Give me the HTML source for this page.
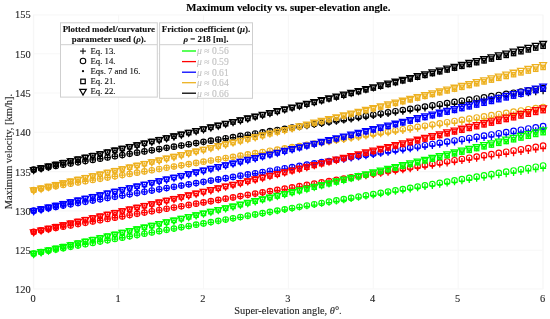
<!DOCTYPE html>
<html><head><meta charset="utf-8"><style>
html,body{margin:0;padding:0;background:#fff;width:550px;height:319px;overflow:hidden;position:relative;font-family:"Liberation Serif",serif;}
</style></head><body>
<svg width="550" height="319" viewBox="0 0 550 319" style="position:absolute;left:0;top:0;will-change:transform">
<line x1="33.70" y1="14.9" x2="33.70" y2="288.9" stroke="#f7f7f7" stroke-width="1.1"/>
<line x1="118.60" y1="14.9" x2="118.60" y2="288.9" stroke="#f7f7f7" stroke-width="1.1"/>
<line x1="203.50" y1="14.9" x2="203.50" y2="288.9" stroke="#f7f7f7" stroke-width="1.1"/>
<line x1="288.40" y1="14.9" x2="288.40" y2="288.9" stroke="#f7f7f7" stroke-width="1.1"/>
<line x1="373.30" y1="14.9" x2="373.30" y2="288.9" stroke="#f7f7f7" stroke-width="1.1"/>
<line x1="458.20" y1="14.9" x2="458.20" y2="288.9" stroke="#f7f7f7" stroke-width="1.1"/>
<line x1="543.10" y1="14.9" x2="543.10" y2="288.9" stroke="#f7f7f7" stroke-width="1.1"/>
<line x1="33.4" y1="250.20" x2="542.9" y2="250.20" stroke="#f7f7f7" stroke-width="1.1"/>
<line x1="33.4" y1="210.90" x2="542.9" y2="210.90" stroke="#f7f7f7" stroke-width="1.1"/>
<line x1="33.4" y1="171.60" x2="542.9" y2="171.60" stroke="#f7f7f7" stroke-width="1.1"/>
<line x1="33.4" y1="132.30" x2="542.9" y2="132.30" stroke="#f7f7f7" stroke-width="1.1"/>
<line x1="33.4" y1="93.00" x2="542.9" y2="93.00" stroke="#f7f7f7" stroke-width="1.1"/>
<line x1="33.4" y1="53.70" x2="542.9" y2="53.70" stroke="#f7f7f7" stroke-width="1.1"/>
<rect x="33.4" y="14.9" width="509.50" height="274.00" fill="none" stroke="#f7f7f7" stroke-width="1.1"/>
<path d="M30.70 253.48H36.70M33.70 250.48V256.48" stroke="#00ff00" stroke-width="1.3" fill="none"/>
<path d="M38.08 252.15H44.08M41.08 249.15V255.15" stroke="#00ff00" stroke-width="1.3" fill="none"/>
<path d="M45.47 250.83H51.47M48.47 247.83V253.83" stroke="#00ff00" stroke-width="1.3" fill="none"/>
<path d="M52.85 249.51H58.85M55.85 246.51V252.51" stroke="#00ff00" stroke-width="1.3" fill="none"/>
<path d="M60.23 248.19H66.23M63.23 245.19V251.19" stroke="#00ff00" stroke-width="1.3" fill="none"/>
<path d="M67.61 246.88H73.61M70.61 243.88V249.88" stroke="#00ff00" stroke-width="1.3" fill="none"/>
<path d="M75.00 245.57H81.00M78.00 242.57V248.57" stroke="#00ff00" stroke-width="1.3" fill="none"/>
<path d="M82.38 244.26H88.38M85.38 241.26V247.26" stroke="#00ff00" stroke-width="1.3" fill="none"/>
<path d="M89.76 242.95H95.76M92.76 239.95V245.95" stroke="#00ff00" stroke-width="1.3" fill="none"/>
<path d="M97.14 241.65H103.14M100.14 238.65V244.65" stroke="#00ff00" stroke-width="1.3" fill="none"/>
<path d="M104.53 240.35H110.53M107.53 237.35V243.35" stroke="#00ff00" stroke-width="1.3" fill="none"/>
<path d="M111.91 239.06H117.91M114.91 236.06V242.06" stroke="#00ff00" stroke-width="1.3" fill="none"/>
<path d="M119.29 237.76H125.29M122.29 234.76V240.76" stroke="#00ff00" stroke-width="1.3" fill="none"/>
<path d="M126.67 236.47H132.67M129.67 233.47V239.47" stroke="#00ff00" stroke-width="1.3" fill="none"/>
<path d="M134.06 235.18H140.06M137.06 232.18V238.18" stroke="#00ff00" stroke-width="1.3" fill="none"/>
<path d="M141.44 233.90H147.44M144.44 230.90V236.90" stroke="#00ff00" stroke-width="1.3" fill="none"/>
<path d="M148.82 232.61H154.82M151.82 229.61V235.61" stroke="#00ff00" stroke-width="1.3" fill="none"/>
<path d="M156.20 231.33H162.20M159.20 228.33V234.33" stroke="#00ff00" stroke-width="1.3" fill="none"/>
<path d="M163.59 230.06H169.59M166.59 227.06V233.06" stroke="#00ff00" stroke-width="1.3" fill="none"/>
<path d="M170.97 228.78H176.97M173.97 225.78V231.78" stroke="#00ff00" stroke-width="1.3" fill="none"/>
<path d="M178.35 227.51H184.35M181.35 224.51V230.51" stroke="#00ff00" stroke-width="1.3" fill="none"/>
<path d="M185.73 226.24H191.73M188.73 223.24V229.24" stroke="#00ff00" stroke-width="1.3" fill="none"/>
<path d="M193.12 224.98H199.12M196.12 221.98V227.98" stroke="#00ff00" stroke-width="1.3" fill="none"/>
<path d="M200.50 223.71H206.50M203.50 220.71V226.71" stroke="#00ff00" stroke-width="1.3" fill="none"/>
<path d="M207.88 222.45H213.88M210.88 219.45V225.45" stroke="#00ff00" stroke-width="1.3" fill="none"/>
<path d="M215.27 221.20H221.27M218.27 218.20V224.20" stroke="#00ff00" stroke-width="1.3" fill="none"/>
<path d="M222.65 219.94H228.65M225.65 216.94V222.94" stroke="#00ff00" stroke-width="1.3" fill="none"/>
<path d="M230.03 218.69H236.03M233.03 215.69V221.69" stroke="#00ff00" stroke-width="1.3" fill="none"/>
<path d="M237.41 217.44H243.41M240.41 214.44V220.44" stroke="#00ff00" stroke-width="1.3" fill="none"/>
<path d="M244.80 216.19H250.80M247.80 213.19V219.19" stroke="#00ff00" stroke-width="1.3" fill="none"/>
<path d="M252.18 214.95H258.18M255.18 211.95V217.95" stroke="#00ff00" stroke-width="1.3" fill="none"/>
<path d="M259.56 213.71H265.56M262.56 210.71V216.71" stroke="#00ff00" stroke-width="1.3" fill="none"/>
<path d="M266.94 212.47H272.94M269.94 209.47V215.47" stroke="#00ff00" stroke-width="1.3" fill="none"/>
<path d="M274.33 211.23H280.33M277.33 208.23V214.23" stroke="#00ff00" stroke-width="1.3" fill="none"/>
<path d="M281.71 210.00H287.71M284.71 207.00V213.00" stroke="#00ff00" stroke-width="1.3" fill="none"/>
<path d="M289.09 208.77H295.09M292.09 205.77V211.77" stroke="#00ff00" stroke-width="1.3" fill="none"/>
<path d="M296.47 207.54H302.47M299.47 204.54V210.54" stroke="#00ff00" stroke-width="1.3" fill="none"/>
<path d="M303.86 206.31H309.86M306.86 203.31V209.31" stroke="#00ff00" stroke-width="1.3" fill="none"/>
<path d="M311.24 205.09H317.24M314.24 202.09V208.09" stroke="#00ff00" stroke-width="1.3" fill="none"/>
<path d="M318.62 203.87H324.62M321.62 200.87V206.87" stroke="#00ff00" stroke-width="1.3" fill="none"/>
<path d="M326.00 202.65H332.00M329.00 199.65V205.65" stroke="#00ff00" stroke-width="1.3" fill="none"/>
<path d="M333.39 201.44H339.39M336.39 198.44V204.44" stroke="#00ff00" stroke-width="1.3" fill="none"/>
<path d="M340.77 200.23H346.77M343.77 197.23V203.23" stroke="#00ff00" stroke-width="1.3" fill="none"/>
<path d="M348.15 199.02H354.15M351.15 196.02V202.02" stroke="#00ff00" stroke-width="1.3" fill="none"/>
<path d="M355.53 197.81H361.53M358.53 194.81V200.81" stroke="#00ff00" stroke-width="1.3" fill="none"/>
<path d="M362.92 196.60H368.92M365.92 193.60V199.60" stroke="#00ff00" stroke-width="1.3" fill="none"/>
<path d="M370.30 195.40H376.30M373.30 192.40V198.40" stroke="#00ff00" stroke-width="1.3" fill="none"/>
<path d="M377.68 194.20H383.68M380.68 191.20V197.20" stroke="#00ff00" stroke-width="1.3" fill="none"/>
<path d="M385.07 193.01H391.07M388.07 190.01V196.01" stroke="#00ff00" stroke-width="1.3" fill="none"/>
<path d="M392.45 191.81H398.45M395.45 188.81V194.81" stroke="#00ff00" stroke-width="1.3" fill="none"/>
<path d="M399.83 190.62H405.83M402.83 187.62V193.62" stroke="#00ff00" stroke-width="1.3" fill="none"/>
<path d="M407.21 189.43H413.21M410.21 186.43V192.43" stroke="#00ff00" stroke-width="1.3" fill="none"/>
<path d="M414.60 188.25H420.60M417.60 185.25V191.25" stroke="#00ff00" stroke-width="1.3" fill="none"/>
<path d="M421.98 187.06H427.98M424.98 184.06V190.06" stroke="#00ff00" stroke-width="1.3" fill="none"/>
<path d="M429.36 185.88H435.36M432.36 182.88V188.88" stroke="#00ff00" stroke-width="1.3" fill="none"/>
<path d="M436.74 184.70H442.74M439.74 181.70V187.70" stroke="#00ff00" stroke-width="1.3" fill="none"/>
<path d="M444.13 183.52H450.13M447.13 180.52V186.52" stroke="#00ff00" stroke-width="1.3" fill="none"/>
<path d="M451.51 182.35H457.51M454.51 179.35V185.35" stroke="#00ff00" stroke-width="1.3" fill="none"/>
<path d="M458.89 181.18H464.89M461.89 178.18V184.18" stroke="#00ff00" stroke-width="1.3" fill="none"/>
<path d="M466.27 180.01H472.27M469.27 177.01V183.01" stroke="#00ff00" stroke-width="1.3" fill="none"/>
<path d="M473.66 178.84H479.66M476.66 175.84V181.84" stroke="#00ff00" stroke-width="1.3" fill="none"/>
<path d="M481.04 177.68H487.04M484.04 174.68V180.68" stroke="#00ff00" stroke-width="1.3" fill="none"/>
<path d="M488.42 176.52H494.42M491.42 173.52V179.52" stroke="#00ff00" stroke-width="1.3" fill="none"/>
<path d="M495.80 175.36H501.80M498.80 172.36V178.36" stroke="#00ff00" stroke-width="1.3" fill="none"/>
<path d="M503.19 174.20H509.19M506.19 171.20V177.20" stroke="#00ff00" stroke-width="1.3" fill="none"/>
<path d="M510.57 173.05H516.57M513.57 170.05V176.05" stroke="#00ff00" stroke-width="1.3" fill="none"/>
<path d="M517.95 171.90H523.95M520.95 168.90V174.90" stroke="#00ff00" stroke-width="1.3" fill="none"/>
<path d="M525.33 170.75H531.33M528.33 167.75V173.75" stroke="#00ff00" stroke-width="1.3" fill="none"/>
<path d="M532.72 169.60H538.72M535.72 166.60V172.60" stroke="#00ff00" stroke-width="1.3" fill="none"/>
<path d="M540.10 168.46H546.10M543.10 165.46V171.46" stroke="#00ff00" stroke-width="1.3" fill="none"/>
<path d="M30.70 231.86H36.70M33.70 228.86V234.86" stroke="#ff0000" stroke-width="1.3" fill="none"/>
<path d="M38.08 230.56H44.08M41.08 227.56V233.56" stroke="#ff0000" stroke-width="1.3" fill="none"/>
<path d="M45.47 229.27H51.47M48.47 226.27V232.27" stroke="#ff0000" stroke-width="1.3" fill="none"/>
<path d="M52.85 227.98H58.85M55.85 224.98V230.98" stroke="#ff0000" stroke-width="1.3" fill="none"/>
<path d="M60.23 226.69H66.23M63.23 223.69V229.69" stroke="#ff0000" stroke-width="1.3" fill="none"/>
<path d="M67.61 225.40H73.61M70.61 222.40V228.40" stroke="#ff0000" stroke-width="1.3" fill="none"/>
<path d="M75.00 224.12H81.00M78.00 221.12V227.12" stroke="#ff0000" stroke-width="1.3" fill="none"/>
<path d="M82.38 222.84H88.38M85.38 219.84V225.84" stroke="#ff0000" stroke-width="1.3" fill="none"/>
<path d="M89.76 221.56H95.76M92.76 218.56V224.56" stroke="#ff0000" stroke-width="1.3" fill="none"/>
<path d="M97.14 220.29H103.14M100.14 217.29V223.29" stroke="#ff0000" stroke-width="1.3" fill="none"/>
<path d="M104.53 219.02H110.53M107.53 216.02V222.02" stroke="#ff0000" stroke-width="1.3" fill="none"/>
<path d="M111.91 217.75H117.91M114.91 214.75V220.75" stroke="#ff0000" stroke-width="1.3" fill="none"/>
<path d="M119.29 216.48H125.29M122.29 213.48V219.48" stroke="#ff0000" stroke-width="1.3" fill="none"/>
<path d="M126.67 215.22H132.67M129.67 212.22V218.22" stroke="#ff0000" stroke-width="1.3" fill="none"/>
<path d="M134.06 213.96H140.06M137.06 210.96V216.96" stroke="#ff0000" stroke-width="1.3" fill="none"/>
<path d="M141.44 212.70H147.44M144.44 209.70V215.70" stroke="#ff0000" stroke-width="1.3" fill="none"/>
<path d="M148.82 211.44H154.82M151.82 208.44V214.44" stroke="#ff0000" stroke-width="1.3" fill="none"/>
<path d="M156.20 210.19H162.20M159.20 207.19V213.19" stroke="#ff0000" stroke-width="1.3" fill="none"/>
<path d="M163.59 208.94H169.59M166.59 205.94V211.94" stroke="#ff0000" stroke-width="1.3" fill="none"/>
<path d="M170.97 207.69H176.97M173.97 204.69V210.69" stroke="#ff0000" stroke-width="1.3" fill="none"/>
<path d="M178.35 206.45H184.35M181.35 203.45V209.45" stroke="#ff0000" stroke-width="1.3" fill="none"/>
<path d="M185.73 205.21H191.73M188.73 202.21V208.21" stroke="#ff0000" stroke-width="1.3" fill="none"/>
<path d="M193.12 203.97H199.12M196.12 200.97V206.97" stroke="#ff0000" stroke-width="1.3" fill="none"/>
<path d="M200.50 202.73H206.50M203.50 199.73V205.73" stroke="#ff0000" stroke-width="1.3" fill="none"/>
<path d="M207.88 201.50H213.88M210.88 198.50V204.50" stroke="#ff0000" stroke-width="1.3" fill="none"/>
<path d="M215.27 200.27H221.27M218.27 197.27V203.27" stroke="#ff0000" stroke-width="1.3" fill="none"/>
<path d="M222.65 199.04H228.65M225.65 196.04V202.04" stroke="#ff0000" stroke-width="1.3" fill="none"/>
<path d="M230.03 197.81H236.03M233.03 194.81V200.81" stroke="#ff0000" stroke-width="1.3" fill="none"/>
<path d="M237.41 196.59H243.41M240.41 193.59V199.59" stroke="#ff0000" stroke-width="1.3" fill="none"/>
<path d="M244.80 195.37H250.80M247.80 192.37V198.37" stroke="#ff0000" stroke-width="1.3" fill="none"/>
<path d="M252.18 194.15H258.18M255.18 191.15V197.15" stroke="#ff0000" stroke-width="1.3" fill="none"/>
<path d="M259.56 192.94H265.56M262.56 189.94V195.94" stroke="#ff0000" stroke-width="1.3" fill="none"/>
<path d="M266.94 191.72H272.94M269.94 188.72V194.72" stroke="#ff0000" stroke-width="1.3" fill="none"/>
<path d="M274.33 190.51H280.33M277.33 187.51V193.51" stroke="#ff0000" stroke-width="1.3" fill="none"/>
<path d="M281.71 189.31H287.71M284.71 186.31V192.31" stroke="#ff0000" stroke-width="1.3" fill="none"/>
<path d="M289.09 188.10H295.09M292.09 185.10V191.10" stroke="#ff0000" stroke-width="1.3" fill="none"/>
<path d="M296.47 186.90H302.47M299.47 183.90V189.90" stroke="#ff0000" stroke-width="1.3" fill="none"/>
<path d="M303.86 185.70H309.86M306.86 182.70V188.70" stroke="#ff0000" stroke-width="1.3" fill="none"/>
<path d="M311.24 184.50H317.24M314.24 181.50V187.50" stroke="#ff0000" stroke-width="1.3" fill="none"/>
<path d="M318.62 183.31H324.62M321.62 180.31V186.31" stroke="#ff0000" stroke-width="1.3" fill="none"/>
<path d="M326.00 182.12H332.00M329.00 179.12V185.12" stroke="#ff0000" stroke-width="1.3" fill="none"/>
<path d="M333.39 180.93H339.39M336.39 177.93V183.93" stroke="#ff0000" stroke-width="1.3" fill="none"/>
<path d="M340.77 179.74H346.77M343.77 176.74V182.74" stroke="#ff0000" stroke-width="1.3" fill="none"/>
<path d="M348.15 178.56H354.15M351.15 175.56V181.56" stroke="#ff0000" stroke-width="1.3" fill="none"/>
<path d="M355.53 177.38H361.53M358.53 174.38V180.38" stroke="#ff0000" stroke-width="1.3" fill="none"/>
<path d="M362.92 176.20H368.92M365.92 173.20V179.20" stroke="#ff0000" stroke-width="1.3" fill="none"/>
<path d="M370.30 175.02H376.30M373.30 172.02V178.02" stroke="#ff0000" stroke-width="1.3" fill="none"/>
<path d="M377.68 173.85H383.68M380.68 170.85V176.85" stroke="#ff0000" stroke-width="1.3" fill="none"/>
<path d="M385.07 172.67H391.07M388.07 169.67V175.67" stroke="#ff0000" stroke-width="1.3" fill="none"/>
<path d="M392.45 171.50H398.45M395.45 168.50V174.50" stroke="#ff0000" stroke-width="1.3" fill="none"/>
<path d="M399.83 170.34H405.83M402.83 167.34V173.34" stroke="#ff0000" stroke-width="1.3" fill="none"/>
<path d="M407.21 169.17H413.21M410.21 166.17V172.17" stroke="#ff0000" stroke-width="1.3" fill="none"/>
<path d="M414.60 168.01H420.60M417.60 165.01V171.01" stroke="#ff0000" stroke-width="1.3" fill="none"/>
<path d="M421.98 166.85H427.98M424.98 163.85V169.85" stroke="#ff0000" stroke-width="1.3" fill="none"/>
<path d="M429.36 165.70H435.36M432.36 162.70V168.70" stroke="#ff0000" stroke-width="1.3" fill="none"/>
<path d="M436.74 164.54H442.74M439.74 161.54V167.54" stroke="#ff0000" stroke-width="1.3" fill="none"/>
<path d="M444.13 163.39H450.13M447.13 160.39V166.39" stroke="#ff0000" stroke-width="1.3" fill="none"/>
<path d="M451.51 162.24H457.51M454.51 159.24V165.24" stroke="#ff0000" stroke-width="1.3" fill="none"/>
<path d="M458.89 161.10H464.89M461.89 158.10V164.10" stroke="#ff0000" stroke-width="1.3" fill="none"/>
<path d="M466.27 159.95H472.27M469.27 156.95V162.95" stroke="#ff0000" stroke-width="1.3" fill="none"/>
<path d="M473.66 158.81H479.66M476.66 155.81V161.81" stroke="#ff0000" stroke-width="1.3" fill="none"/>
<path d="M481.04 157.67H487.04M484.04 154.67V160.67" stroke="#ff0000" stroke-width="1.3" fill="none"/>
<path d="M488.42 156.53H494.42M491.42 153.53V159.53" stroke="#ff0000" stroke-width="1.3" fill="none"/>
<path d="M495.80 155.40H501.80M498.80 152.40V158.40" stroke="#ff0000" stroke-width="1.3" fill="none"/>
<path d="M503.19 154.27H509.19M506.19 151.27V157.27" stroke="#ff0000" stroke-width="1.3" fill="none"/>
<path d="M510.57 153.14H516.57M513.57 150.14V156.14" stroke="#ff0000" stroke-width="1.3" fill="none"/>
<path d="M517.95 152.01H523.95M520.95 149.01V155.01" stroke="#ff0000" stroke-width="1.3" fill="none"/>
<path d="M525.33 150.88H531.33M528.33 147.88V153.88" stroke="#ff0000" stroke-width="1.3" fill="none"/>
<path d="M532.72 149.76H538.72M535.72 146.76V152.76" stroke="#ff0000" stroke-width="1.3" fill="none"/>
<path d="M540.10 148.64H546.10M543.10 145.64V151.64" stroke="#ff0000" stroke-width="1.3" fill="none"/>
<path d="M30.70 210.70H36.70M33.70 207.70V213.70" stroke="#0000ff" stroke-width="1.3" fill="none"/>
<path d="M38.08 209.43H44.08M41.08 206.43V212.43" stroke="#0000ff" stroke-width="1.3" fill="none"/>
<path d="M45.47 208.16H51.47M48.47 205.16V211.16" stroke="#0000ff" stroke-width="1.3" fill="none"/>
<path d="M52.85 206.89H58.85M55.85 203.89V209.89" stroke="#0000ff" stroke-width="1.3" fill="none"/>
<path d="M60.23 205.63H66.23M63.23 202.63V208.63" stroke="#0000ff" stroke-width="1.3" fill="none"/>
<path d="M67.61 204.37H73.61M70.61 201.37V207.37" stroke="#0000ff" stroke-width="1.3" fill="none"/>
<path d="M75.00 203.12H81.00M78.00 200.12V206.12" stroke="#0000ff" stroke-width="1.3" fill="none"/>
<path d="M82.38 201.86H88.38M85.38 198.86V204.86" stroke="#0000ff" stroke-width="1.3" fill="none"/>
<path d="M89.76 200.61H95.76M92.76 197.61V203.61" stroke="#0000ff" stroke-width="1.3" fill="none"/>
<path d="M97.14 199.36H103.14M100.14 196.36V202.36" stroke="#0000ff" stroke-width="1.3" fill="none"/>
<path d="M104.53 198.12H110.53M107.53 195.12V201.12" stroke="#0000ff" stroke-width="1.3" fill="none"/>
<path d="M111.91 196.88H117.91M114.91 193.88V199.88" stroke="#0000ff" stroke-width="1.3" fill="none"/>
<path d="M119.29 195.64H125.29M122.29 192.64V198.64" stroke="#0000ff" stroke-width="1.3" fill="none"/>
<path d="M126.67 194.40H132.67M129.67 191.40V197.40" stroke="#0000ff" stroke-width="1.3" fill="none"/>
<path d="M134.06 193.16H140.06M137.06 190.16V196.16" stroke="#0000ff" stroke-width="1.3" fill="none"/>
<path d="M141.44 191.93H147.44M144.44 188.93V194.93" stroke="#0000ff" stroke-width="1.3" fill="none"/>
<path d="M148.82 190.70H154.82M151.82 187.70V193.70" stroke="#0000ff" stroke-width="1.3" fill="none"/>
<path d="M156.20 189.48H162.20M159.20 186.48V192.48" stroke="#0000ff" stroke-width="1.3" fill="none"/>
<path d="M163.59 188.25H169.59M166.59 185.25V191.25" stroke="#0000ff" stroke-width="1.3" fill="none"/>
<path d="M170.97 187.03H176.97M173.97 184.03V190.03" stroke="#0000ff" stroke-width="1.3" fill="none"/>
<path d="M178.35 185.81H184.35M181.35 182.81V188.81" stroke="#0000ff" stroke-width="1.3" fill="none"/>
<path d="M185.73 184.59H191.73M188.73 181.59V187.59" stroke="#0000ff" stroke-width="1.3" fill="none"/>
<path d="M193.12 183.38H199.12M196.12 180.38V186.38" stroke="#0000ff" stroke-width="1.3" fill="none"/>
<path d="M200.50 182.17H206.50M203.50 179.17V185.17" stroke="#0000ff" stroke-width="1.3" fill="none"/>
<path d="M207.88 180.96H213.88M210.88 177.96V183.96" stroke="#0000ff" stroke-width="1.3" fill="none"/>
<path d="M215.27 179.76H221.27M218.27 176.76V182.76" stroke="#0000ff" stroke-width="1.3" fill="none"/>
<path d="M222.65 178.55H228.65M225.65 175.55V181.55" stroke="#0000ff" stroke-width="1.3" fill="none"/>
<path d="M230.03 177.35H236.03M233.03 174.35V180.35" stroke="#0000ff" stroke-width="1.3" fill="none"/>
<path d="M237.41 176.15H243.41M240.41 173.15V179.15" stroke="#0000ff" stroke-width="1.3" fill="none"/>
<path d="M244.80 174.96H250.80M247.80 171.96V177.96" stroke="#0000ff" stroke-width="1.3" fill="none"/>
<path d="M252.18 173.76H258.18M255.18 170.76V176.76" stroke="#0000ff" stroke-width="1.3" fill="none"/>
<path d="M259.56 172.57H265.56M262.56 169.57V175.57" stroke="#0000ff" stroke-width="1.3" fill="none"/>
<path d="M266.94 171.39H272.94M269.94 168.39V174.39" stroke="#0000ff" stroke-width="1.3" fill="none"/>
<path d="M274.33 170.20H280.33M277.33 167.20V173.20" stroke="#0000ff" stroke-width="1.3" fill="none"/>
<path d="M281.71 169.02H287.71M284.71 166.02V172.02" stroke="#0000ff" stroke-width="1.3" fill="none"/>
<path d="M289.09 167.84H295.09M292.09 164.84V170.84" stroke="#0000ff" stroke-width="1.3" fill="none"/>
<path d="M296.47 166.66H302.47M299.47 163.66V169.66" stroke="#0000ff" stroke-width="1.3" fill="none"/>
<path d="M303.86 165.49H309.86M306.86 162.49V168.49" stroke="#0000ff" stroke-width="1.3" fill="none"/>
<path d="M311.24 164.31H317.24M314.24 161.31V167.31" stroke="#0000ff" stroke-width="1.3" fill="none"/>
<path d="M318.62 163.14H324.62M321.62 160.14V166.14" stroke="#0000ff" stroke-width="1.3" fill="none"/>
<path d="M326.00 161.97H332.00M329.00 158.97V164.97" stroke="#0000ff" stroke-width="1.3" fill="none"/>
<path d="M333.39 160.81H339.39M336.39 157.81V163.81" stroke="#0000ff" stroke-width="1.3" fill="none"/>
<path d="M340.77 159.65H346.77M343.77 156.65V162.65" stroke="#0000ff" stroke-width="1.3" fill="none"/>
<path d="M348.15 158.49H354.15M351.15 155.49V161.49" stroke="#0000ff" stroke-width="1.3" fill="none"/>
<path d="M355.53 157.33H361.53M358.53 154.33V160.33" stroke="#0000ff" stroke-width="1.3" fill="none"/>
<path d="M362.92 156.17H368.92M365.92 153.17V159.17" stroke="#0000ff" stroke-width="1.3" fill="none"/>
<path d="M370.30 155.02H376.30M373.30 152.02V158.02" stroke="#0000ff" stroke-width="1.3" fill="none"/>
<path d="M377.68 153.87H383.68M380.68 150.87V156.87" stroke="#0000ff" stroke-width="1.3" fill="none"/>
<path d="M385.07 152.72H391.07M388.07 149.72V155.72" stroke="#0000ff" stroke-width="1.3" fill="none"/>
<path d="M392.45 151.58H398.45M395.45 148.58V154.58" stroke="#0000ff" stroke-width="1.3" fill="none"/>
<path d="M399.83 150.44H405.83M402.83 147.44V153.44" stroke="#0000ff" stroke-width="1.3" fill="none"/>
<path d="M407.21 149.29H413.21M410.21 146.29V152.29" stroke="#0000ff" stroke-width="1.3" fill="none"/>
<path d="M414.60 148.16H420.60M417.60 145.16V151.16" stroke="#0000ff" stroke-width="1.3" fill="none"/>
<path d="M421.98 147.02H427.98M424.98 144.02V150.02" stroke="#0000ff" stroke-width="1.3" fill="none"/>
<path d="M429.36 145.89H435.36M432.36 142.89V148.89" stroke="#0000ff" stroke-width="1.3" fill="none"/>
<path d="M436.74 144.76H442.74M439.74 141.76V147.76" stroke="#0000ff" stroke-width="1.3" fill="none"/>
<path d="M444.13 143.63H450.13M447.13 140.63V146.63" stroke="#0000ff" stroke-width="1.3" fill="none"/>
<path d="M451.51 142.50H457.51M454.51 139.50V145.50" stroke="#0000ff" stroke-width="1.3" fill="none"/>
<path d="M458.89 141.38H464.89M461.89 138.38V144.38" stroke="#0000ff" stroke-width="1.3" fill="none"/>
<path d="M466.27 140.26H472.27M469.27 137.26V143.26" stroke="#0000ff" stroke-width="1.3" fill="none"/>
<path d="M473.66 139.14H479.66M476.66 136.14V142.14" stroke="#0000ff" stroke-width="1.3" fill="none"/>
<path d="M481.04 138.02H487.04M484.04 135.02V141.02" stroke="#0000ff" stroke-width="1.3" fill="none"/>
<path d="M488.42 136.91H494.42M491.42 133.91V139.91" stroke="#0000ff" stroke-width="1.3" fill="none"/>
<path d="M495.80 135.80H501.80M498.80 132.80V138.80" stroke="#0000ff" stroke-width="1.3" fill="none"/>
<path d="M503.19 134.69H509.19M506.19 131.69V137.69" stroke="#0000ff" stroke-width="1.3" fill="none"/>
<path d="M510.57 133.58H516.57M513.57 130.58V136.58" stroke="#0000ff" stroke-width="1.3" fill="none"/>
<path d="M517.95 132.48H523.95M520.95 129.48V135.48" stroke="#0000ff" stroke-width="1.3" fill="none"/>
<path d="M525.33 131.38H531.33M528.33 128.38V134.38" stroke="#0000ff" stroke-width="1.3" fill="none"/>
<path d="M532.72 130.28H538.72M535.72 127.28V133.28" stroke="#0000ff" stroke-width="1.3" fill="none"/>
<path d="M540.10 129.18H546.10M543.10 126.18V132.18" stroke="#0000ff" stroke-width="1.3" fill="none"/>
<path d="M30.70 189.96H36.70M33.70 186.96V192.96" stroke="#edb120" stroke-width="1.3" fill="none"/>
<path d="M38.08 188.72H44.08M41.08 185.72V191.72" stroke="#edb120" stroke-width="1.3" fill="none"/>
<path d="M45.47 187.48H51.47M48.47 184.48V190.48" stroke="#edb120" stroke-width="1.3" fill="none"/>
<path d="M52.85 186.24H58.85M55.85 183.24V189.24" stroke="#edb120" stroke-width="1.3" fill="none"/>
<path d="M60.23 185.00H66.23M63.23 182.00V188.00" stroke="#edb120" stroke-width="1.3" fill="none"/>
<path d="M67.61 183.77H73.61M70.61 180.77V186.77" stroke="#edb120" stroke-width="1.3" fill="none"/>
<path d="M75.00 182.53H81.00M78.00 179.53V185.53" stroke="#edb120" stroke-width="1.3" fill="none"/>
<path d="M82.38 181.31H88.38M85.38 178.31V184.31" stroke="#edb120" stroke-width="1.3" fill="none"/>
<path d="M89.76 180.08H95.76M92.76 177.08V183.08" stroke="#edb120" stroke-width="1.3" fill="none"/>
<path d="M97.14 178.86H103.14M100.14 175.86V181.86" stroke="#edb120" stroke-width="1.3" fill="none"/>
<path d="M104.53 177.64H110.53M107.53 174.64V180.64" stroke="#edb120" stroke-width="1.3" fill="none"/>
<path d="M111.91 176.42H117.91M114.91 173.42V179.42" stroke="#edb120" stroke-width="1.3" fill="none"/>
<path d="M119.29 175.20H125.29M122.29 172.20V178.20" stroke="#edb120" stroke-width="1.3" fill="none"/>
<path d="M126.67 173.99H132.67M129.67 170.99V176.99" stroke="#edb120" stroke-width="1.3" fill="none"/>
<path d="M134.06 172.78H140.06M137.06 169.78V175.78" stroke="#edb120" stroke-width="1.3" fill="none"/>
<path d="M141.44 171.57H147.44M144.44 168.57V174.57" stroke="#edb120" stroke-width="1.3" fill="none"/>
<path d="M148.82 170.37H154.82M151.82 167.37V173.37" stroke="#edb120" stroke-width="1.3" fill="none"/>
<path d="M156.20 169.16H162.20M159.20 166.16V172.16" stroke="#edb120" stroke-width="1.3" fill="none"/>
<path d="M163.59 167.96H169.59M166.59 164.96V170.96" stroke="#edb120" stroke-width="1.3" fill="none"/>
<path d="M170.97 166.77H176.97M173.97 163.77V169.77" stroke="#edb120" stroke-width="1.3" fill="none"/>
<path d="M178.35 165.57H184.35M181.35 162.57V168.57" stroke="#edb120" stroke-width="1.3" fill="none"/>
<path d="M185.73 164.38H191.73M188.73 161.38V167.38" stroke="#edb120" stroke-width="1.3" fill="none"/>
<path d="M193.12 163.19H199.12M196.12 160.19V166.19" stroke="#edb120" stroke-width="1.3" fill="none"/>
<path d="M200.50 162.00H206.50M203.50 159.00V165.00" stroke="#edb120" stroke-width="1.3" fill="none"/>
<path d="M207.88 160.82H213.88M210.88 157.82V163.82" stroke="#edb120" stroke-width="1.3" fill="none"/>
<path d="M215.27 159.63H221.27M218.27 156.63V162.63" stroke="#edb120" stroke-width="1.3" fill="none"/>
<path d="M222.65 158.46H228.65M225.65 155.46V161.46" stroke="#edb120" stroke-width="1.3" fill="none"/>
<path d="M230.03 157.28H236.03M233.03 154.28V160.28" stroke="#edb120" stroke-width="1.3" fill="none"/>
<path d="M237.41 156.10H243.41M240.41 153.10V159.10" stroke="#edb120" stroke-width="1.3" fill="none"/>
<path d="M244.80 154.93H250.80M247.80 151.93V157.93" stroke="#edb120" stroke-width="1.3" fill="none"/>
<path d="M252.18 153.76H258.18M255.18 150.76V156.76" stroke="#edb120" stroke-width="1.3" fill="none"/>
<path d="M259.56 152.60H265.56M262.56 149.60V155.60" stroke="#edb120" stroke-width="1.3" fill="none"/>
<path d="M266.94 151.43H272.94M269.94 148.43V154.43" stroke="#edb120" stroke-width="1.3" fill="none"/>
<path d="M274.33 150.27H280.33M277.33 147.27V153.27" stroke="#edb120" stroke-width="1.3" fill="none"/>
<path d="M281.71 149.11H287.71M284.71 146.11V152.11" stroke="#edb120" stroke-width="1.3" fill="none"/>
<path d="M289.09 147.95H295.09M292.09 144.95V150.95" stroke="#edb120" stroke-width="1.3" fill="none"/>
<path d="M296.47 146.80H302.47M299.47 143.80V149.80" stroke="#edb120" stroke-width="1.3" fill="none"/>
<path d="M303.86 145.65H309.86M306.86 142.65V148.65" stroke="#edb120" stroke-width="1.3" fill="none"/>
<path d="M311.24 144.50H317.24M314.24 141.50V147.50" stroke="#edb120" stroke-width="1.3" fill="none"/>
<path d="M318.62 143.35H324.62M321.62 140.35V146.35" stroke="#edb120" stroke-width="1.3" fill="none"/>
<path d="M326.00 142.20H332.00M329.00 139.20V145.20" stroke="#edb120" stroke-width="1.3" fill="none"/>
<path d="M333.39 141.06H339.39M336.39 138.06V144.06" stroke="#edb120" stroke-width="1.3" fill="none"/>
<path d="M340.77 139.92H346.77M343.77 136.92V142.92" stroke="#edb120" stroke-width="1.3" fill="none"/>
<path d="M348.15 138.79H354.15M351.15 135.79V141.79" stroke="#edb120" stroke-width="1.3" fill="none"/>
<path d="M355.53 137.65H361.53M358.53 134.65V140.65" stroke="#edb120" stroke-width="1.3" fill="none"/>
<path d="M362.92 136.52H368.92M365.92 133.52V139.52" stroke="#edb120" stroke-width="1.3" fill="none"/>
<path d="M370.30 135.39H376.30M373.30 132.39V138.39" stroke="#edb120" stroke-width="1.3" fill="none"/>
<path d="M377.68 134.26H383.68M380.68 131.26V137.26" stroke="#edb120" stroke-width="1.3" fill="none"/>
<path d="M385.07 133.14H391.07M388.07 130.14V136.14" stroke="#edb120" stroke-width="1.3" fill="none"/>
<path d="M392.45 132.01H398.45M395.45 129.01V135.01" stroke="#edb120" stroke-width="1.3" fill="none"/>
<path d="M399.83 130.89H405.83M402.83 127.89V133.89" stroke="#edb120" stroke-width="1.3" fill="none"/>
<path d="M407.21 129.77H413.21M410.21 126.77V132.77" stroke="#edb120" stroke-width="1.3" fill="none"/>
<path d="M414.60 128.66H420.60M417.60 125.66V131.66" stroke="#edb120" stroke-width="1.3" fill="none"/>
<path d="M421.98 127.55H427.98M424.98 124.55V130.55" stroke="#edb120" stroke-width="1.3" fill="none"/>
<path d="M429.36 126.43H435.36M432.36 123.43V129.43" stroke="#edb120" stroke-width="1.3" fill="none"/>
<path d="M436.74 125.33H442.74M439.74 122.33V128.33" stroke="#edb120" stroke-width="1.3" fill="none"/>
<path d="M444.13 124.22H450.13M447.13 121.22V127.22" stroke="#edb120" stroke-width="1.3" fill="none"/>
<path d="M451.51 123.12H457.51M454.51 120.12V126.12" stroke="#edb120" stroke-width="1.3" fill="none"/>
<path d="M458.89 122.02H464.89M461.89 119.02V125.02" stroke="#edb120" stroke-width="1.3" fill="none"/>
<path d="M466.27 120.92H472.27M469.27 117.92V123.92" stroke="#edb120" stroke-width="1.3" fill="none"/>
<path d="M473.66 119.82H479.66M476.66 116.82V122.82" stroke="#edb120" stroke-width="1.3" fill="none"/>
<path d="M481.04 118.73H487.04M484.04 115.73V121.73" stroke="#edb120" stroke-width="1.3" fill="none"/>
<path d="M488.42 117.63H494.42M491.42 114.63V120.63" stroke="#edb120" stroke-width="1.3" fill="none"/>
<path d="M495.80 116.55H501.80M498.80 113.55V119.55" stroke="#edb120" stroke-width="1.3" fill="none"/>
<path d="M503.19 115.46H509.19M506.19 112.46V118.46" stroke="#edb120" stroke-width="1.3" fill="none"/>
<path d="M510.57 114.37H516.57M513.57 111.37V117.37" stroke="#edb120" stroke-width="1.3" fill="none"/>
<path d="M517.95 113.29H523.95M520.95 110.29V116.29" stroke="#edb120" stroke-width="1.3" fill="none"/>
<path d="M525.33 112.21H531.33M528.33 109.21V115.21" stroke="#edb120" stroke-width="1.3" fill="none"/>
<path d="M532.72 111.13H538.72M535.72 108.13V114.13" stroke="#edb120" stroke-width="1.3" fill="none"/>
<path d="M540.10 110.06H546.10M543.10 107.06V113.06" stroke="#edb120" stroke-width="1.3" fill="none"/>
<path d="M30.70 169.64H36.70M33.70 166.64V172.64" stroke="#000000" stroke-width="1.3" fill="none"/>
<path d="M38.08 168.41H44.08M41.08 165.41V171.41" stroke="#000000" stroke-width="1.3" fill="none"/>
<path d="M45.47 167.20H51.47M48.47 164.20V170.20" stroke="#000000" stroke-width="1.3" fill="none"/>
<path d="M52.85 165.98H58.85M55.85 162.98V168.98" stroke="#000000" stroke-width="1.3" fill="none"/>
<path d="M60.23 164.77H66.23M63.23 161.77V167.77" stroke="#000000" stroke-width="1.3" fill="none"/>
<path d="M67.61 163.56H73.61M70.61 160.56V166.56" stroke="#000000" stroke-width="1.3" fill="none"/>
<path d="M75.00 162.35H81.00M78.00 159.35V165.35" stroke="#000000" stroke-width="1.3" fill="none"/>
<path d="M82.38 161.14H88.38M85.38 158.14V164.14" stroke="#000000" stroke-width="1.3" fill="none"/>
<path d="M89.76 159.94H95.76M92.76 156.94V162.94" stroke="#000000" stroke-width="1.3" fill="none"/>
<path d="M97.14 158.74H103.14M100.14 155.74V161.74" stroke="#000000" stroke-width="1.3" fill="none"/>
<path d="M104.53 157.54H110.53M107.53 154.54V160.54" stroke="#000000" stroke-width="1.3" fill="none"/>
<path d="M111.91 156.35H117.91M114.91 153.35V159.35" stroke="#000000" stroke-width="1.3" fill="none"/>
<path d="M119.29 155.16H125.29M122.29 152.16V158.16" stroke="#000000" stroke-width="1.3" fill="none"/>
<path d="M126.67 153.97H132.67M129.67 150.97V156.97" stroke="#000000" stroke-width="1.3" fill="none"/>
<path d="M134.06 152.78H140.06M137.06 149.78V155.78" stroke="#000000" stroke-width="1.3" fill="none"/>
<path d="M141.44 151.59H147.44M144.44 148.59V154.59" stroke="#000000" stroke-width="1.3" fill="none"/>
<path d="M148.82 150.41H154.82M151.82 147.41V153.41" stroke="#000000" stroke-width="1.3" fill="none"/>
<path d="M156.20 149.23H162.20M159.20 146.23V152.23" stroke="#000000" stroke-width="1.3" fill="none"/>
<path d="M163.59 148.05H169.59M166.59 145.05V151.05" stroke="#000000" stroke-width="1.3" fill="none"/>
<path d="M170.97 146.88H176.97M173.97 143.88V149.88" stroke="#000000" stroke-width="1.3" fill="none"/>
<path d="M178.35 145.71H184.35M181.35 142.71V148.71" stroke="#000000" stroke-width="1.3" fill="none"/>
<path d="M185.73 144.54H191.73M188.73 141.54V147.54" stroke="#000000" stroke-width="1.3" fill="none"/>
<path d="M193.12 143.37H199.12M196.12 140.37V146.37" stroke="#000000" stroke-width="1.3" fill="none"/>
<path d="M200.50 142.21H206.50M203.50 139.21V145.21" stroke="#000000" stroke-width="1.3" fill="none"/>
<path d="M207.88 141.04H213.88M210.88 138.04V144.04" stroke="#000000" stroke-width="1.3" fill="none"/>
<path d="M215.27 139.88H221.27M218.27 136.88V142.88" stroke="#000000" stroke-width="1.3" fill="none"/>
<path d="M222.65 138.73H228.65M225.65 135.73V141.73" stroke="#000000" stroke-width="1.3" fill="none"/>
<path d="M230.03 137.57H236.03M233.03 134.57V140.57" stroke="#000000" stroke-width="1.3" fill="none"/>
<path d="M237.41 136.42H243.41M240.41 133.42V139.42" stroke="#000000" stroke-width="1.3" fill="none"/>
<path d="M244.80 135.27H250.80M247.80 132.27V138.27" stroke="#000000" stroke-width="1.3" fill="none"/>
<path d="M252.18 134.12H258.18M255.18 131.12V137.12" stroke="#000000" stroke-width="1.3" fill="none"/>
<path d="M259.56 132.98H265.56M262.56 129.98V135.98" stroke="#000000" stroke-width="1.3" fill="none"/>
<path d="M266.94 131.84H272.94M269.94 128.84V134.84" stroke="#000000" stroke-width="1.3" fill="none"/>
<path d="M274.33 130.70H280.33M277.33 127.70V133.70" stroke="#000000" stroke-width="1.3" fill="none"/>
<path d="M281.71 129.56H287.71M284.71 126.56V132.56" stroke="#000000" stroke-width="1.3" fill="none"/>
<path d="M289.09 128.42H295.09M292.09 125.42V131.42" stroke="#000000" stroke-width="1.3" fill="none"/>
<path d="M296.47 127.29H302.47M299.47 124.29V130.29" stroke="#000000" stroke-width="1.3" fill="none"/>
<path d="M303.86 126.16H309.86M306.86 123.16V129.16" stroke="#000000" stroke-width="1.3" fill="none"/>
<path d="M311.24 125.03H317.24M314.24 122.03V128.03" stroke="#000000" stroke-width="1.3" fill="none"/>
<path d="M318.62 123.91H324.62M321.62 120.91V126.91" stroke="#000000" stroke-width="1.3" fill="none"/>
<path d="M326.00 122.79H332.00M329.00 119.79V125.79" stroke="#000000" stroke-width="1.3" fill="none"/>
<path d="M333.39 121.67H339.39M336.39 118.67V124.67" stroke="#000000" stroke-width="1.3" fill="none"/>
<path d="M340.77 120.55H346.77M343.77 117.55V123.55" stroke="#000000" stroke-width="1.3" fill="none"/>
<path d="M348.15 119.43H354.15M351.15 116.43V122.43" stroke="#000000" stroke-width="1.3" fill="none"/>
<path d="M355.53 118.32H361.53M358.53 115.32V121.32" stroke="#000000" stroke-width="1.3" fill="none"/>
<path d="M362.92 117.21H368.92M365.92 114.21V120.21" stroke="#000000" stroke-width="1.3" fill="none"/>
<path d="M370.30 116.10H376.30M373.30 113.10V119.10" stroke="#000000" stroke-width="1.3" fill="none"/>
<path d="M377.68 114.99H383.68M380.68 111.99V117.99" stroke="#000000" stroke-width="1.3" fill="none"/>
<path d="M385.07 113.89H391.07M388.07 110.89V116.89" stroke="#000000" stroke-width="1.3" fill="none"/>
<path d="M392.45 112.79H398.45M395.45 109.79V115.79" stroke="#000000" stroke-width="1.3" fill="none"/>
<path d="M399.83 111.69H405.83M402.83 108.69V114.69" stroke="#000000" stroke-width="1.3" fill="none"/>
<path d="M407.21 110.59H413.21M410.21 107.59V113.59" stroke="#000000" stroke-width="1.3" fill="none"/>
<path d="M414.60 109.50H420.60M417.60 106.50V112.50" stroke="#000000" stroke-width="1.3" fill="none"/>
<path d="M421.98 108.41H427.98M424.98 105.41V111.41" stroke="#000000" stroke-width="1.3" fill="none"/>
<path d="M429.36 107.32H435.36M432.36 104.32V110.32" stroke="#000000" stroke-width="1.3" fill="none"/>
<path d="M436.74 106.23H442.74M439.74 103.23V109.23" stroke="#000000" stroke-width="1.3" fill="none"/>
<path d="M444.13 105.15H450.13M447.13 102.15V108.15" stroke="#000000" stroke-width="1.3" fill="none"/>
<path d="M451.51 104.06H457.51M454.51 101.06V107.06" stroke="#000000" stroke-width="1.3" fill="none"/>
<path d="M458.89 102.98H464.89M461.89 99.98V105.98" stroke="#000000" stroke-width="1.3" fill="none"/>
<path d="M466.27 101.90H472.27M469.27 98.90V104.90" stroke="#000000" stroke-width="1.3" fill="none"/>
<path d="M473.66 100.83H479.66M476.66 97.83V103.83" stroke="#000000" stroke-width="1.3" fill="none"/>
<path d="M481.04 99.76H487.04M484.04 96.76V102.76" stroke="#000000" stroke-width="1.3" fill="none"/>
<path d="M488.42 98.69H494.42M491.42 95.69V101.69" stroke="#000000" stroke-width="1.3" fill="none"/>
<path d="M495.80 97.62H501.80M498.80 94.62V100.62" stroke="#000000" stroke-width="1.3" fill="none"/>
<path d="M503.19 96.55H509.19M506.19 93.55V99.55" stroke="#000000" stroke-width="1.3" fill="none"/>
<path d="M510.57 95.49H516.57M513.57 92.49V98.49" stroke="#000000" stroke-width="1.3" fill="none"/>
<path d="M517.95 94.43H523.95M520.95 91.43V97.43" stroke="#000000" stroke-width="1.3" fill="none"/>
<path d="M525.33 93.37H531.33M528.33 90.37V96.37" stroke="#000000" stroke-width="1.3" fill="none"/>
<path d="M532.72 92.31H538.72M535.72 89.31V95.31" stroke="#000000" stroke-width="1.3" fill="none"/>
<path d="M540.10 91.25H546.10M543.10 88.25V94.25" stroke="#000000" stroke-width="1.3" fill="none"/>
<circle cx="33.70" cy="253.48" r="2.76" stroke="#00ff00" stroke-width="1.14" fill="none"/>
<circle cx="41.08" cy="252.15" r="2.76" stroke="#00ff00" stroke-width="1.14" fill="none"/>
<circle cx="48.47" cy="250.83" r="2.76" stroke="#00ff00" stroke-width="1.14" fill="none"/>
<circle cx="55.85" cy="249.50" r="2.76" stroke="#00ff00" stroke-width="1.14" fill="none"/>
<circle cx="63.23" cy="248.18" r="2.76" stroke="#00ff00" stroke-width="1.14" fill="none"/>
<circle cx="70.61" cy="246.86" r="2.76" stroke="#00ff00" stroke-width="1.14" fill="none"/>
<circle cx="78.00" cy="245.55" r="2.76" stroke="#00ff00" stroke-width="1.14" fill="none"/>
<circle cx="85.38" cy="244.23" r="2.76" stroke="#00ff00" stroke-width="1.14" fill="none"/>
<circle cx="92.76" cy="242.92" r="2.76" stroke="#00ff00" stroke-width="1.14" fill="none"/>
<circle cx="100.14" cy="241.61" r="2.76" stroke="#00ff00" stroke-width="1.14" fill="none"/>
<circle cx="107.53" cy="240.30" r="2.76" stroke="#00ff00" stroke-width="1.14" fill="none"/>
<circle cx="114.91" cy="238.99" r="2.76" stroke="#00ff00" stroke-width="1.14" fill="none"/>
<circle cx="122.29" cy="237.68" r="2.76" stroke="#00ff00" stroke-width="1.14" fill="none"/>
<circle cx="129.67" cy="236.37" r="2.76" stroke="#00ff00" stroke-width="1.14" fill="none"/>
<circle cx="137.06" cy="235.07" r="2.76" stroke="#00ff00" stroke-width="1.14" fill="none"/>
<circle cx="144.44" cy="233.77" r="2.76" stroke="#00ff00" stroke-width="1.14" fill="none"/>
<circle cx="151.82" cy="232.47" r="2.76" stroke="#00ff00" stroke-width="1.14" fill="none"/>
<circle cx="159.20" cy="231.17" r="2.76" stroke="#00ff00" stroke-width="1.14" fill="none"/>
<circle cx="166.59" cy="229.87" r="2.76" stroke="#00ff00" stroke-width="1.14" fill="none"/>
<circle cx="173.97" cy="228.57" r="2.76" stroke="#00ff00" stroke-width="1.14" fill="none"/>
<circle cx="181.35" cy="227.28" r="2.76" stroke="#00ff00" stroke-width="1.14" fill="none"/>
<circle cx="188.73" cy="225.99" r="2.76" stroke="#00ff00" stroke-width="1.14" fill="none"/>
<circle cx="196.12" cy="224.70" r="2.76" stroke="#00ff00" stroke-width="1.14" fill="none"/>
<circle cx="203.50" cy="223.41" r="2.76" stroke="#00ff00" stroke-width="1.14" fill="none"/>
<circle cx="210.88" cy="222.12" r="2.76" stroke="#00ff00" stroke-width="1.14" fill="none"/>
<circle cx="218.27" cy="220.83" r="2.76" stroke="#00ff00" stroke-width="1.14" fill="none"/>
<circle cx="225.65" cy="219.55" r="2.76" stroke="#00ff00" stroke-width="1.14" fill="none"/>
<circle cx="233.03" cy="218.26" r="2.76" stroke="#00ff00" stroke-width="1.14" fill="none"/>
<circle cx="240.41" cy="216.98" r="2.76" stroke="#00ff00" stroke-width="1.14" fill="none"/>
<circle cx="247.80" cy="215.70" r="2.76" stroke="#00ff00" stroke-width="1.14" fill="none"/>
<circle cx="255.18" cy="214.42" r="2.76" stroke="#00ff00" stroke-width="1.14" fill="none"/>
<circle cx="262.56" cy="213.14" r="2.76" stroke="#00ff00" stroke-width="1.14" fill="none"/>
<circle cx="269.94" cy="211.87" r="2.76" stroke="#00ff00" stroke-width="1.14" fill="none"/>
<circle cx="277.33" cy="210.59" r="2.76" stroke="#00ff00" stroke-width="1.14" fill="none"/>
<circle cx="284.71" cy="209.32" r="2.76" stroke="#00ff00" stroke-width="1.14" fill="none"/>
<circle cx="292.09" cy="208.04" r="2.76" stroke="#00ff00" stroke-width="1.14" fill="none"/>
<circle cx="299.47" cy="206.77" r="2.76" stroke="#00ff00" stroke-width="1.14" fill="none"/>
<circle cx="306.86" cy="205.50" r="2.76" stroke="#00ff00" stroke-width="1.14" fill="none"/>
<circle cx="314.24" cy="204.24" r="2.76" stroke="#00ff00" stroke-width="1.14" fill="none"/>
<circle cx="321.62" cy="202.97" r="2.76" stroke="#00ff00" stroke-width="1.14" fill="none"/>
<circle cx="329.00" cy="201.70" r="2.76" stroke="#00ff00" stroke-width="1.14" fill="none"/>
<circle cx="336.39" cy="200.44" r="2.76" stroke="#00ff00" stroke-width="1.14" fill="none"/>
<circle cx="343.77" cy="199.18" r="2.76" stroke="#00ff00" stroke-width="1.14" fill="none"/>
<circle cx="351.15" cy="197.91" r="2.76" stroke="#00ff00" stroke-width="1.14" fill="none"/>
<circle cx="358.53" cy="196.65" r="2.76" stroke="#00ff00" stroke-width="1.14" fill="none"/>
<circle cx="365.92" cy="195.39" r="2.76" stroke="#00ff00" stroke-width="1.14" fill="none"/>
<circle cx="373.30" cy="194.14" r="2.76" stroke="#00ff00" stroke-width="1.14" fill="none"/>
<circle cx="380.68" cy="192.88" r="2.76" stroke="#00ff00" stroke-width="1.14" fill="none"/>
<circle cx="388.07" cy="191.63" r="2.76" stroke="#00ff00" stroke-width="1.14" fill="none"/>
<circle cx="395.45" cy="190.37" r="2.76" stroke="#00ff00" stroke-width="1.14" fill="none"/>
<circle cx="402.83" cy="189.12" r="2.76" stroke="#00ff00" stroke-width="1.14" fill="none"/>
<circle cx="410.21" cy="187.87" r="2.76" stroke="#00ff00" stroke-width="1.14" fill="none"/>
<circle cx="417.60" cy="186.62" r="2.76" stroke="#00ff00" stroke-width="1.14" fill="none"/>
<circle cx="424.98" cy="185.37" r="2.76" stroke="#00ff00" stroke-width="1.14" fill="none"/>
<circle cx="432.36" cy="184.12" r="2.76" stroke="#00ff00" stroke-width="1.14" fill="none"/>
<circle cx="439.74" cy="182.87" r="2.76" stroke="#00ff00" stroke-width="1.14" fill="none"/>
<circle cx="447.13" cy="181.63" r="2.76" stroke="#00ff00" stroke-width="1.14" fill="none"/>
<circle cx="454.51" cy="180.38" r="2.76" stroke="#00ff00" stroke-width="1.14" fill="none"/>
<circle cx="461.89" cy="179.14" r="2.76" stroke="#00ff00" stroke-width="1.14" fill="none"/>
<circle cx="469.27" cy="177.90" r="2.76" stroke="#00ff00" stroke-width="1.14" fill="none"/>
<circle cx="476.66" cy="176.65" r="2.76" stroke="#00ff00" stroke-width="1.14" fill="none"/>
<circle cx="484.04" cy="175.41" r="2.76" stroke="#00ff00" stroke-width="1.14" fill="none"/>
<circle cx="491.42" cy="174.18" r="2.76" stroke="#00ff00" stroke-width="1.14" fill="none"/>
<circle cx="498.80" cy="172.94" r="2.76" stroke="#00ff00" stroke-width="1.14" fill="none"/>
<circle cx="506.19" cy="171.70" r="2.76" stroke="#00ff00" stroke-width="1.14" fill="none"/>
<circle cx="513.57" cy="170.46" r="2.76" stroke="#00ff00" stroke-width="1.14" fill="none"/>
<circle cx="520.95" cy="169.23" r="2.76" stroke="#00ff00" stroke-width="1.14" fill="none"/>
<circle cx="528.33" cy="168.00" r="2.76" stroke="#00ff00" stroke-width="1.14" fill="none"/>
<circle cx="535.72" cy="166.76" r="2.76" stroke="#00ff00" stroke-width="1.14" fill="none"/>
<circle cx="543.10" cy="165.53" r="2.76" stroke="#00ff00" stroke-width="1.14" fill="none"/>
<circle cx="33.70" cy="231.86" r="2.76" stroke="#ff0000" stroke-width="1.14" fill="none"/>
<circle cx="41.08" cy="230.56" r="2.76" stroke="#ff0000" stroke-width="1.14" fill="none"/>
<circle cx="48.47" cy="229.26" r="2.76" stroke="#ff0000" stroke-width="1.14" fill="none"/>
<circle cx="55.85" cy="227.97" r="2.76" stroke="#ff0000" stroke-width="1.14" fill="none"/>
<circle cx="63.23" cy="226.68" r="2.76" stroke="#ff0000" stroke-width="1.14" fill="none"/>
<circle cx="70.61" cy="225.39" r="2.76" stroke="#ff0000" stroke-width="1.14" fill="none"/>
<circle cx="78.00" cy="224.10" r="2.76" stroke="#ff0000" stroke-width="1.14" fill="none"/>
<circle cx="85.38" cy="222.81" r="2.76" stroke="#ff0000" stroke-width="1.14" fill="none"/>
<circle cx="92.76" cy="221.52" r="2.76" stroke="#ff0000" stroke-width="1.14" fill="none"/>
<circle cx="100.14" cy="220.24" r="2.76" stroke="#ff0000" stroke-width="1.14" fill="none"/>
<circle cx="107.53" cy="218.96" r="2.76" stroke="#ff0000" stroke-width="1.14" fill="none"/>
<circle cx="114.91" cy="217.68" r="2.76" stroke="#ff0000" stroke-width="1.14" fill="none"/>
<circle cx="122.29" cy="216.40" r="2.76" stroke="#ff0000" stroke-width="1.14" fill="none"/>
<circle cx="129.67" cy="215.12" r="2.76" stroke="#ff0000" stroke-width="1.14" fill="none"/>
<circle cx="137.06" cy="213.84" r="2.76" stroke="#ff0000" stroke-width="1.14" fill="none"/>
<circle cx="144.44" cy="212.57" r="2.76" stroke="#ff0000" stroke-width="1.14" fill="none"/>
<circle cx="151.82" cy="211.29" r="2.76" stroke="#ff0000" stroke-width="1.14" fill="none"/>
<circle cx="159.20" cy="210.02" r="2.76" stroke="#ff0000" stroke-width="1.14" fill="none"/>
<circle cx="166.59" cy="208.75" r="2.76" stroke="#ff0000" stroke-width="1.14" fill="none"/>
<circle cx="173.97" cy="207.48" r="2.76" stroke="#ff0000" stroke-width="1.14" fill="none"/>
<circle cx="181.35" cy="206.21" r="2.76" stroke="#ff0000" stroke-width="1.14" fill="none"/>
<circle cx="188.73" cy="204.95" r="2.76" stroke="#ff0000" stroke-width="1.14" fill="none"/>
<circle cx="196.12" cy="203.68" r="2.76" stroke="#ff0000" stroke-width="1.14" fill="none"/>
<circle cx="203.50" cy="202.42" r="2.76" stroke="#ff0000" stroke-width="1.14" fill="none"/>
<circle cx="210.88" cy="201.16" r="2.76" stroke="#ff0000" stroke-width="1.14" fill="none"/>
<circle cx="218.27" cy="199.90" r="2.76" stroke="#ff0000" stroke-width="1.14" fill="none"/>
<circle cx="225.65" cy="198.64" r="2.76" stroke="#ff0000" stroke-width="1.14" fill="none"/>
<circle cx="233.03" cy="197.38" r="2.76" stroke="#ff0000" stroke-width="1.14" fill="none"/>
<circle cx="240.41" cy="196.12" r="2.76" stroke="#ff0000" stroke-width="1.14" fill="none"/>
<circle cx="247.80" cy="194.87" r="2.76" stroke="#ff0000" stroke-width="1.14" fill="none"/>
<circle cx="255.18" cy="193.61" r="2.76" stroke="#ff0000" stroke-width="1.14" fill="none"/>
<circle cx="262.56" cy="192.36" r="2.76" stroke="#ff0000" stroke-width="1.14" fill="none"/>
<circle cx="269.94" cy="191.11" r="2.76" stroke="#ff0000" stroke-width="1.14" fill="none"/>
<circle cx="277.33" cy="189.86" r="2.76" stroke="#ff0000" stroke-width="1.14" fill="none"/>
<circle cx="284.71" cy="188.61" r="2.76" stroke="#ff0000" stroke-width="1.14" fill="none"/>
<circle cx="292.09" cy="187.36" r="2.76" stroke="#ff0000" stroke-width="1.14" fill="none"/>
<circle cx="299.47" cy="186.12" r="2.76" stroke="#ff0000" stroke-width="1.14" fill="none"/>
<circle cx="306.86" cy="184.87" r="2.76" stroke="#ff0000" stroke-width="1.14" fill="none"/>
<circle cx="314.24" cy="183.63" r="2.76" stroke="#ff0000" stroke-width="1.14" fill="none"/>
<circle cx="321.62" cy="182.39" r="2.76" stroke="#ff0000" stroke-width="1.14" fill="none"/>
<circle cx="329.00" cy="181.15" r="2.76" stroke="#ff0000" stroke-width="1.14" fill="none"/>
<circle cx="336.39" cy="179.91" r="2.76" stroke="#ff0000" stroke-width="1.14" fill="none"/>
<circle cx="343.77" cy="178.67" r="2.76" stroke="#ff0000" stroke-width="1.14" fill="none"/>
<circle cx="351.15" cy="177.43" r="2.76" stroke="#ff0000" stroke-width="1.14" fill="none"/>
<circle cx="358.53" cy="176.20" r="2.76" stroke="#ff0000" stroke-width="1.14" fill="none"/>
<circle cx="365.92" cy="174.96" r="2.76" stroke="#ff0000" stroke-width="1.14" fill="none"/>
<circle cx="373.30" cy="173.73" r="2.76" stroke="#ff0000" stroke-width="1.14" fill="none"/>
<circle cx="380.68" cy="172.50" r="2.76" stroke="#ff0000" stroke-width="1.14" fill="none"/>
<circle cx="388.07" cy="171.27" r="2.76" stroke="#ff0000" stroke-width="1.14" fill="none"/>
<circle cx="395.45" cy="170.03" r="2.76" stroke="#ff0000" stroke-width="1.14" fill="none"/>
<circle cx="402.83" cy="168.81" r="2.76" stroke="#ff0000" stroke-width="1.14" fill="none"/>
<circle cx="410.21" cy="167.58" r="2.76" stroke="#ff0000" stroke-width="1.14" fill="none"/>
<circle cx="417.60" cy="166.35" r="2.76" stroke="#ff0000" stroke-width="1.14" fill="none"/>
<circle cx="424.98" cy="165.13" r="2.76" stroke="#ff0000" stroke-width="1.14" fill="none"/>
<circle cx="432.36" cy="163.90" r="2.76" stroke="#ff0000" stroke-width="1.14" fill="none"/>
<circle cx="439.74" cy="162.68" r="2.76" stroke="#ff0000" stroke-width="1.14" fill="none"/>
<circle cx="447.13" cy="161.46" r="2.76" stroke="#ff0000" stroke-width="1.14" fill="none"/>
<circle cx="454.51" cy="160.23" r="2.76" stroke="#ff0000" stroke-width="1.14" fill="none"/>
<circle cx="461.89" cy="159.01" r="2.76" stroke="#ff0000" stroke-width="1.14" fill="none"/>
<circle cx="469.27" cy="157.80" r="2.76" stroke="#ff0000" stroke-width="1.14" fill="none"/>
<circle cx="476.66" cy="156.58" r="2.76" stroke="#ff0000" stroke-width="1.14" fill="none"/>
<circle cx="484.04" cy="155.36" r="2.76" stroke="#ff0000" stroke-width="1.14" fill="none"/>
<circle cx="491.42" cy="154.14" r="2.76" stroke="#ff0000" stroke-width="1.14" fill="none"/>
<circle cx="498.80" cy="152.93" r="2.76" stroke="#ff0000" stroke-width="1.14" fill="none"/>
<circle cx="506.19" cy="151.72" r="2.76" stroke="#ff0000" stroke-width="1.14" fill="none"/>
<circle cx="513.57" cy="150.50" r="2.76" stroke="#ff0000" stroke-width="1.14" fill="none"/>
<circle cx="520.95" cy="149.29" r="2.76" stroke="#ff0000" stroke-width="1.14" fill="none"/>
<circle cx="528.33" cy="148.08" r="2.76" stroke="#ff0000" stroke-width="1.14" fill="none"/>
<circle cx="535.72" cy="146.87" r="2.76" stroke="#ff0000" stroke-width="1.14" fill="none"/>
<circle cx="543.10" cy="145.66" r="2.76" stroke="#ff0000" stroke-width="1.14" fill="none"/>
<circle cx="33.70" cy="210.70" r="2.76" stroke="#0000ff" stroke-width="1.14" fill="none"/>
<circle cx="41.08" cy="209.43" r="2.76" stroke="#0000ff" stroke-width="1.14" fill="none"/>
<circle cx="48.47" cy="208.16" r="2.76" stroke="#0000ff" stroke-width="1.14" fill="none"/>
<circle cx="55.85" cy="206.89" r="2.76" stroke="#0000ff" stroke-width="1.14" fill="none"/>
<circle cx="63.23" cy="205.62" r="2.76" stroke="#0000ff" stroke-width="1.14" fill="none"/>
<circle cx="70.61" cy="204.36" r="2.76" stroke="#0000ff" stroke-width="1.14" fill="none"/>
<circle cx="78.00" cy="203.10" r="2.76" stroke="#0000ff" stroke-width="1.14" fill="none"/>
<circle cx="85.38" cy="201.83" r="2.76" stroke="#0000ff" stroke-width="1.14" fill="none"/>
<circle cx="92.76" cy="200.57" r="2.76" stroke="#0000ff" stroke-width="1.14" fill="none"/>
<circle cx="100.14" cy="199.32" r="2.76" stroke="#0000ff" stroke-width="1.14" fill="none"/>
<circle cx="107.53" cy="198.06" r="2.76" stroke="#0000ff" stroke-width="1.14" fill="none"/>
<circle cx="114.91" cy="196.80" r="2.76" stroke="#0000ff" stroke-width="1.14" fill="none"/>
<circle cx="122.29" cy="195.55" r="2.76" stroke="#0000ff" stroke-width="1.14" fill="none"/>
<circle cx="129.67" cy="194.30" r="2.76" stroke="#0000ff" stroke-width="1.14" fill="none"/>
<circle cx="137.06" cy="193.05" r="2.76" stroke="#0000ff" stroke-width="1.14" fill="none"/>
<circle cx="144.44" cy="191.80" r="2.76" stroke="#0000ff" stroke-width="1.14" fill="none"/>
<circle cx="151.82" cy="190.55" r="2.76" stroke="#0000ff" stroke-width="1.14" fill="none"/>
<circle cx="159.20" cy="189.30" r="2.76" stroke="#0000ff" stroke-width="1.14" fill="none"/>
<circle cx="166.59" cy="188.06" r="2.76" stroke="#0000ff" stroke-width="1.14" fill="none"/>
<circle cx="173.97" cy="186.81" r="2.76" stroke="#0000ff" stroke-width="1.14" fill="none"/>
<circle cx="181.35" cy="185.57" r="2.76" stroke="#0000ff" stroke-width="1.14" fill="none"/>
<circle cx="188.73" cy="184.33" r="2.76" stroke="#0000ff" stroke-width="1.14" fill="none"/>
<circle cx="196.12" cy="183.09" r="2.76" stroke="#0000ff" stroke-width="1.14" fill="none"/>
<circle cx="203.50" cy="181.85" r="2.76" stroke="#0000ff" stroke-width="1.14" fill="none"/>
<circle cx="210.88" cy="180.61" r="2.76" stroke="#0000ff" stroke-width="1.14" fill="none"/>
<circle cx="218.27" cy="179.38" r="2.76" stroke="#0000ff" stroke-width="1.14" fill="none"/>
<circle cx="225.65" cy="178.14" r="2.76" stroke="#0000ff" stroke-width="1.14" fill="none"/>
<circle cx="233.03" cy="176.91" r="2.76" stroke="#0000ff" stroke-width="1.14" fill="none"/>
<circle cx="240.41" cy="175.68" r="2.76" stroke="#0000ff" stroke-width="1.14" fill="none"/>
<circle cx="247.80" cy="174.45" r="2.76" stroke="#0000ff" stroke-width="1.14" fill="none"/>
<circle cx="255.18" cy="173.22" r="2.76" stroke="#0000ff" stroke-width="1.14" fill="none"/>
<circle cx="262.56" cy="171.99" r="2.76" stroke="#0000ff" stroke-width="1.14" fill="none"/>
<circle cx="269.94" cy="170.76" r="2.76" stroke="#0000ff" stroke-width="1.14" fill="none"/>
<circle cx="277.33" cy="169.53" r="2.76" stroke="#0000ff" stroke-width="1.14" fill="none"/>
<circle cx="284.71" cy="168.31" r="2.76" stroke="#0000ff" stroke-width="1.14" fill="none"/>
<circle cx="292.09" cy="167.09" r="2.76" stroke="#0000ff" stroke-width="1.14" fill="none"/>
<circle cx="299.47" cy="165.86" r="2.76" stroke="#0000ff" stroke-width="1.14" fill="none"/>
<circle cx="306.86" cy="164.64" r="2.76" stroke="#0000ff" stroke-width="1.14" fill="none"/>
<circle cx="314.24" cy="163.42" r="2.76" stroke="#0000ff" stroke-width="1.14" fill="none"/>
<circle cx="321.62" cy="162.20" r="2.76" stroke="#0000ff" stroke-width="1.14" fill="none"/>
<circle cx="329.00" cy="160.99" r="2.76" stroke="#0000ff" stroke-width="1.14" fill="none"/>
<circle cx="336.39" cy="159.77" r="2.76" stroke="#0000ff" stroke-width="1.14" fill="none"/>
<circle cx="343.77" cy="158.56" r="2.76" stroke="#0000ff" stroke-width="1.14" fill="none"/>
<circle cx="351.15" cy="157.34" r="2.76" stroke="#0000ff" stroke-width="1.14" fill="none"/>
<circle cx="358.53" cy="156.13" r="2.76" stroke="#0000ff" stroke-width="1.14" fill="none"/>
<circle cx="365.92" cy="154.92" r="2.76" stroke="#0000ff" stroke-width="1.14" fill="none"/>
<circle cx="373.30" cy="153.71" r="2.76" stroke="#0000ff" stroke-width="1.14" fill="none"/>
<circle cx="380.68" cy="152.50" r="2.76" stroke="#0000ff" stroke-width="1.14" fill="none"/>
<circle cx="388.07" cy="151.29" r="2.76" stroke="#0000ff" stroke-width="1.14" fill="none"/>
<circle cx="395.45" cy="150.08" r="2.76" stroke="#0000ff" stroke-width="1.14" fill="none"/>
<circle cx="402.83" cy="148.87" r="2.76" stroke="#0000ff" stroke-width="1.14" fill="none"/>
<circle cx="410.21" cy="147.67" r="2.76" stroke="#0000ff" stroke-width="1.14" fill="none"/>
<circle cx="417.60" cy="146.47" r="2.76" stroke="#0000ff" stroke-width="1.14" fill="none"/>
<circle cx="424.98" cy="145.26" r="2.76" stroke="#0000ff" stroke-width="1.14" fill="none"/>
<circle cx="432.36" cy="144.06" r="2.76" stroke="#0000ff" stroke-width="1.14" fill="none"/>
<circle cx="439.74" cy="142.86" r="2.76" stroke="#0000ff" stroke-width="1.14" fill="none"/>
<circle cx="447.13" cy="141.66" r="2.76" stroke="#0000ff" stroke-width="1.14" fill="none"/>
<circle cx="454.51" cy="140.46" r="2.76" stroke="#0000ff" stroke-width="1.14" fill="none"/>
<circle cx="461.89" cy="139.26" r="2.76" stroke="#0000ff" stroke-width="1.14" fill="none"/>
<circle cx="469.27" cy="138.06" r="2.76" stroke="#0000ff" stroke-width="1.14" fill="none"/>
<circle cx="476.66" cy="136.87" r="2.76" stroke="#0000ff" stroke-width="1.14" fill="none"/>
<circle cx="484.04" cy="135.67" r="2.76" stroke="#0000ff" stroke-width="1.14" fill="none"/>
<circle cx="491.42" cy="134.48" r="2.76" stroke="#0000ff" stroke-width="1.14" fill="none"/>
<circle cx="498.80" cy="133.29" r="2.76" stroke="#0000ff" stroke-width="1.14" fill="none"/>
<circle cx="506.19" cy="132.09" r="2.76" stroke="#0000ff" stroke-width="1.14" fill="none"/>
<circle cx="513.57" cy="130.90" r="2.76" stroke="#0000ff" stroke-width="1.14" fill="none"/>
<circle cx="520.95" cy="129.71" r="2.76" stroke="#0000ff" stroke-width="1.14" fill="none"/>
<circle cx="528.33" cy="128.52" r="2.76" stroke="#0000ff" stroke-width="1.14" fill="none"/>
<circle cx="535.72" cy="127.33" r="2.76" stroke="#0000ff" stroke-width="1.14" fill="none"/>
<circle cx="543.10" cy="126.15" r="2.76" stroke="#0000ff" stroke-width="1.14" fill="none"/>
<circle cx="33.70" cy="189.96" r="2.76" stroke="#edb120" stroke-width="1.14" fill="none"/>
<circle cx="41.08" cy="188.72" r="2.76" stroke="#edb120" stroke-width="1.14" fill="none"/>
<circle cx="48.47" cy="187.47" r="2.76" stroke="#edb120" stroke-width="1.14" fill="none"/>
<circle cx="55.85" cy="186.23" r="2.76" stroke="#edb120" stroke-width="1.14" fill="none"/>
<circle cx="63.23" cy="184.99" r="2.76" stroke="#edb120" stroke-width="1.14" fill="none"/>
<circle cx="70.61" cy="183.75" r="2.76" stroke="#edb120" stroke-width="1.14" fill="none"/>
<circle cx="78.00" cy="182.51" r="2.76" stroke="#edb120" stroke-width="1.14" fill="none"/>
<circle cx="85.38" cy="181.28" r="2.76" stroke="#edb120" stroke-width="1.14" fill="none"/>
<circle cx="92.76" cy="180.04" r="2.76" stroke="#edb120" stroke-width="1.14" fill="none"/>
<circle cx="100.14" cy="178.81" r="2.76" stroke="#edb120" stroke-width="1.14" fill="none"/>
<circle cx="107.53" cy="177.58" r="2.76" stroke="#edb120" stroke-width="1.14" fill="none"/>
<circle cx="114.91" cy="176.34" r="2.76" stroke="#edb120" stroke-width="1.14" fill="none"/>
<circle cx="122.29" cy="175.11" r="2.76" stroke="#edb120" stroke-width="1.14" fill="none"/>
<circle cx="129.67" cy="173.89" r="2.76" stroke="#edb120" stroke-width="1.14" fill="none"/>
<circle cx="137.06" cy="172.66" r="2.76" stroke="#edb120" stroke-width="1.14" fill="none"/>
<circle cx="144.44" cy="171.43" r="2.76" stroke="#edb120" stroke-width="1.14" fill="none"/>
<circle cx="151.82" cy="170.21" r="2.76" stroke="#edb120" stroke-width="1.14" fill="none"/>
<circle cx="159.20" cy="168.99" r="2.76" stroke="#edb120" stroke-width="1.14" fill="none"/>
<circle cx="166.59" cy="167.76" r="2.76" stroke="#edb120" stroke-width="1.14" fill="none"/>
<circle cx="173.97" cy="166.54" r="2.76" stroke="#edb120" stroke-width="1.14" fill="none"/>
<circle cx="181.35" cy="165.32" r="2.76" stroke="#edb120" stroke-width="1.14" fill="none"/>
<circle cx="188.73" cy="164.11" r="2.76" stroke="#edb120" stroke-width="1.14" fill="none"/>
<circle cx="196.12" cy="162.89" r="2.76" stroke="#edb120" stroke-width="1.14" fill="none"/>
<circle cx="203.50" cy="161.68" r="2.76" stroke="#edb120" stroke-width="1.14" fill="none"/>
<circle cx="210.88" cy="160.46" r="2.76" stroke="#edb120" stroke-width="1.14" fill="none"/>
<circle cx="218.27" cy="159.25" r="2.76" stroke="#edb120" stroke-width="1.14" fill="none"/>
<circle cx="225.65" cy="158.04" r="2.76" stroke="#edb120" stroke-width="1.14" fill="none"/>
<circle cx="233.03" cy="156.83" r="2.76" stroke="#edb120" stroke-width="1.14" fill="none"/>
<circle cx="240.41" cy="155.62" r="2.76" stroke="#edb120" stroke-width="1.14" fill="none"/>
<circle cx="247.80" cy="154.41" r="2.76" stroke="#edb120" stroke-width="1.14" fill="none"/>
<circle cx="255.18" cy="153.20" r="2.76" stroke="#edb120" stroke-width="1.14" fill="none"/>
<circle cx="262.56" cy="152.00" r="2.76" stroke="#edb120" stroke-width="1.14" fill="none"/>
<circle cx="269.94" cy="150.79" r="2.76" stroke="#edb120" stroke-width="1.14" fill="none"/>
<circle cx="277.33" cy="149.59" r="2.76" stroke="#edb120" stroke-width="1.14" fill="none"/>
<circle cx="284.71" cy="148.39" r="2.76" stroke="#edb120" stroke-width="1.14" fill="none"/>
<circle cx="292.09" cy="147.19" r="2.76" stroke="#edb120" stroke-width="1.14" fill="none"/>
<circle cx="299.47" cy="145.99" r="2.76" stroke="#edb120" stroke-width="1.14" fill="none"/>
<circle cx="306.86" cy="144.79" r="2.76" stroke="#edb120" stroke-width="1.14" fill="none"/>
<circle cx="314.24" cy="143.59" r="2.76" stroke="#edb120" stroke-width="1.14" fill="none"/>
<circle cx="321.62" cy="142.39" r="2.76" stroke="#edb120" stroke-width="1.14" fill="none"/>
<circle cx="329.00" cy="141.20" r="2.76" stroke="#edb120" stroke-width="1.14" fill="none"/>
<circle cx="336.39" cy="140.00" r="2.76" stroke="#edb120" stroke-width="1.14" fill="none"/>
<circle cx="343.77" cy="138.81" r="2.76" stroke="#edb120" stroke-width="1.14" fill="none"/>
<circle cx="351.15" cy="137.62" r="2.76" stroke="#edb120" stroke-width="1.14" fill="none"/>
<circle cx="358.53" cy="136.43" r="2.76" stroke="#edb120" stroke-width="1.14" fill="none"/>
<circle cx="365.92" cy="135.24" r="2.76" stroke="#edb120" stroke-width="1.14" fill="none"/>
<circle cx="373.30" cy="134.05" r="2.76" stroke="#edb120" stroke-width="1.14" fill="none"/>
<circle cx="380.68" cy="132.86" r="2.76" stroke="#edb120" stroke-width="1.14" fill="none"/>
<circle cx="388.07" cy="131.67" r="2.76" stroke="#edb120" stroke-width="1.14" fill="none"/>
<circle cx="395.45" cy="130.49" r="2.76" stroke="#edb120" stroke-width="1.14" fill="none"/>
<circle cx="402.83" cy="129.30" r="2.76" stroke="#edb120" stroke-width="1.14" fill="none"/>
<circle cx="410.21" cy="128.12" r="2.76" stroke="#edb120" stroke-width="1.14" fill="none"/>
<circle cx="417.60" cy="126.94" r="2.76" stroke="#edb120" stroke-width="1.14" fill="none"/>
<circle cx="424.98" cy="125.75" r="2.76" stroke="#edb120" stroke-width="1.14" fill="none"/>
<circle cx="432.36" cy="124.57" r="2.76" stroke="#edb120" stroke-width="1.14" fill="none"/>
<circle cx="439.74" cy="123.39" r="2.76" stroke="#edb120" stroke-width="1.14" fill="none"/>
<circle cx="447.13" cy="122.21" r="2.76" stroke="#edb120" stroke-width="1.14" fill="none"/>
<circle cx="454.51" cy="121.04" r="2.76" stroke="#edb120" stroke-width="1.14" fill="none"/>
<circle cx="461.89" cy="119.86" r="2.76" stroke="#edb120" stroke-width="1.14" fill="none"/>
<circle cx="469.27" cy="118.68" r="2.76" stroke="#edb120" stroke-width="1.14" fill="none"/>
<circle cx="476.66" cy="117.51" r="2.76" stroke="#edb120" stroke-width="1.14" fill="none"/>
<circle cx="484.04" cy="116.33" r="2.76" stroke="#edb120" stroke-width="1.14" fill="none"/>
<circle cx="491.42" cy="115.16" r="2.76" stroke="#edb120" stroke-width="1.14" fill="none"/>
<circle cx="498.80" cy="113.99" r="2.76" stroke="#edb120" stroke-width="1.14" fill="none"/>
<circle cx="506.19" cy="112.82" r="2.76" stroke="#edb120" stroke-width="1.14" fill="none"/>
<circle cx="513.57" cy="111.64" r="2.76" stroke="#edb120" stroke-width="1.14" fill="none"/>
<circle cx="520.95" cy="110.47" r="2.76" stroke="#edb120" stroke-width="1.14" fill="none"/>
<circle cx="528.33" cy="109.31" r="2.76" stroke="#edb120" stroke-width="1.14" fill="none"/>
<circle cx="535.72" cy="108.14" r="2.76" stroke="#edb120" stroke-width="1.14" fill="none"/>
<circle cx="543.10" cy="106.97" r="2.76" stroke="#edb120" stroke-width="1.14" fill="none"/>
<circle cx="33.70" cy="169.64" r="2.76" stroke="#000000" stroke-width="1.14" fill="none"/>
<circle cx="41.08" cy="168.41" r="2.76" stroke="#000000" stroke-width="1.14" fill="none"/>
<circle cx="48.47" cy="167.19" r="2.76" stroke="#000000" stroke-width="1.14" fill="none"/>
<circle cx="55.85" cy="165.97" r="2.76" stroke="#000000" stroke-width="1.14" fill="none"/>
<circle cx="63.23" cy="164.76" r="2.76" stroke="#000000" stroke-width="1.14" fill="none"/>
<circle cx="70.61" cy="163.54" r="2.76" stroke="#000000" stroke-width="1.14" fill="none"/>
<circle cx="78.00" cy="162.33" r="2.76" stroke="#000000" stroke-width="1.14" fill="none"/>
<circle cx="85.38" cy="161.11" r="2.76" stroke="#000000" stroke-width="1.14" fill="none"/>
<circle cx="92.76" cy="159.90" r="2.76" stroke="#000000" stroke-width="1.14" fill="none"/>
<circle cx="100.14" cy="158.69" r="2.76" stroke="#000000" stroke-width="1.14" fill="none"/>
<circle cx="107.53" cy="157.48" r="2.76" stroke="#000000" stroke-width="1.14" fill="none"/>
<circle cx="114.91" cy="156.27" r="2.76" stroke="#000000" stroke-width="1.14" fill="none"/>
<circle cx="122.29" cy="155.07" r="2.76" stroke="#000000" stroke-width="1.14" fill="none"/>
<circle cx="129.67" cy="153.86" r="2.76" stroke="#000000" stroke-width="1.14" fill="none"/>
<circle cx="137.06" cy="152.66" r="2.76" stroke="#000000" stroke-width="1.14" fill="none"/>
<circle cx="144.44" cy="151.45" r="2.76" stroke="#000000" stroke-width="1.14" fill="none"/>
<circle cx="151.82" cy="150.25" r="2.76" stroke="#000000" stroke-width="1.14" fill="none"/>
<circle cx="159.20" cy="149.05" r="2.76" stroke="#000000" stroke-width="1.14" fill="none"/>
<circle cx="166.59" cy="147.85" r="2.76" stroke="#000000" stroke-width="1.14" fill="none"/>
<circle cx="173.97" cy="146.65" r="2.76" stroke="#000000" stroke-width="1.14" fill="none"/>
<circle cx="181.35" cy="145.46" r="2.76" stroke="#000000" stroke-width="1.14" fill="none"/>
<circle cx="188.73" cy="144.26" r="2.76" stroke="#000000" stroke-width="1.14" fill="none"/>
<circle cx="196.12" cy="143.07" r="2.76" stroke="#000000" stroke-width="1.14" fill="none"/>
<circle cx="203.50" cy="141.87" r="2.76" stroke="#000000" stroke-width="1.14" fill="none"/>
<circle cx="210.88" cy="140.68" r="2.76" stroke="#000000" stroke-width="1.14" fill="none"/>
<circle cx="218.27" cy="139.49" r="2.76" stroke="#000000" stroke-width="1.14" fill="none"/>
<circle cx="225.65" cy="138.30" r="2.76" stroke="#000000" stroke-width="1.14" fill="none"/>
<circle cx="233.03" cy="137.11" r="2.76" stroke="#000000" stroke-width="1.14" fill="none"/>
<circle cx="240.41" cy="135.93" r="2.76" stroke="#000000" stroke-width="1.14" fill="none"/>
<circle cx="247.80" cy="134.74" r="2.76" stroke="#000000" stroke-width="1.14" fill="none"/>
<circle cx="255.18" cy="133.55" r="2.76" stroke="#000000" stroke-width="1.14" fill="none"/>
<circle cx="262.56" cy="132.37" r="2.76" stroke="#000000" stroke-width="1.14" fill="none"/>
<circle cx="269.94" cy="131.19" r="2.76" stroke="#000000" stroke-width="1.14" fill="none"/>
<circle cx="277.33" cy="130.01" r="2.76" stroke="#000000" stroke-width="1.14" fill="none"/>
<circle cx="284.71" cy="128.82" r="2.76" stroke="#000000" stroke-width="1.14" fill="none"/>
<circle cx="292.09" cy="127.64" r="2.76" stroke="#000000" stroke-width="1.14" fill="none"/>
<circle cx="299.47" cy="126.47" r="2.76" stroke="#000000" stroke-width="1.14" fill="none"/>
<circle cx="306.86" cy="125.29" r="2.76" stroke="#000000" stroke-width="1.14" fill="none"/>
<circle cx="314.24" cy="124.11" r="2.76" stroke="#000000" stroke-width="1.14" fill="none"/>
<circle cx="321.62" cy="122.94" r="2.76" stroke="#000000" stroke-width="1.14" fill="none"/>
<circle cx="329.00" cy="121.76" r="2.76" stroke="#000000" stroke-width="1.14" fill="none"/>
<circle cx="336.39" cy="120.59" r="2.76" stroke="#000000" stroke-width="1.14" fill="none"/>
<circle cx="343.77" cy="119.42" r="2.76" stroke="#000000" stroke-width="1.14" fill="none"/>
<circle cx="351.15" cy="118.25" r="2.76" stroke="#000000" stroke-width="1.14" fill="none"/>
<circle cx="358.53" cy="117.07" r="2.76" stroke="#000000" stroke-width="1.14" fill="none"/>
<circle cx="365.92" cy="115.91" r="2.76" stroke="#000000" stroke-width="1.14" fill="none"/>
<circle cx="373.30" cy="114.74" r="2.76" stroke="#000000" stroke-width="1.14" fill="none"/>
<circle cx="380.68" cy="113.57" r="2.76" stroke="#000000" stroke-width="1.14" fill="none"/>
<circle cx="388.07" cy="112.40" r="2.76" stroke="#000000" stroke-width="1.14" fill="none"/>
<circle cx="395.45" cy="111.24" r="2.76" stroke="#000000" stroke-width="1.14" fill="none"/>
<circle cx="402.83" cy="110.07" r="2.76" stroke="#000000" stroke-width="1.14" fill="none"/>
<circle cx="410.21" cy="108.91" r="2.76" stroke="#000000" stroke-width="1.14" fill="none"/>
<circle cx="417.60" cy="107.75" r="2.76" stroke="#000000" stroke-width="1.14" fill="none"/>
<circle cx="424.98" cy="106.58" r="2.76" stroke="#000000" stroke-width="1.14" fill="none"/>
<circle cx="432.36" cy="105.42" r="2.76" stroke="#000000" stroke-width="1.14" fill="none"/>
<circle cx="439.74" cy="104.26" r="2.76" stroke="#000000" stroke-width="1.14" fill="none"/>
<circle cx="447.13" cy="103.10" r="2.76" stroke="#000000" stroke-width="1.14" fill="none"/>
<circle cx="454.51" cy="101.95" r="2.76" stroke="#000000" stroke-width="1.14" fill="none"/>
<circle cx="461.89" cy="100.79" r="2.76" stroke="#000000" stroke-width="1.14" fill="none"/>
<circle cx="469.27" cy="99.63" r="2.76" stroke="#000000" stroke-width="1.14" fill="none"/>
<circle cx="476.66" cy="98.48" r="2.76" stroke="#000000" stroke-width="1.14" fill="none"/>
<circle cx="484.04" cy="97.32" r="2.76" stroke="#000000" stroke-width="1.14" fill="none"/>
<circle cx="491.42" cy="96.17" r="2.76" stroke="#000000" stroke-width="1.14" fill="none"/>
<circle cx="498.80" cy="95.02" r="2.76" stroke="#000000" stroke-width="1.14" fill="none"/>
<circle cx="506.19" cy="93.86" r="2.76" stroke="#000000" stroke-width="1.14" fill="none"/>
<circle cx="513.57" cy="92.71" r="2.76" stroke="#000000" stroke-width="1.14" fill="none"/>
<circle cx="520.95" cy="91.56" r="2.76" stroke="#000000" stroke-width="1.14" fill="none"/>
<circle cx="528.33" cy="90.41" r="2.76" stroke="#000000" stroke-width="1.14" fill="none"/>
<circle cx="535.72" cy="89.26" r="2.76" stroke="#000000" stroke-width="1.14" fill="none"/>
<circle cx="543.10" cy="88.11" r="2.76" stroke="#000000" stroke-width="1.14" fill="none"/>
<circle cx="33.70" cy="253.48" r="1.1" fill="#00ff00"/>
<circle cx="41.08" cy="251.73" r="1.1" fill="#00ff00"/>
<circle cx="48.47" cy="249.99" r="1.1" fill="#00ff00"/>
<circle cx="55.85" cy="248.25" r="1.1" fill="#00ff00"/>
<circle cx="63.23" cy="246.51" r="1.1" fill="#00ff00"/>
<circle cx="70.61" cy="244.76" r="1.1" fill="#00ff00"/>
<circle cx="78.00" cy="243.02" r="1.1" fill="#00ff00"/>
<circle cx="85.38" cy="241.28" r="1.1" fill="#00ff00"/>
<circle cx="92.76" cy="239.54" r="1.1" fill="#00ff00"/>
<circle cx="100.14" cy="237.79" r="1.1" fill="#00ff00"/>
<circle cx="107.53" cy="236.05" r="1.1" fill="#00ff00"/>
<circle cx="114.91" cy="234.31" r="1.1" fill="#00ff00"/>
<circle cx="122.29" cy="232.57" r="1.1" fill="#00ff00"/>
<circle cx="129.67" cy="230.82" r="1.1" fill="#00ff00"/>
<circle cx="137.06" cy="229.08" r="1.1" fill="#00ff00"/>
<circle cx="144.44" cy="227.34" r="1.1" fill="#00ff00"/>
<circle cx="151.82" cy="225.59" r="1.1" fill="#00ff00"/>
<circle cx="159.20" cy="223.85" r="1.1" fill="#00ff00"/>
<circle cx="166.59" cy="222.11" r="1.1" fill="#00ff00"/>
<circle cx="173.97" cy="220.37" r="1.1" fill="#00ff00"/>
<circle cx="181.35" cy="218.62" r="1.1" fill="#00ff00"/>
<circle cx="188.73" cy="216.88" r="1.1" fill="#00ff00"/>
<circle cx="196.12" cy="215.13" r="1.1" fill="#00ff00"/>
<circle cx="203.50" cy="213.39" r="1.1" fill="#00ff00"/>
<circle cx="210.88" cy="211.65" r="1.1" fill="#00ff00"/>
<circle cx="218.27" cy="209.90" r="1.1" fill="#00ff00"/>
<circle cx="225.65" cy="208.16" r="1.1" fill="#00ff00"/>
<circle cx="233.03" cy="206.41" r="1.1" fill="#00ff00"/>
<circle cx="240.41" cy="204.67" r="1.1" fill="#00ff00"/>
<circle cx="247.80" cy="202.92" r="1.1" fill="#00ff00"/>
<circle cx="255.18" cy="201.18" r="1.1" fill="#00ff00"/>
<circle cx="262.56" cy="199.43" r="1.1" fill="#00ff00"/>
<circle cx="269.94" cy="197.68" r="1.1" fill="#00ff00"/>
<circle cx="277.33" cy="195.94" r="1.1" fill="#00ff00"/>
<circle cx="284.71" cy="194.19" r="1.1" fill="#00ff00"/>
<circle cx="292.09" cy="192.44" r="1.1" fill="#00ff00"/>
<circle cx="299.47" cy="190.69" r="1.1" fill="#00ff00"/>
<circle cx="306.86" cy="188.94" r="1.1" fill="#00ff00"/>
<circle cx="314.24" cy="187.20" r="1.1" fill="#00ff00"/>
<circle cx="321.62" cy="185.45" r="1.1" fill="#00ff00"/>
<circle cx="329.00" cy="183.70" r="1.1" fill="#00ff00"/>
<circle cx="336.39" cy="181.95" r="1.1" fill="#00ff00"/>
<circle cx="343.77" cy="180.19" r="1.1" fill="#00ff00"/>
<circle cx="351.15" cy="178.44" r="1.1" fill="#00ff00"/>
<circle cx="358.53" cy="176.69" r="1.1" fill="#00ff00"/>
<circle cx="365.92" cy="174.94" r="1.1" fill="#00ff00"/>
<circle cx="373.30" cy="173.19" r="1.1" fill="#00ff00"/>
<circle cx="380.68" cy="171.43" r="1.1" fill="#00ff00"/>
<circle cx="388.07" cy="169.68" r="1.1" fill="#00ff00"/>
<circle cx="395.45" cy="167.92" r="1.1" fill="#00ff00"/>
<circle cx="402.83" cy="166.17" r="1.1" fill="#00ff00"/>
<circle cx="410.21" cy="164.41" r="1.1" fill="#00ff00"/>
<circle cx="417.60" cy="162.65" r="1.1" fill="#00ff00"/>
<circle cx="424.98" cy="160.90" r="1.1" fill="#00ff00"/>
<circle cx="432.36" cy="159.14" r="1.1" fill="#00ff00"/>
<circle cx="439.74" cy="157.38" r="1.1" fill="#00ff00"/>
<circle cx="447.13" cy="155.62" r="1.1" fill="#00ff00"/>
<circle cx="454.51" cy="153.86" r="1.1" fill="#00ff00"/>
<circle cx="461.89" cy="152.10" r="1.1" fill="#00ff00"/>
<circle cx="469.27" cy="150.33" r="1.1" fill="#00ff00"/>
<circle cx="476.66" cy="148.57" r="1.1" fill="#00ff00"/>
<circle cx="484.04" cy="146.81" r="1.1" fill="#00ff00"/>
<circle cx="491.42" cy="145.04" r="1.1" fill="#00ff00"/>
<circle cx="498.80" cy="143.28" r="1.1" fill="#00ff00"/>
<circle cx="506.19" cy="141.51" r="1.1" fill="#00ff00"/>
<circle cx="513.57" cy="139.75" r="1.1" fill="#00ff00"/>
<circle cx="520.95" cy="137.98" r="1.1" fill="#00ff00"/>
<circle cx="528.33" cy="136.21" r="1.1" fill="#00ff00"/>
<circle cx="535.72" cy="134.44" r="1.1" fill="#00ff00"/>
<circle cx="543.10" cy="132.67" r="1.1" fill="#00ff00"/>
<circle cx="33.70" cy="231.86" r="1.1" fill="#ff0000"/>
<circle cx="41.08" cy="230.11" r="1.1" fill="#ff0000"/>
<circle cx="48.47" cy="228.37" r="1.1" fill="#ff0000"/>
<circle cx="55.85" cy="226.63" r="1.1" fill="#ff0000"/>
<circle cx="63.23" cy="224.89" r="1.1" fill="#ff0000"/>
<circle cx="70.61" cy="223.14" r="1.1" fill="#ff0000"/>
<circle cx="78.00" cy="221.40" r="1.1" fill="#ff0000"/>
<circle cx="85.38" cy="219.66" r="1.1" fill="#ff0000"/>
<circle cx="92.76" cy="217.91" r="1.1" fill="#ff0000"/>
<circle cx="100.14" cy="216.17" r="1.1" fill="#ff0000"/>
<circle cx="107.53" cy="214.43" r="1.1" fill="#ff0000"/>
<circle cx="114.91" cy="212.68" r="1.1" fill="#ff0000"/>
<circle cx="122.29" cy="210.94" r="1.1" fill="#ff0000"/>
<circle cx="129.67" cy="209.19" r="1.1" fill="#ff0000"/>
<circle cx="137.06" cy="207.45" r="1.1" fill="#ff0000"/>
<circle cx="144.44" cy="205.70" r="1.1" fill="#ff0000"/>
<circle cx="151.82" cy="203.96" r="1.1" fill="#ff0000"/>
<circle cx="159.20" cy="202.21" r="1.1" fill="#ff0000"/>
<circle cx="166.59" cy="200.47" r="1.1" fill="#ff0000"/>
<circle cx="173.97" cy="198.72" r="1.1" fill="#ff0000"/>
<circle cx="181.35" cy="196.97" r="1.1" fill="#ff0000"/>
<circle cx="188.73" cy="195.23" r="1.1" fill="#ff0000"/>
<circle cx="196.12" cy="193.48" r="1.1" fill="#ff0000"/>
<circle cx="203.50" cy="191.73" r="1.1" fill="#ff0000"/>
<circle cx="210.88" cy="189.98" r="1.1" fill="#ff0000"/>
<circle cx="218.27" cy="188.23" r="1.1" fill="#ff0000"/>
<circle cx="225.65" cy="186.48" r="1.1" fill="#ff0000"/>
<circle cx="233.03" cy="184.73" r="1.1" fill="#ff0000"/>
<circle cx="240.41" cy="182.98" r="1.1" fill="#ff0000"/>
<circle cx="247.80" cy="181.23" r="1.1" fill="#ff0000"/>
<circle cx="255.18" cy="179.48" r="1.1" fill="#ff0000"/>
<circle cx="262.56" cy="177.73" r="1.1" fill="#ff0000"/>
<circle cx="269.94" cy="175.98" r="1.1" fill="#ff0000"/>
<circle cx="277.33" cy="174.23" r="1.1" fill="#ff0000"/>
<circle cx="284.71" cy="172.47" r="1.1" fill="#ff0000"/>
<circle cx="292.09" cy="170.72" r="1.1" fill="#ff0000"/>
<circle cx="299.47" cy="168.96" r="1.1" fill="#ff0000"/>
<circle cx="306.86" cy="167.21" r="1.1" fill="#ff0000"/>
<circle cx="314.24" cy="165.45" r="1.1" fill="#ff0000"/>
<circle cx="321.62" cy="163.70" r="1.1" fill="#ff0000"/>
<circle cx="329.00" cy="161.94" r="1.1" fill="#ff0000"/>
<circle cx="336.39" cy="160.18" r="1.1" fill="#ff0000"/>
<circle cx="343.77" cy="158.42" r="1.1" fill="#ff0000"/>
<circle cx="351.15" cy="156.66" r="1.1" fill="#ff0000"/>
<circle cx="358.53" cy="154.90" r="1.1" fill="#ff0000"/>
<circle cx="365.92" cy="153.14" r="1.1" fill="#ff0000"/>
<circle cx="373.30" cy="151.38" r="1.1" fill="#ff0000"/>
<circle cx="380.68" cy="149.62" r="1.1" fill="#ff0000"/>
<circle cx="388.07" cy="147.86" r="1.1" fill="#ff0000"/>
<circle cx="395.45" cy="146.09" r="1.1" fill="#ff0000"/>
<circle cx="402.83" cy="144.33" r="1.1" fill="#ff0000"/>
<circle cx="410.21" cy="142.56" r="1.1" fill="#ff0000"/>
<circle cx="417.60" cy="140.79" r="1.1" fill="#ff0000"/>
<circle cx="424.98" cy="139.03" r="1.1" fill="#ff0000"/>
<circle cx="432.36" cy="137.26" r="1.1" fill="#ff0000"/>
<circle cx="439.74" cy="135.49" r="1.1" fill="#ff0000"/>
<circle cx="447.13" cy="133.72" r="1.1" fill="#ff0000"/>
<circle cx="454.51" cy="131.95" r="1.1" fill="#ff0000"/>
<circle cx="461.89" cy="130.18" r="1.1" fill="#ff0000"/>
<circle cx="469.27" cy="128.40" r="1.1" fill="#ff0000"/>
<circle cx="476.66" cy="126.63" r="1.1" fill="#ff0000"/>
<circle cx="484.04" cy="124.85" r="1.1" fill="#ff0000"/>
<circle cx="491.42" cy="123.08" r="1.1" fill="#ff0000"/>
<circle cx="498.80" cy="121.30" r="1.1" fill="#ff0000"/>
<circle cx="506.19" cy="119.52" r="1.1" fill="#ff0000"/>
<circle cx="513.57" cy="117.74" r="1.1" fill="#ff0000"/>
<circle cx="520.95" cy="115.96" r="1.1" fill="#ff0000"/>
<circle cx="528.33" cy="114.18" r="1.1" fill="#ff0000"/>
<circle cx="535.72" cy="112.40" r="1.1" fill="#ff0000"/>
<circle cx="543.10" cy="110.62" r="1.1" fill="#ff0000"/>
<circle cx="33.70" cy="210.70" r="1.1" fill="#0000ff"/>
<circle cx="41.08" cy="208.95" r="1.1" fill="#0000ff"/>
<circle cx="48.47" cy="207.21" r="1.1" fill="#0000ff"/>
<circle cx="55.85" cy="205.46" r="1.1" fill="#0000ff"/>
<circle cx="63.23" cy="203.72" r="1.1" fill="#0000ff"/>
<circle cx="70.61" cy="201.97" r="1.1" fill="#0000ff"/>
<circle cx="78.00" cy="200.22" r="1.1" fill="#0000ff"/>
<circle cx="85.38" cy="198.48" r="1.1" fill="#0000ff"/>
<circle cx="92.76" cy="196.73" r="1.1" fill="#0000ff"/>
<circle cx="100.14" cy="194.98" r="1.1" fill="#0000ff"/>
<circle cx="107.53" cy="193.24" r="1.1" fill="#0000ff"/>
<circle cx="114.91" cy="191.49" r="1.1" fill="#0000ff"/>
<circle cx="122.29" cy="189.74" r="1.1" fill="#0000ff"/>
<circle cx="129.67" cy="187.99" r="1.1" fill="#0000ff"/>
<circle cx="137.06" cy="186.24" r="1.1" fill="#0000ff"/>
<circle cx="144.44" cy="184.49" r="1.1" fill="#0000ff"/>
<circle cx="151.82" cy="182.74" r="1.1" fill="#0000ff"/>
<circle cx="159.20" cy="180.99" r="1.1" fill="#0000ff"/>
<circle cx="166.59" cy="179.24" r="1.1" fill="#0000ff"/>
<circle cx="173.97" cy="177.49" r="1.1" fill="#0000ff"/>
<circle cx="181.35" cy="175.74" r="1.1" fill="#0000ff"/>
<circle cx="188.73" cy="173.98" r="1.1" fill="#0000ff"/>
<circle cx="196.12" cy="172.23" r="1.1" fill="#0000ff"/>
<circle cx="203.50" cy="170.47" r="1.1" fill="#0000ff"/>
<circle cx="210.88" cy="168.72" r="1.1" fill="#0000ff"/>
<circle cx="218.27" cy="166.96" r="1.1" fill="#0000ff"/>
<circle cx="225.65" cy="165.21" r="1.1" fill="#0000ff"/>
<circle cx="233.03" cy="163.45" r="1.1" fill="#0000ff"/>
<circle cx="240.41" cy="161.69" r="1.1" fill="#0000ff"/>
<circle cx="247.80" cy="159.94" r="1.1" fill="#0000ff"/>
<circle cx="255.18" cy="158.18" r="1.1" fill="#0000ff"/>
<circle cx="262.56" cy="156.42" r="1.1" fill="#0000ff"/>
<circle cx="269.94" cy="154.66" r="1.1" fill="#0000ff"/>
<circle cx="277.33" cy="152.90" r="1.1" fill="#0000ff"/>
<circle cx="284.71" cy="151.14" r="1.1" fill="#0000ff"/>
<circle cx="292.09" cy="149.37" r="1.1" fill="#0000ff"/>
<circle cx="299.47" cy="147.61" r="1.1" fill="#0000ff"/>
<circle cx="306.86" cy="145.85" r="1.1" fill="#0000ff"/>
<circle cx="314.24" cy="144.08" r="1.1" fill="#0000ff"/>
<circle cx="321.62" cy="142.32" r="1.1" fill="#0000ff"/>
<circle cx="329.00" cy="140.55" r="1.1" fill="#0000ff"/>
<circle cx="336.39" cy="138.78" r="1.1" fill="#0000ff"/>
<circle cx="343.77" cy="137.01" r="1.1" fill="#0000ff"/>
<circle cx="351.15" cy="135.24" r="1.1" fill="#0000ff"/>
<circle cx="358.53" cy="133.47" r="1.1" fill="#0000ff"/>
<circle cx="365.92" cy="131.70" r="1.1" fill="#0000ff"/>
<circle cx="373.30" cy="129.93" r="1.1" fill="#0000ff"/>
<circle cx="380.68" cy="128.16" r="1.1" fill="#0000ff"/>
<circle cx="388.07" cy="126.38" r="1.1" fill="#0000ff"/>
<circle cx="395.45" cy="124.61" r="1.1" fill="#0000ff"/>
<circle cx="402.83" cy="122.83" r="1.1" fill="#0000ff"/>
<circle cx="410.21" cy="121.06" r="1.1" fill="#0000ff"/>
<circle cx="417.60" cy="119.28" r="1.1" fill="#0000ff"/>
<circle cx="424.98" cy="117.50" r="1.1" fill="#0000ff"/>
<circle cx="432.36" cy="115.72" r="1.1" fill="#0000ff"/>
<circle cx="439.74" cy="113.94" r="1.1" fill="#0000ff"/>
<circle cx="447.13" cy="112.15" r="1.1" fill="#0000ff"/>
<circle cx="454.51" cy="110.37" r="1.1" fill="#0000ff"/>
<circle cx="461.89" cy="108.58" r="1.1" fill="#0000ff"/>
<circle cx="469.27" cy="106.80" r="1.1" fill="#0000ff"/>
<circle cx="476.66" cy="105.01" r="1.1" fill="#0000ff"/>
<circle cx="484.04" cy="103.22" r="1.1" fill="#0000ff"/>
<circle cx="491.42" cy="101.43" r="1.1" fill="#0000ff"/>
<circle cx="498.80" cy="99.64" r="1.1" fill="#0000ff"/>
<circle cx="506.19" cy="97.85" r="1.1" fill="#0000ff"/>
<circle cx="513.57" cy="96.06" r="1.1" fill="#0000ff"/>
<circle cx="520.95" cy="94.26" r="1.1" fill="#0000ff"/>
<circle cx="528.33" cy="92.47" r="1.1" fill="#0000ff"/>
<circle cx="535.72" cy="90.67" r="1.1" fill="#0000ff"/>
<circle cx="543.10" cy="88.87" r="1.1" fill="#0000ff"/>
<circle cx="33.70" cy="189.96" r="1.1" fill="#edb120"/>
<circle cx="41.08" cy="188.21" r="1.1" fill="#edb120"/>
<circle cx="48.47" cy="186.47" r="1.1" fill="#edb120"/>
<circle cx="55.85" cy="184.72" r="1.1" fill="#edb120"/>
<circle cx="63.23" cy="182.97" r="1.1" fill="#edb120"/>
<circle cx="70.61" cy="181.21" r="1.1" fill="#edb120"/>
<circle cx="78.00" cy="179.46" r="1.1" fill="#edb120"/>
<circle cx="85.38" cy="177.71" r="1.1" fill="#edb120"/>
<circle cx="92.76" cy="175.96" r="1.1" fill="#edb120"/>
<circle cx="100.14" cy="174.21" r="1.1" fill="#edb120"/>
<circle cx="107.53" cy="172.45" r="1.1" fill="#edb120"/>
<circle cx="114.91" cy="170.70" r="1.1" fill="#edb120"/>
<circle cx="122.29" cy="168.94" r="1.1" fill="#edb120"/>
<circle cx="129.67" cy="167.19" r="1.1" fill="#edb120"/>
<circle cx="137.06" cy="165.43" r="1.1" fill="#edb120"/>
<circle cx="144.44" cy="163.68" r="1.1" fill="#edb120"/>
<circle cx="151.82" cy="161.92" r="1.1" fill="#edb120"/>
<circle cx="159.20" cy="160.16" r="1.1" fill="#edb120"/>
<circle cx="166.59" cy="158.40" r="1.1" fill="#edb120"/>
<circle cx="173.97" cy="156.64" r="1.1" fill="#edb120"/>
<circle cx="181.35" cy="154.88" r="1.1" fill="#edb120"/>
<circle cx="188.73" cy="153.12" r="1.1" fill="#edb120"/>
<circle cx="196.12" cy="151.36" r="1.1" fill="#edb120"/>
<circle cx="203.50" cy="149.60" r="1.1" fill="#edb120"/>
<circle cx="210.88" cy="147.84" r="1.1" fill="#edb120"/>
<circle cx="218.27" cy="146.07" r="1.1" fill="#edb120"/>
<circle cx="225.65" cy="144.31" r="1.1" fill="#edb120"/>
<circle cx="233.03" cy="142.54" r="1.1" fill="#edb120"/>
<circle cx="240.41" cy="140.78" r="1.1" fill="#edb120"/>
<circle cx="247.80" cy="139.01" r="1.1" fill="#edb120"/>
<circle cx="255.18" cy="137.24" r="1.1" fill="#edb120"/>
<circle cx="262.56" cy="135.47" r="1.1" fill="#edb120"/>
<circle cx="269.94" cy="133.70" r="1.1" fill="#edb120"/>
<circle cx="277.33" cy="131.93" r="1.1" fill="#edb120"/>
<circle cx="284.71" cy="130.16" r="1.1" fill="#edb120"/>
<circle cx="292.09" cy="128.38" r="1.1" fill="#edb120"/>
<circle cx="299.47" cy="126.61" r="1.1" fill="#edb120"/>
<circle cx="306.86" cy="124.84" r="1.1" fill="#edb120"/>
<circle cx="314.24" cy="123.06" r="1.1" fill="#edb120"/>
<circle cx="321.62" cy="121.28" r="1.1" fill="#edb120"/>
<circle cx="329.00" cy="119.50" r="1.1" fill="#edb120"/>
<circle cx="336.39" cy="117.73" r="1.1" fill="#edb120"/>
<circle cx="343.77" cy="115.95" r="1.1" fill="#edb120"/>
<circle cx="351.15" cy="114.16" r="1.1" fill="#edb120"/>
<circle cx="358.53" cy="112.38" r="1.1" fill="#edb120"/>
<circle cx="365.92" cy="110.60" r="1.1" fill="#edb120"/>
<circle cx="373.30" cy="108.81" r="1.1" fill="#edb120"/>
<circle cx="380.68" cy="107.03" r="1.1" fill="#edb120"/>
<circle cx="388.07" cy="105.24" r="1.1" fill="#edb120"/>
<circle cx="395.45" cy="103.45" r="1.1" fill="#edb120"/>
<circle cx="402.83" cy="101.66" r="1.1" fill="#edb120"/>
<circle cx="410.21" cy="99.87" r="1.1" fill="#edb120"/>
<circle cx="417.60" cy="98.08" r="1.1" fill="#edb120"/>
<circle cx="424.98" cy="96.29" r="1.1" fill="#edb120"/>
<circle cx="432.36" cy="94.49" r="1.1" fill="#edb120"/>
<circle cx="439.74" cy="92.70" r="1.1" fill="#edb120"/>
<circle cx="447.13" cy="90.90" r="1.1" fill="#edb120"/>
<circle cx="454.51" cy="89.10" r="1.1" fill="#edb120"/>
<circle cx="461.89" cy="87.30" r="1.1" fill="#edb120"/>
<circle cx="469.27" cy="85.50" r="1.1" fill="#edb120"/>
<circle cx="476.66" cy="83.70" r="1.1" fill="#edb120"/>
<circle cx="484.04" cy="81.89" r="1.1" fill="#edb120"/>
<circle cx="491.42" cy="80.09" r="1.1" fill="#edb120"/>
<circle cx="498.80" cy="78.28" r="1.1" fill="#edb120"/>
<circle cx="506.19" cy="76.47" r="1.1" fill="#edb120"/>
<circle cx="513.57" cy="74.67" r="1.1" fill="#edb120"/>
<circle cx="520.95" cy="72.85" r="1.1" fill="#edb120"/>
<circle cx="528.33" cy="71.04" r="1.1" fill="#edb120"/>
<circle cx="535.72" cy="69.23" r="1.1" fill="#edb120"/>
<circle cx="543.10" cy="67.41" r="1.1" fill="#edb120"/>
<circle cx="33.70" cy="169.64" r="1.1" fill="#000000"/>
<circle cx="41.08" cy="167.88" r="1.1" fill="#000000"/>
<circle cx="48.47" cy="166.12" r="1.1" fill="#000000"/>
<circle cx="55.85" cy="164.37" r="1.1" fill="#000000"/>
<circle cx="63.23" cy="162.61" r="1.1" fill="#000000"/>
<circle cx="70.61" cy="160.85" r="1.1" fill="#000000"/>
<circle cx="78.00" cy="159.10" r="1.1" fill="#000000"/>
<circle cx="85.38" cy="157.34" r="1.1" fill="#000000"/>
<circle cx="92.76" cy="155.58" r="1.1" fill="#000000"/>
<circle cx="100.14" cy="153.82" r="1.1" fill="#000000"/>
<circle cx="107.53" cy="152.05" r="1.1" fill="#000000"/>
<circle cx="114.91" cy="150.29" r="1.1" fill="#000000"/>
<circle cx="122.29" cy="148.53" r="1.1" fill="#000000"/>
<circle cx="129.67" cy="146.77" r="1.1" fill="#000000"/>
<circle cx="137.06" cy="145.00" r="1.1" fill="#000000"/>
<circle cx="144.44" cy="143.24" r="1.1" fill="#000000"/>
<circle cx="151.82" cy="141.47" r="1.1" fill="#000000"/>
<circle cx="159.20" cy="139.70" r="1.1" fill="#000000"/>
<circle cx="166.59" cy="137.94" r="1.1" fill="#000000"/>
<circle cx="173.97" cy="136.17" r="1.1" fill="#000000"/>
<circle cx="181.35" cy="134.40" r="1.1" fill="#000000"/>
<circle cx="188.73" cy="132.63" r="1.1" fill="#000000"/>
<circle cx="196.12" cy="130.85" r="1.1" fill="#000000"/>
<circle cx="203.50" cy="129.08" r="1.1" fill="#000000"/>
<circle cx="210.88" cy="127.31" r="1.1" fill="#000000"/>
<circle cx="218.27" cy="125.53" r="1.1" fill="#000000"/>
<circle cx="225.65" cy="123.76" r="1.1" fill="#000000"/>
<circle cx="233.03" cy="121.98" r="1.1" fill="#000000"/>
<circle cx="240.41" cy="120.20" r="1.1" fill="#000000"/>
<circle cx="247.80" cy="118.43" r="1.1" fill="#000000"/>
<circle cx="255.18" cy="116.65" r="1.1" fill="#000000"/>
<circle cx="262.56" cy="114.86" r="1.1" fill="#000000"/>
<circle cx="269.94" cy="113.08" r="1.1" fill="#000000"/>
<circle cx="277.33" cy="111.30" r="1.1" fill="#000000"/>
<circle cx="284.71" cy="109.52" r="1.1" fill="#000000"/>
<circle cx="292.09" cy="107.73" r="1.1" fill="#000000"/>
<circle cx="299.47" cy="105.94" r="1.1" fill="#000000"/>
<circle cx="306.86" cy="104.16" r="1.1" fill="#000000"/>
<circle cx="314.24" cy="102.37" r="1.1" fill="#000000"/>
<circle cx="321.62" cy="100.58" r="1.1" fill="#000000"/>
<circle cx="329.00" cy="98.79" r="1.1" fill="#000000"/>
<circle cx="336.39" cy="96.99" r="1.1" fill="#000000"/>
<circle cx="343.77" cy="95.20" r="1.1" fill="#000000"/>
<circle cx="351.15" cy="93.40" r="1.1" fill="#000000"/>
<circle cx="358.53" cy="91.61" r="1.1" fill="#000000"/>
<circle cx="365.92" cy="89.81" r="1.1" fill="#000000"/>
<circle cx="373.30" cy="88.01" r="1.1" fill="#000000"/>
<circle cx="380.68" cy="86.21" r="1.1" fill="#000000"/>
<circle cx="388.07" cy="84.41" r="1.1" fill="#000000"/>
<circle cx="395.45" cy="82.60" r="1.1" fill="#000000"/>
<circle cx="402.83" cy="80.80" r="1.1" fill="#000000"/>
<circle cx="410.21" cy="78.99" r="1.1" fill="#000000"/>
<circle cx="417.60" cy="77.19" r="1.1" fill="#000000"/>
<circle cx="424.98" cy="75.38" r="1.1" fill="#000000"/>
<circle cx="432.36" cy="73.57" r="1.1" fill="#000000"/>
<circle cx="439.74" cy="71.76" r="1.1" fill="#000000"/>
<circle cx="447.13" cy="69.94" r="1.1" fill="#000000"/>
<circle cx="454.51" cy="68.13" r="1.1" fill="#000000"/>
<circle cx="461.89" cy="66.31" r="1.1" fill="#000000"/>
<circle cx="469.27" cy="64.49" r="1.1" fill="#000000"/>
<circle cx="476.66" cy="62.67" r="1.1" fill="#000000"/>
<circle cx="484.04" cy="60.85" r="1.1" fill="#000000"/>
<circle cx="491.42" cy="59.03" r="1.1" fill="#000000"/>
<circle cx="498.80" cy="57.20" r="1.1" fill="#000000"/>
<circle cx="506.19" cy="55.38" r="1.1" fill="#000000"/>
<circle cx="513.57" cy="53.55" r="1.1" fill="#000000"/>
<circle cx="520.95" cy="51.72" r="1.1" fill="#000000"/>
<circle cx="528.33" cy="49.89" r="1.1" fill="#000000"/>
<circle cx="535.72" cy="48.06" r="1.1" fill="#000000"/>
<circle cx="543.10" cy="46.22" r="1.1" fill="#000000"/>
<rect x="31.54" y="251.32" width="4.32" height="4.32" stroke="#00ff00" stroke-width="1.3" fill="none"/>
<rect x="38.92" y="249.57" width="4.32" height="4.32" stroke="#00ff00" stroke-width="1.3" fill="none"/>
<rect x="46.31" y="247.83" width="4.32" height="4.32" stroke="#00ff00" stroke-width="1.3" fill="none"/>
<rect x="53.69" y="246.09" width="4.32" height="4.32" stroke="#00ff00" stroke-width="1.3" fill="none"/>
<rect x="61.07" y="244.35" width="4.32" height="4.32" stroke="#00ff00" stroke-width="1.3" fill="none"/>
<rect x="68.45" y="242.60" width="4.32" height="4.32" stroke="#00ff00" stroke-width="1.3" fill="none"/>
<rect x="75.84" y="240.86" width="4.32" height="4.32" stroke="#00ff00" stroke-width="1.3" fill="none"/>
<rect x="83.22" y="239.12" width="4.32" height="4.32" stroke="#00ff00" stroke-width="1.3" fill="none"/>
<rect x="90.60" y="237.38" width="4.32" height="4.32" stroke="#00ff00" stroke-width="1.3" fill="none"/>
<rect x="97.98" y="235.63" width="4.32" height="4.32" stroke="#00ff00" stroke-width="1.3" fill="none"/>
<rect x="105.37" y="233.89" width="4.32" height="4.32" stroke="#00ff00" stroke-width="1.3" fill="none"/>
<rect x="112.75" y="232.15" width="4.32" height="4.32" stroke="#00ff00" stroke-width="1.3" fill="none"/>
<rect x="120.13" y="230.41" width="4.32" height="4.32" stroke="#00ff00" stroke-width="1.3" fill="none"/>
<rect x="127.51" y="228.66" width="4.32" height="4.32" stroke="#00ff00" stroke-width="1.3" fill="none"/>
<rect x="134.90" y="226.92" width="4.32" height="4.32" stroke="#00ff00" stroke-width="1.3" fill="none"/>
<rect x="142.28" y="225.18" width="4.32" height="4.32" stroke="#00ff00" stroke-width="1.3" fill="none"/>
<rect x="149.66" y="223.43" width="4.32" height="4.32" stroke="#00ff00" stroke-width="1.3" fill="none"/>
<rect x="157.04" y="221.69" width="4.32" height="4.32" stroke="#00ff00" stroke-width="1.3" fill="none"/>
<rect x="164.43" y="219.95" width="4.32" height="4.32" stroke="#00ff00" stroke-width="1.3" fill="none"/>
<rect x="171.81" y="218.21" width="4.32" height="4.32" stroke="#00ff00" stroke-width="1.3" fill="none"/>
<rect x="179.19" y="216.46" width="4.32" height="4.32" stroke="#00ff00" stroke-width="1.3" fill="none"/>
<rect x="186.57" y="214.72" width="4.32" height="4.32" stroke="#00ff00" stroke-width="1.3" fill="none"/>
<rect x="193.96" y="212.97" width="4.32" height="4.32" stroke="#00ff00" stroke-width="1.3" fill="none"/>
<rect x="201.34" y="211.23" width="4.32" height="4.32" stroke="#00ff00" stroke-width="1.3" fill="none"/>
<rect x="208.72" y="209.49" width="4.32" height="4.32" stroke="#00ff00" stroke-width="1.3" fill="none"/>
<rect x="216.11" y="207.74" width="4.32" height="4.32" stroke="#00ff00" stroke-width="1.3" fill="none"/>
<rect x="223.49" y="206.00" width="4.32" height="4.32" stroke="#00ff00" stroke-width="1.3" fill="none"/>
<rect x="230.87" y="204.25" width="4.32" height="4.32" stroke="#00ff00" stroke-width="1.3" fill="none"/>
<rect x="238.25" y="202.51" width="4.32" height="4.32" stroke="#00ff00" stroke-width="1.3" fill="none"/>
<rect x="245.64" y="200.76" width="4.32" height="4.32" stroke="#00ff00" stroke-width="1.3" fill="none"/>
<rect x="253.02" y="199.02" width="4.32" height="4.32" stroke="#00ff00" stroke-width="1.3" fill="none"/>
<rect x="260.40" y="197.27" width="4.32" height="4.32" stroke="#00ff00" stroke-width="1.3" fill="none"/>
<rect x="267.78" y="195.52" width="4.32" height="4.32" stroke="#00ff00" stroke-width="1.3" fill="none"/>
<rect x="275.17" y="193.78" width="4.32" height="4.32" stroke="#00ff00" stroke-width="1.3" fill="none"/>
<rect x="282.55" y="192.03" width="4.32" height="4.32" stroke="#00ff00" stroke-width="1.3" fill="none"/>
<rect x="289.93" y="190.28" width="4.32" height="4.32" stroke="#00ff00" stroke-width="1.3" fill="none"/>
<rect x="297.31" y="188.53" width="4.32" height="4.32" stroke="#00ff00" stroke-width="1.3" fill="none"/>
<rect x="304.70" y="186.78" width="4.32" height="4.32" stroke="#00ff00" stroke-width="1.3" fill="none"/>
<rect x="312.08" y="185.04" width="4.32" height="4.32" stroke="#00ff00" stroke-width="1.3" fill="none"/>
<rect x="319.46" y="183.29" width="4.32" height="4.32" stroke="#00ff00" stroke-width="1.3" fill="none"/>
<rect x="326.84" y="181.54" width="4.32" height="4.32" stroke="#00ff00" stroke-width="1.3" fill="none"/>
<rect x="334.23" y="179.79" width="4.32" height="4.32" stroke="#00ff00" stroke-width="1.3" fill="none"/>
<rect x="341.61" y="178.03" width="4.32" height="4.32" stroke="#00ff00" stroke-width="1.3" fill="none"/>
<rect x="348.99" y="176.28" width="4.32" height="4.32" stroke="#00ff00" stroke-width="1.3" fill="none"/>
<rect x="356.37" y="174.53" width="4.32" height="4.32" stroke="#00ff00" stroke-width="1.3" fill="none"/>
<rect x="363.76" y="172.78" width="4.32" height="4.32" stroke="#00ff00" stroke-width="1.3" fill="none"/>
<rect x="371.14" y="171.03" width="4.32" height="4.32" stroke="#00ff00" stroke-width="1.3" fill="none"/>
<rect x="378.52" y="169.27" width="4.32" height="4.32" stroke="#00ff00" stroke-width="1.3" fill="none"/>
<rect x="385.91" y="167.52" width="4.32" height="4.32" stroke="#00ff00" stroke-width="1.3" fill="none"/>
<rect x="393.29" y="165.76" width="4.32" height="4.32" stroke="#00ff00" stroke-width="1.3" fill="none"/>
<rect x="400.67" y="164.01" width="4.32" height="4.32" stroke="#00ff00" stroke-width="1.3" fill="none"/>
<rect x="408.05" y="162.25" width="4.32" height="4.32" stroke="#00ff00" stroke-width="1.3" fill="none"/>
<rect x="415.44" y="160.49" width="4.32" height="4.32" stroke="#00ff00" stroke-width="1.3" fill="none"/>
<rect x="422.82" y="158.74" width="4.32" height="4.32" stroke="#00ff00" stroke-width="1.3" fill="none"/>
<rect x="430.20" y="156.98" width="4.32" height="4.32" stroke="#00ff00" stroke-width="1.3" fill="none"/>
<rect x="437.58" y="155.22" width="4.32" height="4.32" stroke="#00ff00" stroke-width="1.3" fill="none"/>
<rect x="444.97" y="153.46" width="4.32" height="4.32" stroke="#00ff00" stroke-width="1.3" fill="none"/>
<rect x="452.35" y="151.70" width="4.32" height="4.32" stroke="#00ff00" stroke-width="1.3" fill="none"/>
<rect x="459.73" y="149.94" width="4.32" height="4.32" stroke="#00ff00" stroke-width="1.3" fill="none"/>
<rect x="467.11" y="148.17" width="4.32" height="4.32" stroke="#00ff00" stroke-width="1.3" fill="none"/>
<rect x="474.50" y="146.41" width="4.32" height="4.32" stroke="#00ff00" stroke-width="1.3" fill="none"/>
<rect x="481.88" y="144.65" width="4.32" height="4.32" stroke="#00ff00" stroke-width="1.3" fill="none"/>
<rect x="489.26" y="142.88" width="4.32" height="4.32" stroke="#00ff00" stroke-width="1.3" fill="none"/>
<rect x="496.64" y="141.12" width="4.32" height="4.32" stroke="#00ff00" stroke-width="1.3" fill="none"/>
<rect x="504.03" y="139.35" width="4.32" height="4.32" stroke="#00ff00" stroke-width="1.3" fill="none"/>
<rect x="511.41" y="137.59" width="4.32" height="4.32" stroke="#00ff00" stroke-width="1.3" fill="none"/>
<rect x="518.79" y="135.82" width="4.32" height="4.32" stroke="#00ff00" stroke-width="1.3" fill="none"/>
<rect x="526.17" y="134.05" width="4.32" height="4.32" stroke="#00ff00" stroke-width="1.3" fill="none"/>
<rect x="533.56" y="132.28" width="4.32" height="4.32" stroke="#00ff00" stroke-width="1.3" fill="none"/>
<rect x="540.94" y="130.51" width="4.32" height="4.32" stroke="#00ff00" stroke-width="1.3" fill="none"/>
<rect x="31.54" y="229.70" width="4.32" height="4.32" stroke="#ff0000" stroke-width="1.3" fill="none"/>
<rect x="38.92" y="227.95" width="4.32" height="4.32" stroke="#ff0000" stroke-width="1.3" fill="none"/>
<rect x="46.31" y="226.21" width="4.32" height="4.32" stroke="#ff0000" stroke-width="1.3" fill="none"/>
<rect x="53.69" y="224.47" width="4.32" height="4.32" stroke="#ff0000" stroke-width="1.3" fill="none"/>
<rect x="61.07" y="222.73" width="4.32" height="4.32" stroke="#ff0000" stroke-width="1.3" fill="none"/>
<rect x="68.45" y="220.98" width="4.32" height="4.32" stroke="#ff0000" stroke-width="1.3" fill="none"/>
<rect x="75.84" y="219.24" width="4.32" height="4.32" stroke="#ff0000" stroke-width="1.3" fill="none"/>
<rect x="83.22" y="217.50" width="4.32" height="4.32" stroke="#ff0000" stroke-width="1.3" fill="none"/>
<rect x="90.60" y="215.75" width="4.32" height="4.32" stroke="#ff0000" stroke-width="1.3" fill="none"/>
<rect x="97.98" y="214.01" width="4.32" height="4.32" stroke="#ff0000" stroke-width="1.3" fill="none"/>
<rect x="105.37" y="212.27" width="4.32" height="4.32" stroke="#ff0000" stroke-width="1.3" fill="none"/>
<rect x="112.75" y="210.52" width="4.32" height="4.32" stroke="#ff0000" stroke-width="1.3" fill="none"/>
<rect x="120.13" y="208.78" width="4.32" height="4.32" stroke="#ff0000" stroke-width="1.3" fill="none"/>
<rect x="127.51" y="207.03" width="4.32" height="4.32" stroke="#ff0000" stroke-width="1.3" fill="none"/>
<rect x="134.90" y="205.29" width="4.32" height="4.32" stroke="#ff0000" stroke-width="1.3" fill="none"/>
<rect x="142.28" y="203.54" width="4.32" height="4.32" stroke="#ff0000" stroke-width="1.3" fill="none"/>
<rect x="149.66" y="201.80" width="4.32" height="4.32" stroke="#ff0000" stroke-width="1.3" fill="none"/>
<rect x="157.04" y="200.05" width="4.32" height="4.32" stroke="#ff0000" stroke-width="1.3" fill="none"/>
<rect x="164.43" y="198.31" width="4.32" height="4.32" stroke="#ff0000" stroke-width="1.3" fill="none"/>
<rect x="171.81" y="196.56" width="4.32" height="4.32" stroke="#ff0000" stroke-width="1.3" fill="none"/>
<rect x="179.19" y="194.81" width="4.32" height="4.32" stroke="#ff0000" stroke-width="1.3" fill="none"/>
<rect x="186.57" y="193.07" width="4.32" height="4.32" stroke="#ff0000" stroke-width="1.3" fill="none"/>
<rect x="193.96" y="191.32" width="4.32" height="4.32" stroke="#ff0000" stroke-width="1.3" fill="none"/>
<rect x="201.34" y="189.57" width="4.32" height="4.32" stroke="#ff0000" stroke-width="1.3" fill="none"/>
<rect x="208.72" y="187.82" width="4.32" height="4.32" stroke="#ff0000" stroke-width="1.3" fill="none"/>
<rect x="216.11" y="186.07" width="4.32" height="4.32" stroke="#ff0000" stroke-width="1.3" fill="none"/>
<rect x="223.49" y="184.32" width="4.32" height="4.32" stroke="#ff0000" stroke-width="1.3" fill="none"/>
<rect x="230.87" y="182.57" width="4.32" height="4.32" stroke="#ff0000" stroke-width="1.3" fill="none"/>
<rect x="238.25" y="180.82" width="4.32" height="4.32" stroke="#ff0000" stroke-width="1.3" fill="none"/>
<rect x="245.64" y="179.07" width="4.32" height="4.32" stroke="#ff0000" stroke-width="1.3" fill="none"/>
<rect x="253.02" y="177.32" width="4.32" height="4.32" stroke="#ff0000" stroke-width="1.3" fill="none"/>
<rect x="260.40" y="175.57" width="4.32" height="4.32" stroke="#ff0000" stroke-width="1.3" fill="none"/>
<rect x="267.78" y="173.82" width="4.32" height="4.32" stroke="#ff0000" stroke-width="1.3" fill="none"/>
<rect x="275.17" y="172.07" width="4.32" height="4.32" stroke="#ff0000" stroke-width="1.3" fill="none"/>
<rect x="282.55" y="170.31" width="4.32" height="4.32" stroke="#ff0000" stroke-width="1.3" fill="none"/>
<rect x="289.93" y="168.56" width="4.32" height="4.32" stroke="#ff0000" stroke-width="1.3" fill="none"/>
<rect x="297.31" y="166.80" width="4.32" height="4.32" stroke="#ff0000" stroke-width="1.3" fill="none"/>
<rect x="304.70" y="165.05" width="4.32" height="4.32" stroke="#ff0000" stroke-width="1.3" fill="none"/>
<rect x="312.08" y="163.29" width="4.32" height="4.32" stroke="#ff0000" stroke-width="1.3" fill="none"/>
<rect x="319.46" y="161.54" width="4.32" height="4.32" stroke="#ff0000" stroke-width="1.3" fill="none"/>
<rect x="326.84" y="159.78" width="4.32" height="4.32" stroke="#ff0000" stroke-width="1.3" fill="none"/>
<rect x="334.23" y="158.02" width="4.32" height="4.32" stroke="#ff0000" stroke-width="1.3" fill="none"/>
<rect x="341.61" y="156.26" width="4.32" height="4.32" stroke="#ff0000" stroke-width="1.3" fill="none"/>
<rect x="348.99" y="154.50" width="4.32" height="4.32" stroke="#ff0000" stroke-width="1.3" fill="none"/>
<rect x="356.37" y="152.74" width="4.32" height="4.32" stroke="#ff0000" stroke-width="1.3" fill="none"/>
<rect x="363.76" y="150.98" width="4.32" height="4.32" stroke="#ff0000" stroke-width="1.3" fill="none"/>
<rect x="371.14" y="149.22" width="4.32" height="4.32" stroke="#ff0000" stroke-width="1.3" fill="none"/>
<rect x="378.52" y="147.46" width="4.32" height="4.32" stroke="#ff0000" stroke-width="1.3" fill="none"/>
<rect x="385.91" y="145.70" width="4.32" height="4.32" stroke="#ff0000" stroke-width="1.3" fill="none"/>
<rect x="393.29" y="143.93" width="4.32" height="4.32" stroke="#ff0000" stroke-width="1.3" fill="none"/>
<rect x="400.67" y="142.17" width="4.32" height="4.32" stroke="#ff0000" stroke-width="1.3" fill="none"/>
<rect x="408.05" y="140.40" width="4.32" height="4.32" stroke="#ff0000" stroke-width="1.3" fill="none"/>
<rect x="415.44" y="138.63" width="4.32" height="4.32" stroke="#ff0000" stroke-width="1.3" fill="none"/>
<rect x="422.82" y="136.87" width="4.32" height="4.32" stroke="#ff0000" stroke-width="1.3" fill="none"/>
<rect x="430.20" y="135.10" width="4.32" height="4.32" stroke="#ff0000" stroke-width="1.3" fill="none"/>
<rect x="437.58" y="133.33" width="4.32" height="4.32" stroke="#ff0000" stroke-width="1.3" fill="none"/>
<rect x="444.97" y="131.56" width="4.32" height="4.32" stroke="#ff0000" stroke-width="1.3" fill="none"/>
<rect x="452.35" y="129.79" width="4.32" height="4.32" stroke="#ff0000" stroke-width="1.3" fill="none"/>
<rect x="459.73" y="128.02" width="4.32" height="4.32" stroke="#ff0000" stroke-width="1.3" fill="none"/>
<rect x="467.11" y="126.24" width="4.32" height="4.32" stroke="#ff0000" stroke-width="1.3" fill="none"/>
<rect x="474.50" y="124.47" width="4.32" height="4.32" stroke="#ff0000" stroke-width="1.3" fill="none"/>
<rect x="481.88" y="122.69" width="4.32" height="4.32" stroke="#ff0000" stroke-width="1.3" fill="none"/>
<rect x="489.26" y="120.92" width="4.32" height="4.32" stroke="#ff0000" stroke-width="1.3" fill="none"/>
<rect x="496.64" y="119.14" width="4.32" height="4.32" stroke="#ff0000" stroke-width="1.3" fill="none"/>
<rect x="504.03" y="117.36" width="4.32" height="4.32" stroke="#ff0000" stroke-width="1.3" fill="none"/>
<rect x="511.41" y="115.58" width="4.32" height="4.32" stroke="#ff0000" stroke-width="1.3" fill="none"/>
<rect x="518.79" y="113.80" width="4.32" height="4.32" stroke="#ff0000" stroke-width="1.3" fill="none"/>
<rect x="526.17" y="112.02" width="4.32" height="4.32" stroke="#ff0000" stroke-width="1.3" fill="none"/>
<rect x="533.56" y="110.24" width="4.32" height="4.32" stroke="#ff0000" stroke-width="1.3" fill="none"/>
<rect x="540.94" y="108.46" width="4.32" height="4.32" stroke="#ff0000" stroke-width="1.3" fill="none"/>
<rect x="31.54" y="208.54" width="4.32" height="4.32" stroke="#0000ff" stroke-width="1.3" fill="none"/>
<rect x="38.92" y="206.79" width="4.32" height="4.32" stroke="#0000ff" stroke-width="1.3" fill="none"/>
<rect x="46.31" y="205.05" width="4.32" height="4.32" stroke="#0000ff" stroke-width="1.3" fill="none"/>
<rect x="53.69" y="203.30" width="4.32" height="4.32" stroke="#0000ff" stroke-width="1.3" fill="none"/>
<rect x="61.07" y="201.56" width="4.32" height="4.32" stroke="#0000ff" stroke-width="1.3" fill="none"/>
<rect x="68.45" y="199.81" width="4.32" height="4.32" stroke="#0000ff" stroke-width="1.3" fill="none"/>
<rect x="75.84" y="198.06" width="4.32" height="4.32" stroke="#0000ff" stroke-width="1.3" fill="none"/>
<rect x="83.22" y="196.32" width="4.32" height="4.32" stroke="#0000ff" stroke-width="1.3" fill="none"/>
<rect x="90.60" y="194.57" width="4.32" height="4.32" stroke="#0000ff" stroke-width="1.3" fill="none"/>
<rect x="97.98" y="192.82" width="4.32" height="4.32" stroke="#0000ff" stroke-width="1.3" fill="none"/>
<rect x="105.37" y="191.08" width="4.32" height="4.32" stroke="#0000ff" stroke-width="1.3" fill="none"/>
<rect x="112.75" y="189.33" width="4.32" height="4.32" stroke="#0000ff" stroke-width="1.3" fill="none"/>
<rect x="120.13" y="187.58" width="4.32" height="4.32" stroke="#0000ff" stroke-width="1.3" fill="none"/>
<rect x="127.51" y="185.83" width="4.32" height="4.32" stroke="#0000ff" stroke-width="1.3" fill="none"/>
<rect x="134.90" y="184.08" width="4.32" height="4.32" stroke="#0000ff" stroke-width="1.3" fill="none"/>
<rect x="142.28" y="182.33" width="4.32" height="4.32" stroke="#0000ff" stroke-width="1.3" fill="none"/>
<rect x="149.66" y="180.58" width="4.32" height="4.32" stroke="#0000ff" stroke-width="1.3" fill="none"/>
<rect x="157.04" y="178.83" width="4.32" height="4.32" stroke="#0000ff" stroke-width="1.3" fill="none"/>
<rect x="164.43" y="177.08" width="4.32" height="4.32" stroke="#0000ff" stroke-width="1.3" fill="none"/>
<rect x="171.81" y="175.33" width="4.32" height="4.32" stroke="#0000ff" stroke-width="1.3" fill="none"/>
<rect x="179.19" y="173.58" width="4.32" height="4.32" stroke="#0000ff" stroke-width="1.3" fill="none"/>
<rect x="186.57" y="171.82" width="4.32" height="4.32" stroke="#0000ff" stroke-width="1.3" fill="none"/>
<rect x="193.96" y="170.07" width="4.32" height="4.32" stroke="#0000ff" stroke-width="1.3" fill="none"/>
<rect x="201.34" y="168.31" width="4.32" height="4.32" stroke="#0000ff" stroke-width="1.3" fill="none"/>
<rect x="208.72" y="166.56" width="4.32" height="4.32" stroke="#0000ff" stroke-width="1.3" fill="none"/>
<rect x="216.11" y="164.80" width="4.32" height="4.32" stroke="#0000ff" stroke-width="1.3" fill="none"/>
<rect x="223.49" y="163.05" width="4.32" height="4.32" stroke="#0000ff" stroke-width="1.3" fill="none"/>
<rect x="230.87" y="161.29" width="4.32" height="4.32" stroke="#0000ff" stroke-width="1.3" fill="none"/>
<rect x="238.25" y="159.53" width="4.32" height="4.32" stroke="#0000ff" stroke-width="1.3" fill="none"/>
<rect x="245.64" y="157.78" width="4.32" height="4.32" stroke="#0000ff" stroke-width="1.3" fill="none"/>
<rect x="253.02" y="156.02" width="4.32" height="4.32" stroke="#0000ff" stroke-width="1.3" fill="none"/>
<rect x="260.40" y="154.26" width="4.32" height="4.32" stroke="#0000ff" stroke-width="1.3" fill="none"/>
<rect x="267.78" y="152.50" width="4.32" height="4.32" stroke="#0000ff" stroke-width="1.3" fill="none"/>
<rect x="275.17" y="150.74" width="4.32" height="4.32" stroke="#0000ff" stroke-width="1.3" fill="none"/>
<rect x="282.55" y="148.98" width="4.32" height="4.32" stroke="#0000ff" stroke-width="1.3" fill="none"/>
<rect x="289.93" y="147.21" width="4.32" height="4.32" stroke="#0000ff" stroke-width="1.3" fill="none"/>
<rect x="297.31" y="145.45" width="4.32" height="4.32" stroke="#0000ff" stroke-width="1.3" fill="none"/>
<rect x="304.70" y="143.69" width="4.32" height="4.32" stroke="#0000ff" stroke-width="1.3" fill="none"/>
<rect x="312.08" y="141.92" width="4.32" height="4.32" stroke="#0000ff" stroke-width="1.3" fill="none"/>
<rect x="319.46" y="140.16" width="4.32" height="4.32" stroke="#0000ff" stroke-width="1.3" fill="none"/>
<rect x="326.84" y="138.39" width="4.32" height="4.32" stroke="#0000ff" stroke-width="1.3" fill="none"/>
<rect x="334.23" y="136.62" width="4.32" height="4.32" stroke="#0000ff" stroke-width="1.3" fill="none"/>
<rect x="341.61" y="134.85" width="4.32" height="4.32" stroke="#0000ff" stroke-width="1.3" fill="none"/>
<rect x="348.99" y="133.08" width="4.32" height="4.32" stroke="#0000ff" stroke-width="1.3" fill="none"/>
<rect x="356.37" y="131.31" width="4.32" height="4.32" stroke="#0000ff" stroke-width="1.3" fill="none"/>
<rect x="363.76" y="129.54" width="4.32" height="4.32" stroke="#0000ff" stroke-width="1.3" fill="none"/>
<rect x="371.14" y="127.77" width="4.32" height="4.32" stroke="#0000ff" stroke-width="1.3" fill="none"/>
<rect x="378.52" y="126.00" width="4.32" height="4.32" stroke="#0000ff" stroke-width="1.3" fill="none"/>
<rect x="385.91" y="124.22" width="4.32" height="4.32" stroke="#0000ff" stroke-width="1.3" fill="none"/>
<rect x="393.29" y="122.45" width="4.32" height="4.32" stroke="#0000ff" stroke-width="1.3" fill="none"/>
<rect x="400.67" y="120.67" width="4.32" height="4.32" stroke="#0000ff" stroke-width="1.3" fill="none"/>
<rect x="408.05" y="118.90" width="4.32" height="4.32" stroke="#0000ff" stroke-width="1.3" fill="none"/>
<rect x="415.44" y="117.12" width="4.32" height="4.32" stroke="#0000ff" stroke-width="1.3" fill="none"/>
<rect x="422.82" y="115.34" width="4.32" height="4.32" stroke="#0000ff" stroke-width="1.3" fill="none"/>
<rect x="430.20" y="113.56" width="4.32" height="4.32" stroke="#0000ff" stroke-width="1.3" fill="none"/>
<rect x="437.58" y="111.78" width="4.32" height="4.32" stroke="#0000ff" stroke-width="1.3" fill="none"/>
<rect x="444.97" y="109.99" width="4.32" height="4.32" stroke="#0000ff" stroke-width="1.3" fill="none"/>
<rect x="452.35" y="108.21" width="4.32" height="4.32" stroke="#0000ff" stroke-width="1.3" fill="none"/>
<rect x="459.73" y="106.42" width="4.32" height="4.32" stroke="#0000ff" stroke-width="1.3" fill="none"/>
<rect x="467.11" y="104.64" width="4.32" height="4.32" stroke="#0000ff" stroke-width="1.3" fill="none"/>
<rect x="474.50" y="102.85" width="4.32" height="4.32" stroke="#0000ff" stroke-width="1.3" fill="none"/>
<rect x="481.88" y="101.06" width="4.32" height="4.32" stroke="#0000ff" stroke-width="1.3" fill="none"/>
<rect x="489.26" y="99.27" width="4.32" height="4.32" stroke="#0000ff" stroke-width="1.3" fill="none"/>
<rect x="496.64" y="97.48" width="4.32" height="4.32" stroke="#0000ff" stroke-width="1.3" fill="none"/>
<rect x="504.03" y="95.69" width="4.32" height="4.32" stroke="#0000ff" stroke-width="1.3" fill="none"/>
<rect x="511.41" y="93.90" width="4.32" height="4.32" stroke="#0000ff" stroke-width="1.3" fill="none"/>
<rect x="518.79" y="92.10" width="4.32" height="4.32" stroke="#0000ff" stroke-width="1.3" fill="none"/>
<rect x="526.17" y="90.31" width="4.32" height="4.32" stroke="#0000ff" stroke-width="1.3" fill="none"/>
<rect x="533.56" y="88.51" width="4.32" height="4.32" stroke="#0000ff" stroke-width="1.3" fill="none"/>
<rect x="540.94" y="86.71" width="4.32" height="4.32" stroke="#0000ff" stroke-width="1.3" fill="none"/>
<rect x="31.54" y="187.80" width="4.32" height="4.32" stroke="#edb120" stroke-width="1.3" fill="none"/>
<rect x="38.92" y="186.05" width="4.32" height="4.32" stroke="#edb120" stroke-width="1.3" fill="none"/>
<rect x="46.31" y="184.31" width="4.32" height="4.32" stroke="#edb120" stroke-width="1.3" fill="none"/>
<rect x="53.69" y="182.56" width="4.32" height="4.32" stroke="#edb120" stroke-width="1.3" fill="none"/>
<rect x="61.07" y="180.81" width="4.32" height="4.32" stroke="#edb120" stroke-width="1.3" fill="none"/>
<rect x="68.45" y="179.05" width="4.32" height="4.32" stroke="#edb120" stroke-width="1.3" fill="none"/>
<rect x="75.84" y="177.30" width="4.32" height="4.32" stroke="#edb120" stroke-width="1.3" fill="none"/>
<rect x="83.22" y="175.55" width="4.32" height="4.32" stroke="#edb120" stroke-width="1.3" fill="none"/>
<rect x="90.60" y="173.80" width="4.32" height="4.32" stroke="#edb120" stroke-width="1.3" fill="none"/>
<rect x="97.98" y="172.05" width="4.32" height="4.32" stroke="#edb120" stroke-width="1.3" fill="none"/>
<rect x="105.37" y="170.29" width="4.32" height="4.32" stroke="#edb120" stroke-width="1.3" fill="none"/>
<rect x="112.75" y="168.54" width="4.32" height="4.32" stroke="#edb120" stroke-width="1.3" fill="none"/>
<rect x="120.13" y="166.78" width="4.32" height="4.32" stroke="#edb120" stroke-width="1.3" fill="none"/>
<rect x="127.51" y="165.03" width="4.32" height="4.32" stroke="#edb120" stroke-width="1.3" fill="none"/>
<rect x="134.90" y="163.27" width="4.32" height="4.32" stroke="#edb120" stroke-width="1.3" fill="none"/>
<rect x="142.28" y="161.52" width="4.32" height="4.32" stroke="#edb120" stroke-width="1.3" fill="none"/>
<rect x="149.66" y="159.76" width="4.32" height="4.32" stroke="#edb120" stroke-width="1.3" fill="none"/>
<rect x="157.04" y="158.00" width="4.32" height="4.32" stroke="#edb120" stroke-width="1.3" fill="none"/>
<rect x="164.43" y="156.24" width="4.32" height="4.32" stroke="#edb120" stroke-width="1.3" fill="none"/>
<rect x="171.81" y="154.48" width="4.32" height="4.32" stroke="#edb120" stroke-width="1.3" fill="none"/>
<rect x="179.19" y="152.72" width="4.32" height="4.32" stroke="#edb120" stroke-width="1.3" fill="none"/>
<rect x="186.57" y="150.96" width="4.32" height="4.32" stroke="#edb120" stroke-width="1.3" fill="none"/>
<rect x="193.96" y="149.20" width="4.32" height="4.32" stroke="#edb120" stroke-width="1.3" fill="none"/>
<rect x="201.34" y="147.44" width="4.32" height="4.32" stroke="#edb120" stroke-width="1.3" fill="none"/>
<rect x="208.72" y="145.68" width="4.32" height="4.32" stroke="#edb120" stroke-width="1.3" fill="none"/>
<rect x="216.11" y="143.91" width="4.32" height="4.32" stroke="#edb120" stroke-width="1.3" fill="none"/>
<rect x="223.49" y="142.15" width="4.32" height="4.32" stroke="#edb120" stroke-width="1.3" fill="none"/>
<rect x="230.87" y="140.38" width="4.32" height="4.32" stroke="#edb120" stroke-width="1.3" fill="none"/>
<rect x="238.25" y="138.62" width="4.32" height="4.32" stroke="#edb120" stroke-width="1.3" fill="none"/>
<rect x="245.64" y="136.85" width="4.32" height="4.32" stroke="#edb120" stroke-width="1.3" fill="none"/>
<rect x="253.02" y="135.08" width="4.32" height="4.32" stroke="#edb120" stroke-width="1.3" fill="none"/>
<rect x="260.40" y="133.31" width="4.32" height="4.32" stroke="#edb120" stroke-width="1.3" fill="none"/>
<rect x="267.78" y="131.54" width="4.32" height="4.32" stroke="#edb120" stroke-width="1.3" fill="none"/>
<rect x="275.17" y="129.77" width="4.32" height="4.32" stroke="#edb120" stroke-width="1.3" fill="none"/>
<rect x="282.55" y="128.00" width="4.32" height="4.32" stroke="#edb120" stroke-width="1.3" fill="none"/>
<rect x="289.93" y="126.22" width="4.32" height="4.32" stroke="#edb120" stroke-width="1.3" fill="none"/>
<rect x="297.31" y="124.45" width="4.32" height="4.32" stroke="#edb120" stroke-width="1.3" fill="none"/>
<rect x="304.70" y="122.68" width="4.32" height="4.32" stroke="#edb120" stroke-width="1.3" fill="none"/>
<rect x="312.08" y="120.90" width="4.32" height="4.32" stroke="#edb120" stroke-width="1.3" fill="none"/>
<rect x="319.46" y="119.12" width="4.32" height="4.32" stroke="#edb120" stroke-width="1.3" fill="none"/>
<rect x="326.84" y="117.34" width="4.32" height="4.32" stroke="#edb120" stroke-width="1.3" fill="none"/>
<rect x="334.23" y="115.57" width="4.32" height="4.32" stroke="#edb120" stroke-width="1.3" fill="none"/>
<rect x="341.61" y="113.79" width="4.32" height="4.32" stroke="#edb120" stroke-width="1.3" fill="none"/>
<rect x="348.99" y="112.00" width="4.32" height="4.32" stroke="#edb120" stroke-width="1.3" fill="none"/>
<rect x="356.37" y="110.22" width="4.32" height="4.32" stroke="#edb120" stroke-width="1.3" fill="none"/>
<rect x="363.76" y="108.44" width="4.32" height="4.32" stroke="#edb120" stroke-width="1.3" fill="none"/>
<rect x="371.14" y="106.65" width="4.32" height="4.32" stroke="#edb120" stroke-width="1.3" fill="none"/>
<rect x="378.52" y="104.87" width="4.32" height="4.32" stroke="#edb120" stroke-width="1.3" fill="none"/>
<rect x="385.91" y="103.08" width="4.32" height="4.32" stroke="#edb120" stroke-width="1.3" fill="none"/>
<rect x="393.29" y="101.29" width="4.32" height="4.32" stroke="#edb120" stroke-width="1.3" fill="none"/>
<rect x="400.67" y="99.50" width="4.32" height="4.32" stroke="#edb120" stroke-width="1.3" fill="none"/>
<rect x="408.05" y="97.71" width="4.32" height="4.32" stroke="#edb120" stroke-width="1.3" fill="none"/>
<rect x="415.44" y="95.92" width="4.32" height="4.32" stroke="#edb120" stroke-width="1.3" fill="none"/>
<rect x="422.82" y="94.13" width="4.32" height="4.32" stroke="#edb120" stroke-width="1.3" fill="none"/>
<rect x="430.20" y="92.33" width="4.32" height="4.32" stroke="#edb120" stroke-width="1.3" fill="none"/>
<rect x="437.58" y="90.54" width="4.32" height="4.32" stroke="#edb120" stroke-width="1.3" fill="none"/>
<rect x="444.97" y="88.74" width="4.32" height="4.32" stroke="#edb120" stroke-width="1.3" fill="none"/>
<rect x="452.35" y="86.94" width="4.32" height="4.32" stroke="#edb120" stroke-width="1.3" fill="none"/>
<rect x="459.73" y="85.14" width="4.32" height="4.32" stroke="#edb120" stroke-width="1.3" fill="none"/>
<rect x="467.11" y="83.34" width="4.32" height="4.32" stroke="#edb120" stroke-width="1.3" fill="none"/>
<rect x="474.50" y="81.54" width="4.32" height="4.32" stroke="#edb120" stroke-width="1.3" fill="none"/>
<rect x="481.88" y="79.73" width="4.32" height="4.32" stroke="#edb120" stroke-width="1.3" fill="none"/>
<rect x="489.26" y="77.93" width="4.32" height="4.32" stroke="#edb120" stroke-width="1.3" fill="none"/>
<rect x="496.64" y="76.12" width="4.32" height="4.32" stroke="#edb120" stroke-width="1.3" fill="none"/>
<rect x="504.03" y="74.31" width="4.32" height="4.32" stroke="#edb120" stroke-width="1.3" fill="none"/>
<rect x="511.41" y="72.51" width="4.32" height="4.32" stroke="#edb120" stroke-width="1.3" fill="none"/>
<rect x="518.79" y="70.69" width="4.32" height="4.32" stroke="#edb120" stroke-width="1.3" fill="none"/>
<rect x="526.17" y="68.88" width="4.32" height="4.32" stroke="#edb120" stroke-width="1.3" fill="none"/>
<rect x="533.56" y="67.07" width="4.32" height="4.32" stroke="#edb120" stroke-width="1.3" fill="none"/>
<rect x="540.94" y="65.25" width="4.32" height="4.32" stroke="#edb120" stroke-width="1.3" fill="none"/>
<rect x="31.54" y="167.48" width="4.32" height="4.32" stroke="#000000" stroke-width="1.3" fill="none"/>
<rect x="38.92" y="165.72" width="4.32" height="4.32" stroke="#000000" stroke-width="1.3" fill="none"/>
<rect x="46.31" y="163.96" width="4.32" height="4.32" stroke="#000000" stroke-width="1.3" fill="none"/>
<rect x="53.69" y="162.21" width="4.32" height="4.32" stroke="#000000" stroke-width="1.3" fill="none"/>
<rect x="61.07" y="160.45" width="4.32" height="4.32" stroke="#000000" stroke-width="1.3" fill="none"/>
<rect x="68.45" y="158.69" width="4.32" height="4.32" stroke="#000000" stroke-width="1.3" fill="none"/>
<rect x="75.84" y="156.94" width="4.32" height="4.32" stroke="#000000" stroke-width="1.3" fill="none"/>
<rect x="83.22" y="155.18" width="4.32" height="4.32" stroke="#000000" stroke-width="1.3" fill="none"/>
<rect x="90.60" y="153.42" width="4.32" height="4.32" stroke="#000000" stroke-width="1.3" fill="none"/>
<rect x="97.98" y="151.66" width="4.32" height="4.32" stroke="#000000" stroke-width="1.3" fill="none"/>
<rect x="105.37" y="149.89" width="4.32" height="4.32" stroke="#000000" stroke-width="1.3" fill="none"/>
<rect x="112.75" y="148.13" width="4.32" height="4.32" stroke="#000000" stroke-width="1.3" fill="none"/>
<rect x="120.13" y="146.37" width="4.32" height="4.32" stroke="#000000" stroke-width="1.3" fill="none"/>
<rect x="127.51" y="144.61" width="4.32" height="4.32" stroke="#000000" stroke-width="1.3" fill="none"/>
<rect x="134.90" y="142.84" width="4.32" height="4.32" stroke="#000000" stroke-width="1.3" fill="none"/>
<rect x="142.28" y="141.08" width="4.32" height="4.32" stroke="#000000" stroke-width="1.3" fill="none"/>
<rect x="149.66" y="139.31" width="4.32" height="4.32" stroke="#000000" stroke-width="1.3" fill="none"/>
<rect x="157.04" y="137.54" width="4.32" height="4.32" stroke="#000000" stroke-width="1.3" fill="none"/>
<rect x="164.43" y="135.78" width="4.32" height="4.32" stroke="#000000" stroke-width="1.3" fill="none"/>
<rect x="171.81" y="134.01" width="4.32" height="4.32" stroke="#000000" stroke-width="1.3" fill="none"/>
<rect x="179.19" y="132.24" width="4.32" height="4.32" stroke="#000000" stroke-width="1.3" fill="none"/>
<rect x="186.57" y="130.47" width="4.32" height="4.32" stroke="#000000" stroke-width="1.3" fill="none"/>
<rect x="193.96" y="128.69" width="4.32" height="4.32" stroke="#000000" stroke-width="1.3" fill="none"/>
<rect x="201.34" y="126.92" width="4.32" height="4.32" stroke="#000000" stroke-width="1.3" fill="none"/>
<rect x="208.72" y="125.15" width="4.32" height="4.32" stroke="#000000" stroke-width="1.3" fill="none"/>
<rect x="216.11" y="123.37" width="4.32" height="4.32" stroke="#000000" stroke-width="1.3" fill="none"/>
<rect x="223.49" y="121.60" width="4.32" height="4.32" stroke="#000000" stroke-width="1.3" fill="none"/>
<rect x="230.87" y="119.82" width="4.32" height="4.32" stroke="#000000" stroke-width="1.3" fill="none"/>
<rect x="238.25" y="118.04" width="4.32" height="4.32" stroke="#000000" stroke-width="1.3" fill="none"/>
<rect x="245.64" y="116.27" width="4.32" height="4.32" stroke="#000000" stroke-width="1.3" fill="none"/>
<rect x="253.02" y="114.49" width="4.32" height="4.32" stroke="#000000" stroke-width="1.3" fill="none"/>
<rect x="260.40" y="112.70" width="4.32" height="4.32" stroke="#000000" stroke-width="1.3" fill="none"/>
<rect x="267.78" y="110.92" width="4.32" height="4.32" stroke="#000000" stroke-width="1.3" fill="none"/>
<rect x="275.17" y="109.14" width="4.32" height="4.32" stroke="#000000" stroke-width="1.3" fill="none"/>
<rect x="282.55" y="107.36" width="4.32" height="4.32" stroke="#000000" stroke-width="1.3" fill="none"/>
<rect x="289.93" y="105.57" width="4.32" height="4.32" stroke="#000000" stroke-width="1.3" fill="none"/>
<rect x="297.31" y="103.78" width="4.32" height="4.32" stroke="#000000" stroke-width="1.3" fill="none"/>
<rect x="304.70" y="102.00" width="4.32" height="4.32" stroke="#000000" stroke-width="1.3" fill="none"/>
<rect x="312.08" y="100.21" width="4.32" height="4.32" stroke="#000000" stroke-width="1.3" fill="none"/>
<rect x="319.46" y="98.42" width="4.32" height="4.32" stroke="#000000" stroke-width="1.3" fill="none"/>
<rect x="326.84" y="96.63" width="4.32" height="4.32" stroke="#000000" stroke-width="1.3" fill="none"/>
<rect x="334.23" y="94.83" width="4.32" height="4.32" stroke="#000000" stroke-width="1.3" fill="none"/>
<rect x="341.61" y="93.04" width="4.32" height="4.32" stroke="#000000" stroke-width="1.3" fill="none"/>
<rect x="348.99" y="91.24" width="4.32" height="4.32" stroke="#000000" stroke-width="1.3" fill="none"/>
<rect x="356.37" y="89.45" width="4.32" height="4.32" stroke="#000000" stroke-width="1.3" fill="none"/>
<rect x="363.76" y="87.65" width="4.32" height="4.32" stroke="#000000" stroke-width="1.3" fill="none"/>
<rect x="371.14" y="85.85" width="4.32" height="4.32" stroke="#000000" stroke-width="1.3" fill="none"/>
<rect x="378.52" y="84.05" width="4.32" height="4.32" stroke="#000000" stroke-width="1.3" fill="none"/>
<rect x="385.91" y="82.25" width="4.32" height="4.32" stroke="#000000" stroke-width="1.3" fill="none"/>
<rect x="393.29" y="80.44" width="4.32" height="4.32" stroke="#000000" stroke-width="1.3" fill="none"/>
<rect x="400.67" y="78.64" width="4.32" height="4.32" stroke="#000000" stroke-width="1.3" fill="none"/>
<rect x="408.05" y="76.83" width="4.32" height="4.32" stroke="#000000" stroke-width="1.3" fill="none"/>
<rect x="415.44" y="75.03" width="4.32" height="4.32" stroke="#000000" stroke-width="1.3" fill="none"/>
<rect x="422.82" y="73.22" width="4.32" height="4.32" stroke="#000000" stroke-width="1.3" fill="none"/>
<rect x="430.20" y="71.41" width="4.32" height="4.32" stroke="#000000" stroke-width="1.3" fill="none"/>
<rect x="437.58" y="69.60" width="4.32" height="4.32" stroke="#000000" stroke-width="1.3" fill="none"/>
<rect x="444.97" y="67.78" width="4.32" height="4.32" stroke="#000000" stroke-width="1.3" fill="none"/>
<rect x="452.35" y="65.97" width="4.32" height="4.32" stroke="#000000" stroke-width="1.3" fill="none"/>
<rect x="459.73" y="64.15" width="4.32" height="4.32" stroke="#000000" stroke-width="1.3" fill="none"/>
<rect x="467.11" y="62.33" width="4.32" height="4.32" stroke="#000000" stroke-width="1.3" fill="none"/>
<rect x="474.50" y="60.51" width="4.32" height="4.32" stroke="#000000" stroke-width="1.3" fill="none"/>
<rect x="481.88" y="58.69" width="4.32" height="4.32" stroke="#000000" stroke-width="1.3" fill="none"/>
<rect x="489.26" y="56.87" width="4.32" height="4.32" stroke="#000000" stroke-width="1.3" fill="none"/>
<rect x="496.64" y="55.04" width="4.32" height="4.32" stroke="#000000" stroke-width="1.3" fill="none"/>
<rect x="504.03" y="53.22" width="4.32" height="4.32" stroke="#000000" stroke-width="1.3" fill="none"/>
<rect x="511.41" y="51.39" width="4.32" height="4.32" stroke="#000000" stroke-width="1.3" fill="none"/>
<rect x="518.79" y="49.56" width="4.32" height="4.32" stroke="#000000" stroke-width="1.3" fill="none"/>
<rect x="526.17" y="47.73" width="4.32" height="4.32" stroke="#000000" stroke-width="1.3" fill="none"/>
<rect x="533.56" y="45.90" width="4.32" height="4.32" stroke="#000000" stroke-width="1.3" fill="none"/>
<rect x="540.94" y="44.06" width="4.32" height="4.32" stroke="#000000" stroke-width="1.3" fill="none"/>
<path d="M30.34 251.52H37.06L33.70 257.40Z" stroke="#00ff00" stroke-width="1.3" fill="none" stroke-linejoin="miter"/>
<path d="M37.72 249.77H44.44L41.08 255.65Z" stroke="#00ff00" stroke-width="1.3" fill="none" stroke-linejoin="miter"/>
<path d="M45.11 248.03H51.83L48.47 253.91Z" stroke="#00ff00" stroke-width="1.3" fill="none" stroke-linejoin="miter"/>
<path d="M52.49 246.28H59.21L55.85 252.16Z" stroke="#00ff00" stroke-width="1.3" fill="none" stroke-linejoin="miter"/>
<path d="M59.87 244.54H66.59L63.23 250.42Z" stroke="#00ff00" stroke-width="1.3" fill="none" stroke-linejoin="miter"/>
<path d="M67.25 242.79H73.97L70.61 248.67Z" stroke="#00ff00" stroke-width="1.3" fill="none" stroke-linejoin="miter"/>
<path d="M74.64 241.04H81.36L78.00 246.92Z" stroke="#00ff00" stroke-width="1.3" fill="none" stroke-linejoin="miter"/>
<path d="M82.02 239.29H88.74L85.38 245.17Z" stroke="#00ff00" stroke-width="1.3" fill="none" stroke-linejoin="miter"/>
<path d="M89.40 237.54H96.12L92.76 243.42Z" stroke="#00ff00" stroke-width="1.3" fill="none" stroke-linejoin="miter"/>
<path d="M96.78 235.79H103.50L100.14 241.67Z" stroke="#00ff00" stroke-width="1.3" fill="none" stroke-linejoin="miter"/>
<path d="M104.17 234.03H110.89L107.53 239.91Z" stroke="#00ff00" stroke-width="1.3" fill="none" stroke-linejoin="miter"/>
<path d="M111.55 232.28H118.27L114.91 238.16Z" stroke="#00ff00" stroke-width="1.3" fill="none" stroke-linejoin="miter"/>
<path d="M118.93 230.52H125.65L122.29 236.40Z" stroke="#00ff00" stroke-width="1.3" fill="none" stroke-linejoin="miter"/>
<path d="M126.31 228.77H133.03L129.67 234.65Z" stroke="#00ff00" stroke-width="1.3" fill="none" stroke-linejoin="miter"/>
<path d="M133.70 227.01H140.42L137.06 232.89Z" stroke="#00ff00" stroke-width="1.3" fill="none" stroke-linejoin="miter"/>
<path d="M141.08 225.25H147.80L144.44 231.13Z" stroke="#00ff00" stroke-width="1.3" fill="none" stroke-linejoin="miter"/>
<path d="M148.46 223.49H155.18L151.82 229.37Z" stroke="#00ff00" stroke-width="1.3" fill="none" stroke-linejoin="miter"/>
<path d="M155.84 221.72H162.56L159.20 227.60Z" stroke="#00ff00" stroke-width="1.3" fill="none" stroke-linejoin="miter"/>
<path d="M163.23 219.96H169.95L166.59 225.84Z" stroke="#00ff00" stroke-width="1.3" fill="none" stroke-linejoin="miter"/>
<path d="M170.61 218.20H177.33L173.97 224.08Z" stroke="#00ff00" stroke-width="1.3" fill="none" stroke-linejoin="miter"/>
<path d="M177.99 216.43H184.71L181.35 222.31Z" stroke="#00ff00" stroke-width="1.3" fill="none" stroke-linejoin="miter"/>
<path d="M185.37 214.66H192.09L188.73 220.54Z" stroke="#00ff00" stroke-width="1.3" fill="none" stroke-linejoin="miter"/>
<path d="M192.76 212.90H199.48L196.12 218.78Z" stroke="#00ff00" stroke-width="1.3" fill="none" stroke-linejoin="miter"/>
<path d="M200.14 211.13H206.86L203.50 217.01Z" stroke="#00ff00" stroke-width="1.3" fill="none" stroke-linejoin="miter"/>
<path d="M207.52 209.35H214.24L210.88 215.23Z" stroke="#00ff00" stroke-width="1.3" fill="none" stroke-linejoin="miter"/>
<path d="M214.91 207.58H221.63L218.27 213.46Z" stroke="#00ff00" stroke-width="1.3" fill="none" stroke-linejoin="miter"/>
<path d="M222.29 205.81H229.01L225.65 211.69Z" stroke="#00ff00" stroke-width="1.3" fill="none" stroke-linejoin="miter"/>
<path d="M229.67 204.03H236.39L233.03 209.91Z" stroke="#00ff00" stroke-width="1.3" fill="none" stroke-linejoin="miter"/>
<path d="M237.05 202.25H243.77L240.41 208.13Z" stroke="#00ff00" stroke-width="1.3" fill="none" stroke-linejoin="miter"/>
<path d="M244.44 200.48H251.16L247.80 206.36Z" stroke="#00ff00" stroke-width="1.3" fill="none" stroke-linejoin="miter"/>
<path d="M251.82 198.70H258.54L255.18 204.58Z" stroke="#00ff00" stroke-width="1.3" fill="none" stroke-linejoin="miter"/>
<path d="M259.20 196.91H265.92L262.56 202.79Z" stroke="#00ff00" stroke-width="1.3" fill="none" stroke-linejoin="miter"/>
<path d="M266.58 195.13H273.30L269.94 201.01Z" stroke="#00ff00" stroke-width="1.3" fill="none" stroke-linejoin="miter"/>
<path d="M273.97 193.35H280.69L277.33 199.23Z" stroke="#00ff00" stroke-width="1.3" fill="none" stroke-linejoin="miter"/>
<path d="M281.35 191.56H288.07L284.71 197.44Z" stroke="#00ff00" stroke-width="1.3" fill="none" stroke-linejoin="miter"/>
<path d="M288.73 189.77H295.45L292.09 195.65Z" stroke="#00ff00" stroke-width="1.3" fill="none" stroke-linejoin="miter"/>
<path d="M296.11 187.98H302.83L299.47 193.86Z" stroke="#00ff00" stroke-width="1.3" fill="none" stroke-linejoin="miter"/>
<path d="M303.50 186.19H310.22L306.86 192.07Z" stroke="#00ff00" stroke-width="1.3" fill="none" stroke-linejoin="miter"/>
<path d="M310.88 184.40H317.60L314.24 190.28Z" stroke="#00ff00" stroke-width="1.3" fill="none" stroke-linejoin="miter"/>
<path d="M318.26 182.61H324.98L321.62 188.49Z" stroke="#00ff00" stroke-width="1.3" fill="none" stroke-linejoin="miter"/>
<path d="M325.64 180.81H332.36L329.00 186.69Z" stroke="#00ff00" stroke-width="1.3" fill="none" stroke-linejoin="miter"/>
<path d="M333.03 179.01H339.75L336.39 184.89Z" stroke="#00ff00" stroke-width="1.3" fill="none" stroke-linejoin="miter"/>
<path d="M340.41 177.22H347.13L343.77 183.10Z" stroke="#00ff00" stroke-width="1.3" fill="none" stroke-linejoin="miter"/>
<path d="M347.79 175.41H354.51L351.15 181.29Z" stroke="#00ff00" stroke-width="1.3" fill="none" stroke-linejoin="miter"/>
<path d="M355.17 173.61H361.89L358.53 179.49Z" stroke="#00ff00" stroke-width="1.3" fill="none" stroke-linejoin="miter"/>
<path d="M362.56 171.81H369.28L365.92 177.69Z" stroke="#00ff00" stroke-width="1.3" fill="none" stroke-linejoin="miter"/>
<path d="M369.94 170.00H376.66L373.30 175.88Z" stroke="#00ff00" stroke-width="1.3" fill="none" stroke-linejoin="miter"/>
<path d="M377.32 168.19H384.04L380.68 174.07Z" stroke="#00ff00" stroke-width="1.3" fill="none" stroke-linejoin="miter"/>
<path d="M384.71 166.39H391.43L388.07 172.27Z" stroke="#00ff00" stroke-width="1.3" fill="none" stroke-linejoin="miter"/>
<path d="M392.09 164.57H398.81L395.45 170.45Z" stroke="#00ff00" stroke-width="1.3" fill="none" stroke-linejoin="miter"/>
<path d="M399.47 162.76H406.19L402.83 168.64Z" stroke="#00ff00" stroke-width="1.3" fill="none" stroke-linejoin="miter"/>
<path d="M406.85 160.95H413.57L410.21 166.83Z" stroke="#00ff00" stroke-width="1.3" fill="none" stroke-linejoin="miter"/>
<path d="M414.24 159.13H420.96L417.60 165.01Z" stroke="#00ff00" stroke-width="1.3" fill="none" stroke-linejoin="miter"/>
<path d="M421.62 157.31H428.34L424.98 163.19Z" stroke="#00ff00" stroke-width="1.3" fill="none" stroke-linejoin="miter"/>
<path d="M429.00 155.49H435.72L432.36 161.37Z" stroke="#00ff00" stroke-width="1.3" fill="none" stroke-linejoin="miter"/>
<path d="M436.38 153.67H443.10L439.74 159.55Z" stroke="#00ff00" stroke-width="1.3" fill="none" stroke-linejoin="miter"/>
<path d="M443.77 151.85H450.49L447.13 157.73Z" stroke="#00ff00" stroke-width="1.3" fill="none" stroke-linejoin="miter"/>
<path d="M451.15 150.02H457.87L454.51 155.90Z" stroke="#00ff00" stroke-width="1.3" fill="none" stroke-linejoin="miter"/>
<path d="M458.53 148.19H465.25L461.89 154.07Z" stroke="#00ff00" stroke-width="1.3" fill="none" stroke-linejoin="miter"/>
<path d="M465.91 146.36H472.63L469.27 152.24Z" stroke="#00ff00" stroke-width="1.3" fill="none" stroke-linejoin="miter"/>
<path d="M473.30 144.53H480.02L476.66 150.41Z" stroke="#00ff00" stroke-width="1.3" fill="none" stroke-linejoin="miter"/>
<path d="M480.68 142.70H487.40L484.04 148.58Z" stroke="#00ff00" stroke-width="1.3" fill="none" stroke-linejoin="miter"/>
<path d="M488.06 140.86H494.78L491.42 146.74Z" stroke="#00ff00" stroke-width="1.3" fill="none" stroke-linejoin="miter"/>
<path d="M495.44 139.03H502.16L498.80 144.91Z" stroke="#00ff00" stroke-width="1.3" fill="none" stroke-linejoin="miter"/>
<path d="M502.83 137.19H509.55L506.19 143.07Z" stroke="#00ff00" stroke-width="1.3" fill="none" stroke-linejoin="miter"/>
<path d="M510.21 135.34H516.93L513.57 141.22Z" stroke="#00ff00" stroke-width="1.3" fill="none" stroke-linejoin="miter"/>
<path d="M517.59 133.50H524.31L520.95 139.38Z" stroke="#00ff00" stroke-width="1.3" fill="none" stroke-linejoin="miter"/>
<path d="M524.97 131.65H531.69L528.33 137.53Z" stroke="#00ff00" stroke-width="1.3" fill="none" stroke-linejoin="miter"/>
<path d="M532.36 129.81H539.08L535.72 135.69Z" stroke="#00ff00" stroke-width="1.3" fill="none" stroke-linejoin="miter"/>
<path d="M539.74 127.96H546.46L543.10 133.84Z" stroke="#00ff00" stroke-width="1.3" fill="none" stroke-linejoin="miter"/>
<path d="M30.34 229.90H37.06L33.70 235.78Z" stroke="#ff0000" stroke-width="1.3" fill="none" stroke-linejoin="miter"/>
<path d="M37.72 228.15H44.44L41.08 234.03Z" stroke="#ff0000" stroke-width="1.3" fill="none" stroke-linejoin="miter"/>
<path d="M45.11 226.41H51.83L48.47 232.29Z" stroke="#ff0000" stroke-width="1.3" fill="none" stroke-linejoin="miter"/>
<path d="M52.49 224.66H59.21L55.85 230.54Z" stroke="#ff0000" stroke-width="1.3" fill="none" stroke-linejoin="miter"/>
<path d="M59.87 222.92H66.59L63.23 228.80Z" stroke="#ff0000" stroke-width="1.3" fill="none" stroke-linejoin="miter"/>
<path d="M67.25 221.17H73.97L70.61 227.05Z" stroke="#ff0000" stroke-width="1.3" fill="none" stroke-linejoin="miter"/>
<path d="M74.64 219.42H81.36L78.00 225.30Z" stroke="#ff0000" stroke-width="1.3" fill="none" stroke-linejoin="miter"/>
<path d="M82.02 217.67H88.74L85.38 223.55Z" stroke="#ff0000" stroke-width="1.3" fill="none" stroke-linejoin="miter"/>
<path d="M89.40 215.92H96.12L92.76 221.80Z" stroke="#ff0000" stroke-width="1.3" fill="none" stroke-linejoin="miter"/>
<path d="M96.78 214.16H103.50L100.14 220.04Z" stroke="#ff0000" stroke-width="1.3" fill="none" stroke-linejoin="miter"/>
<path d="M104.17 212.41H110.89L107.53 218.29Z" stroke="#ff0000" stroke-width="1.3" fill="none" stroke-linejoin="miter"/>
<path d="M111.55 210.65H118.27L114.91 216.53Z" stroke="#ff0000" stroke-width="1.3" fill="none" stroke-linejoin="miter"/>
<path d="M118.93 208.89H125.65L122.29 214.77Z" stroke="#ff0000" stroke-width="1.3" fill="none" stroke-linejoin="miter"/>
<path d="M126.31 207.14H133.03L129.67 213.02Z" stroke="#ff0000" stroke-width="1.3" fill="none" stroke-linejoin="miter"/>
<path d="M133.70 205.38H140.42L137.06 211.26Z" stroke="#ff0000" stroke-width="1.3" fill="none" stroke-linejoin="miter"/>
<path d="M141.08 203.61H147.80L144.44 209.49Z" stroke="#ff0000" stroke-width="1.3" fill="none" stroke-linejoin="miter"/>
<path d="M148.46 201.85H155.18L151.82 207.73Z" stroke="#ff0000" stroke-width="1.3" fill="none" stroke-linejoin="miter"/>
<path d="M155.84 200.09H162.56L159.20 205.97Z" stroke="#ff0000" stroke-width="1.3" fill="none" stroke-linejoin="miter"/>
<path d="M163.23 198.32H169.95L166.59 204.20Z" stroke="#ff0000" stroke-width="1.3" fill="none" stroke-linejoin="miter"/>
<path d="M170.61 196.55H177.33L173.97 202.43Z" stroke="#ff0000" stroke-width="1.3" fill="none" stroke-linejoin="miter"/>
<path d="M177.99 194.78H184.71L181.35 200.66Z" stroke="#ff0000" stroke-width="1.3" fill="none" stroke-linejoin="miter"/>
<path d="M185.37 193.01H192.09L188.73 198.89Z" stroke="#ff0000" stroke-width="1.3" fill="none" stroke-linejoin="miter"/>
<path d="M192.76 191.24H199.48L196.12 197.12Z" stroke="#ff0000" stroke-width="1.3" fill="none" stroke-linejoin="miter"/>
<path d="M200.14 189.47H206.86L203.50 195.35Z" stroke="#ff0000" stroke-width="1.3" fill="none" stroke-linejoin="miter"/>
<path d="M207.52 187.69H214.24L210.88 193.57Z" stroke="#ff0000" stroke-width="1.3" fill="none" stroke-linejoin="miter"/>
<path d="M214.91 185.91H221.63L218.27 191.79Z" stroke="#ff0000" stroke-width="1.3" fill="none" stroke-linejoin="miter"/>
<path d="M222.29 184.13H229.01L225.65 190.01Z" stroke="#ff0000" stroke-width="1.3" fill="none" stroke-linejoin="miter"/>
<path d="M229.67 182.35H236.39L233.03 188.23Z" stroke="#ff0000" stroke-width="1.3" fill="none" stroke-linejoin="miter"/>
<path d="M237.05 180.57H243.77L240.41 186.45Z" stroke="#ff0000" stroke-width="1.3" fill="none" stroke-linejoin="miter"/>
<path d="M244.44 178.79H251.16L247.80 184.67Z" stroke="#ff0000" stroke-width="1.3" fill="none" stroke-linejoin="miter"/>
<path d="M251.82 177.00H258.54L255.18 182.88Z" stroke="#ff0000" stroke-width="1.3" fill="none" stroke-linejoin="miter"/>
<path d="M259.20 175.22H265.92L262.56 181.10Z" stroke="#ff0000" stroke-width="1.3" fill="none" stroke-linejoin="miter"/>
<path d="M266.58 173.43H273.30L269.94 179.31Z" stroke="#ff0000" stroke-width="1.3" fill="none" stroke-linejoin="miter"/>
<path d="M273.97 171.64H280.69L277.33 177.52Z" stroke="#ff0000" stroke-width="1.3" fill="none" stroke-linejoin="miter"/>
<path d="M281.35 169.84H288.07L284.71 175.72Z" stroke="#ff0000" stroke-width="1.3" fill="none" stroke-linejoin="miter"/>
<path d="M288.73 168.05H295.45L292.09 173.93Z" stroke="#ff0000" stroke-width="1.3" fill="none" stroke-linejoin="miter"/>
<path d="M296.11 166.26H302.83L299.47 172.14Z" stroke="#ff0000" stroke-width="1.3" fill="none" stroke-linejoin="miter"/>
<path d="M303.50 164.46H310.22L306.86 170.34Z" stroke="#ff0000" stroke-width="1.3" fill="none" stroke-linejoin="miter"/>
<path d="M310.88 162.66H317.60L314.24 168.54Z" stroke="#ff0000" stroke-width="1.3" fill="none" stroke-linejoin="miter"/>
<path d="M318.26 160.86H324.98L321.62 166.74Z" stroke="#ff0000" stroke-width="1.3" fill="none" stroke-linejoin="miter"/>
<path d="M325.64 159.05H332.36L329.00 164.93Z" stroke="#ff0000" stroke-width="1.3" fill="none" stroke-linejoin="miter"/>
<path d="M333.03 157.25H339.75L336.39 163.13Z" stroke="#ff0000" stroke-width="1.3" fill="none" stroke-linejoin="miter"/>
<path d="M340.41 155.44H347.13L343.77 161.32Z" stroke="#ff0000" stroke-width="1.3" fill="none" stroke-linejoin="miter"/>
<path d="M347.79 153.63H354.51L351.15 159.51Z" stroke="#ff0000" stroke-width="1.3" fill="none" stroke-linejoin="miter"/>
<path d="M355.17 151.82H361.89L358.53 157.70Z" stroke="#ff0000" stroke-width="1.3" fill="none" stroke-linejoin="miter"/>
<path d="M362.56 150.01H369.28L365.92 155.89Z" stroke="#ff0000" stroke-width="1.3" fill="none" stroke-linejoin="miter"/>
<path d="M369.94 148.20H376.66L373.30 154.08Z" stroke="#ff0000" stroke-width="1.3" fill="none" stroke-linejoin="miter"/>
<path d="M377.32 146.38H384.04L380.68 152.26Z" stroke="#ff0000" stroke-width="1.3" fill="none" stroke-linejoin="miter"/>
<path d="M384.71 144.56H391.43L388.07 150.44Z" stroke="#ff0000" stroke-width="1.3" fill="none" stroke-linejoin="miter"/>
<path d="M392.09 142.74H398.81L395.45 148.62Z" stroke="#ff0000" stroke-width="1.3" fill="none" stroke-linejoin="miter"/>
<path d="M399.47 140.92H406.19L402.83 146.80Z" stroke="#ff0000" stroke-width="1.3" fill="none" stroke-linejoin="miter"/>
<path d="M406.85 139.10H413.57L410.21 144.98Z" stroke="#ff0000" stroke-width="1.3" fill="none" stroke-linejoin="miter"/>
<path d="M414.24 137.27H420.96L417.60 143.15Z" stroke="#ff0000" stroke-width="1.3" fill="none" stroke-linejoin="miter"/>
<path d="M421.62 135.44H428.34L424.98 141.32Z" stroke="#ff0000" stroke-width="1.3" fill="none" stroke-linejoin="miter"/>
<path d="M429.00 133.61H435.72L432.36 139.49Z" stroke="#ff0000" stroke-width="1.3" fill="none" stroke-linejoin="miter"/>
<path d="M436.38 131.78H443.10L439.74 137.66Z" stroke="#ff0000" stroke-width="1.3" fill="none" stroke-linejoin="miter"/>
<path d="M443.77 129.95H450.49L447.13 135.83Z" stroke="#ff0000" stroke-width="1.3" fill="none" stroke-linejoin="miter"/>
<path d="M451.15 128.11H457.87L454.51 133.99Z" stroke="#ff0000" stroke-width="1.3" fill="none" stroke-linejoin="miter"/>
<path d="M458.53 126.27H465.25L461.89 132.15Z" stroke="#ff0000" stroke-width="1.3" fill="none" stroke-linejoin="miter"/>
<path d="M465.91 124.43H472.63L469.27 130.31Z" stroke="#ff0000" stroke-width="1.3" fill="none" stroke-linejoin="miter"/>
<path d="M473.30 122.59H480.02L476.66 128.47Z" stroke="#ff0000" stroke-width="1.3" fill="none" stroke-linejoin="miter"/>
<path d="M480.68 120.74H487.40L484.04 126.62Z" stroke="#ff0000" stroke-width="1.3" fill="none" stroke-linejoin="miter"/>
<path d="M488.06 118.90H494.78L491.42 124.78Z" stroke="#ff0000" stroke-width="1.3" fill="none" stroke-linejoin="miter"/>
<path d="M495.44 117.05H502.16L498.80 122.93Z" stroke="#ff0000" stroke-width="1.3" fill="none" stroke-linejoin="miter"/>
<path d="M502.83 115.20H509.55L506.19 121.08Z" stroke="#ff0000" stroke-width="1.3" fill="none" stroke-linejoin="miter"/>
<path d="M510.21 113.34H516.93L513.57 119.22Z" stroke="#ff0000" stroke-width="1.3" fill="none" stroke-linejoin="miter"/>
<path d="M517.59 111.49H524.31L520.95 117.37Z" stroke="#ff0000" stroke-width="1.3" fill="none" stroke-linejoin="miter"/>
<path d="M524.97 109.63H531.69L528.33 115.51Z" stroke="#ff0000" stroke-width="1.3" fill="none" stroke-linejoin="miter"/>
<path d="M532.36 107.77H539.08L535.72 113.65Z" stroke="#ff0000" stroke-width="1.3" fill="none" stroke-linejoin="miter"/>
<path d="M539.74 105.91H546.46L543.10 111.79Z" stroke="#ff0000" stroke-width="1.3" fill="none" stroke-linejoin="miter"/>
<path d="M30.34 208.74H37.06L33.70 214.62Z" stroke="#0000ff" stroke-width="1.3" fill="none" stroke-linejoin="miter"/>
<path d="M37.72 206.99H44.44L41.08 212.87Z" stroke="#0000ff" stroke-width="1.3" fill="none" stroke-linejoin="miter"/>
<path d="M45.11 205.24H51.83L48.47 211.12Z" stroke="#0000ff" stroke-width="1.3" fill="none" stroke-linejoin="miter"/>
<path d="M52.49 203.50H59.21L55.85 209.38Z" stroke="#0000ff" stroke-width="1.3" fill="none" stroke-linejoin="miter"/>
<path d="M59.87 201.75H66.59L63.23 207.63Z" stroke="#0000ff" stroke-width="1.3" fill="none" stroke-linejoin="miter"/>
<path d="M67.25 200.00H73.97L70.61 205.88Z" stroke="#0000ff" stroke-width="1.3" fill="none" stroke-linejoin="miter"/>
<path d="M74.64 198.24H81.36L78.00 204.12Z" stroke="#0000ff" stroke-width="1.3" fill="none" stroke-linejoin="miter"/>
<path d="M82.02 196.49H88.74L85.38 202.37Z" stroke="#0000ff" stroke-width="1.3" fill="none" stroke-linejoin="miter"/>
<path d="M89.40 194.73H96.12L92.76 200.61Z" stroke="#0000ff" stroke-width="1.3" fill="none" stroke-linejoin="miter"/>
<path d="M96.78 192.98H103.50L100.14 198.86Z" stroke="#0000ff" stroke-width="1.3" fill="none" stroke-linejoin="miter"/>
<path d="M104.17 191.22H110.89L107.53 197.10Z" stroke="#0000ff" stroke-width="1.3" fill="none" stroke-linejoin="miter"/>
<path d="M111.55 189.46H118.27L114.91 195.34Z" stroke="#0000ff" stroke-width="1.3" fill="none" stroke-linejoin="miter"/>
<path d="M118.93 187.70H125.65L122.29 193.58Z" stroke="#0000ff" stroke-width="1.3" fill="none" stroke-linejoin="miter"/>
<path d="M126.31 185.93H133.03L129.67 191.81Z" stroke="#0000ff" stroke-width="1.3" fill="none" stroke-linejoin="miter"/>
<path d="M133.70 184.17H140.42L137.06 190.05Z" stroke="#0000ff" stroke-width="1.3" fill="none" stroke-linejoin="miter"/>
<path d="M141.08 182.40H147.80L144.44 188.28Z" stroke="#0000ff" stroke-width="1.3" fill="none" stroke-linejoin="miter"/>
<path d="M148.46 180.63H155.18L151.82 186.51Z" stroke="#0000ff" stroke-width="1.3" fill="none" stroke-linejoin="miter"/>
<path d="M155.84 178.86H162.56L159.20 184.74Z" stroke="#0000ff" stroke-width="1.3" fill="none" stroke-linejoin="miter"/>
<path d="M163.23 177.09H169.95L166.59 182.97Z" stroke="#0000ff" stroke-width="1.3" fill="none" stroke-linejoin="miter"/>
<path d="M170.61 175.32H177.33L173.97 181.20Z" stroke="#0000ff" stroke-width="1.3" fill="none" stroke-linejoin="miter"/>
<path d="M177.99 173.54H184.71L181.35 179.42Z" stroke="#0000ff" stroke-width="1.3" fill="none" stroke-linejoin="miter"/>
<path d="M185.37 171.77H192.09L188.73 177.65Z" stroke="#0000ff" stroke-width="1.3" fill="none" stroke-linejoin="miter"/>
<path d="M192.76 169.99H199.48L196.12 175.87Z" stroke="#0000ff" stroke-width="1.3" fill="none" stroke-linejoin="miter"/>
<path d="M200.14 168.21H206.86L203.50 174.09Z" stroke="#0000ff" stroke-width="1.3" fill="none" stroke-linejoin="miter"/>
<path d="M207.52 166.43H214.24L210.88 172.31Z" stroke="#0000ff" stroke-width="1.3" fill="none" stroke-linejoin="miter"/>
<path d="M214.91 164.64H221.63L218.27 170.52Z" stroke="#0000ff" stroke-width="1.3" fill="none" stroke-linejoin="miter"/>
<path d="M222.29 162.86H229.01L225.65 168.74Z" stroke="#0000ff" stroke-width="1.3" fill="none" stroke-linejoin="miter"/>
<path d="M229.67 161.07H236.39L233.03 166.95Z" stroke="#0000ff" stroke-width="1.3" fill="none" stroke-linejoin="miter"/>
<path d="M237.05 159.28H243.77L240.41 165.16Z" stroke="#0000ff" stroke-width="1.3" fill="none" stroke-linejoin="miter"/>
<path d="M244.44 157.49H251.16L247.80 163.37Z" stroke="#0000ff" stroke-width="1.3" fill="none" stroke-linejoin="miter"/>
<path d="M251.82 155.70H258.54L255.18 161.58Z" stroke="#0000ff" stroke-width="1.3" fill="none" stroke-linejoin="miter"/>
<path d="M259.20 153.90H265.92L262.56 159.78Z" stroke="#0000ff" stroke-width="1.3" fill="none" stroke-linejoin="miter"/>
<path d="M266.58 152.11H273.30L269.94 157.99Z" stroke="#0000ff" stroke-width="1.3" fill="none" stroke-linejoin="miter"/>
<path d="M273.97 150.31H280.69L277.33 156.19Z" stroke="#0000ff" stroke-width="1.3" fill="none" stroke-linejoin="miter"/>
<path d="M281.35 148.51H288.07L284.71 154.39Z" stroke="#0000ff" stroke-width="1.3" fill="none" stroke-linejoin="miter"/>
<path d="M288.73 146.71H295.45L292.09 152.59Z" stroke="#0000ff" stroke-width="1.3" fill="none" stroke-linejoin="miter"/>
<path d="M296.11 144.90H302.83L299.47 150.78Z" stroke="#0000ff" stroke-width="1.3" fill="none" stroke-linejoin="miter"/>
<path d="M303.50 143.10H310.22L306.86 148.98Z" stroke="#0000ff" stroke-width="1.3" fill="none" stroke-linejoin="miter"/>
<path d="M310.88 141.29H317.60L314.24 147.17Z" stroke="#0000ff" stroke-width="1.3" fill="none" stroke-linejoin="miter"/>
<path d="M318.26 139.48H324.98L321.62 145.36Z" stroke="#0000ff" stroke-width="1.3" fill="none" stroke-linejoin="miter"/>
<path d="M325.64 137.66H332.36L329.00 143.54Z" stroke="#0000ff" stroke-width="1.3" fill="none" stroke-linejoin="miter"/>
<path d="M333.03 135.85H339.75L336.39 141.73Z" stroke="#0000ff" stroke-width="1.3" fill="none" stroke-linejoin="miter"/>
<path d="M340.41 134.03H347.13L343.77 139.91Z" stroke="#0000ff" stroke-width="1.3" fill="none" stroke-linejoin="miter"/>
<path d="M347.79 132.22H354.51L351.15 138.10Z" stroke="#0000ff" stroke-width="1.3" fill="none" stroke-linejoin="miter"/>
<path d="M355.17 130.40H361.89L358.53 136.28Z" stroke="#0000ff" stroke-width="1.3" fill="none" stroke-linejoin="miter"/>
<path d="M362.56 128.57H369.28L365.92 134.45Z" stroke="#0000ff" stroke-width="1.3" fill="none" stroke-linejoin="miter"/>
<path d="M369.94 126.75H376.66L373.30 132.63Z" stroke="#0000ff" stroke-width="1.3" fill="none" stroke-linejoin="miter"/>
<path d="M377.32 124.92H384.04L380.68 130.80Z" stroke="#0000ff" stroke-width="1.3" fill="none" stroke-linejoin="miter"/>
<path d="M384.71 123.09H391.43L388.07 128.97Z" stroke="#0000ff" stroke-width="1.3" fill="none" stroke-linejoin="miter"/>
<path d="M392.09 121.26H398.81L395.45 127.14Z" stroke="#0000ff" stroke-width="1.3" fill="none" stroke-linejoin="miter"/>
<path d="M399.47 119.43H406.19L402.83 125.31Z" stroke="#0000ff" stroke-width="1.3" fill="none" stroke-linejoin="miter"/>
<path d="M406.85 117.59H413.57L410.21 123.47Z" stroke="#0000ff" stroke-width="1.3" fill="none" stroke-linejoin="miter"/>
<path d="M414.24 115.75H420.96L417.60 121.63Z" stroke="#0000ff" stroke-width="1.3" fill="none" stroke-linejoin="miter"/>
<path d="M421.62 113.91H428.34L424.98 119.79Z" stroke="#0000ff" stroke-width="1.3" fill="none" stroke-linejoin="miter"/>
<path d="M429.00 112.07H435.72L432.36 117.95Z" stroke="#0000ff" stroke-width="1.3" fill="none" stroke-linejoin="miter"/>
<path d="M436.38 110.23H443.10L439.74 116.11Z" stroke="#0000ff" stroke-width="1.3" fill="none" stroke-linejoin="miter"/>
<path d="M443.77 108.38H450.49L447.13 114.26Z" stroke="#0000ff" stroke-width="1.3" fill="none" stroke-linejoin="miter"/>
<path d="M451.15 106.53H457.87L454.51 112.41Z" stroke="#0000ff" stroke-width="1.3" fill="none" stroke-linejoin="miter"/>
<path d="M458.53 104.68H465.25L461.89 110.56Z" stroke="#0000ff" stroke-width="1.3" fill="none" stroke-linejoin="miter"/>
<path d="M465.91 102.83H472.63L469.27 108.71Z" stroke="#0000ff" stroke-width="1.3" fill="none" stroke-linejoin="miter"/>
<path d="M473.30 100.97H480.02L476.66 106.85Z" stroke="#0000ff" stroke-width="1.3" fill="none" stroke-linejoin="miter"/>
<path d="M480.68 99.11H487.40L484.04 104.99Z" stroke="#0000ff" stroke-width="1.3" fill="none" stroke-linejoin="miter"/>
<path d="M488.06 97.25H494.78L491.42 103.13Z" stroke="#0000ff" stroke-width="1.3" fill="none" stroke-linejoin="miter"/>
<path d="M495.44 95.39H502.16L498.80 101.27Z" stroke="#0000ff" stroke-width="1.3" fill="none" stroke-linejoin="miter"/>
<path d="M502.83 93.52H509.55L506.19 99.40Z" stroke="#0000ff" stroke-width="1.3" fill="none" stroke-linejoin="miter"/>
<path d="M510.21 91.66H516.93L513.57 97.54Z" stroke="#0000ff" stroke-width="1.3" fill="none" stroke-linejoin="miter"/>
<path d="M517.59 89.79H524.31L520.95 95.67Z" stroke="#0000ff" stroke-width="1.3" fill="none" stroke-linejoin="miter"/>
<path d="M524.97 87.91H531.69L528.33 93.79Z" stroke="#0000ff" stroke-width="1.3" fill="none" stroke-linejoin="miter"/>
<path d="M532.36 86.04H539.08L535.72 91.92Z" stroke="#0000ff" stroke-width="1.3" fill="none" stroke-linejoin="miter"/>
<path d="M539.74 84.16H546.46L543.10 90.04Z" stroke="#0000ff" stroke-width="1.3" fill="none" stroke-linejoin="miter"/>
<path d="M30.34 188.00H37.06L33.70 193.88Z" stroke="#edb120" stroke-width="1.3" fill="none" stroke-linejoin="miter"/>
<path d="M37.72 186.25H44.44L41.08 192.13Z" stroke="#edb120" stroke-width="1.3" fill="none" stroke-linejoin="miter"/>
<path d="M45.11 184.50H51.83L48.47 190.38Z" stroke="#edb120" stroke-width="1.3" fill="none" stroke-linejoin="miter"/>
<path d="M52.49 182.75H59.21L55.85 188.63Z" stroke="#edb120" stroke-width="1.3" fill="none" stroke-linejoin="miter"/>
<path d="M59.87 181.00H66.59L63.23 186.88Z" stroke="#edb120" stroke-width="1.3" fill="none" stroke-linejoin="miter"/>
<path d="M67.25 179.24H73.97L70.61 185.12Z" stroke="#edb120" stroke-width="1.3" fill="none" stroke-linejoin="miter"/>
<path d="M74.64 177.48H81.36L78.00 183.36Z" stroke="#edb120" stroke-width="1.3" fill="none" stroke-linejoin="miter"/>
<path d="M82.02 175.72H88.74L85.38 181.60Z" stroke="#edb120" stroke-width="1.3" fill="none" stroke-linejoin="miter"/>
<path d="M89.40 173.96H96.12L92.76 179.84Z" stroke="#edb120" stroke-width="1.3" fill="none" stroke-linejoin="miter"/>
<path d="M96.78 172.20H103.50L100.14 178.08Z" stroke="#edb120" stroke-width="1.3" fill="none" stroke-linejoin="miter"/>
<path d="M104.17 170.44H110.89L107.53 176.32Z" stroke="#edb120" stroke-width="1.3" fill="none" stroke-linejoin="miter"/>
<path d="M111.55 168.67H118.27L114.91 174.55Z" stroke="#edb120" stroke-width="1.3" fill="none" stroke-linejoin="miter"/>
<path d="M118.93 166.90H125.65L122.29 172.78Z" stroke="#edb120" stroke-width="1.3" fill="none" stroke-linejoin="miter"/>
<path d="M126.31 165.13H133.03L129.67 171.01Z" stroke="#edb120" stroke-width="1.3" fill="none" stroke-linejoin="miter"/>
<path d="M133.70 163.36H140.42L137.06 169.24Z" stroke="#edb120" stroke-width="1.3" fill="none" stroke-linejoin="miter"/>
<path d="M141.08 161.59H147.80L144.44 167.47Z" stroke="#edb120" stroke-width="1.3" fill="none" stroke-linejoin="miter"/>
<path d="M148.46 159.81H155.18L151.82 165.69Z" stroke="#edb120" stroke-width="1.3" fill="none" stroke-linejoin="miter"/>
<path d="M155.84 158.03H162.56L159.20 163.91Z" stroke="#edb120" stroke-width="1.3" fill="none" stroke-linejoin="miter"/>
<path d="M163.23 156.26H169.95L166.59 162.14Z" stroke="#edb120" stroke-width="1.3" fill="none" stroke-linejoin="miter"/>
<path d="M170.61 154.48H177.33L173.97 160.36Z" stroke="#edb120" stroke-width="1.3" fill="none" stroke-linejoin="miter"/>
<path d="M177.99 152.69H184.71L181.35 158.57Z" stroke="#edb120" stroke-width="1.3" fill="none" stroke-linejoin="miter"/>
<path d="M185.37 150.91H192.09L188.73 156.79Z" stroke="#edb120" stroke-width="1.3" fill="none" stroke-linejoin="miter"/>
<path d="M192.76 149.12H199.48L196.12 155.00Z" stroke="#edb120" stroke-width="1.3" fill="none" stroke-linejoin="miter"/>
<path d="M200.14 147.33H206.86L203.50 153.21Z" stroke="#edb120" stroke-width="1.3" fill="none" stroke-linejoin="miter"/>
<path d="M207.52 145.54H214.24L210.88 151.42Z" stroke="#edb120" stroke-width="1.3" fill="none" stroke-linejoin="miter"/>
<path d="M214.91 143.75H221.63L218.27 149.63Z" stroke="#edb120" stroke-width="1.3" fill="none" stroke-linejoin="miter"/>
<path d="M222.29 141.96H229.01L225.65 147.84Z" stroke="#edb120" stroke-width="1.3" fill="none" stroke-linejoin="miter"/>
<path d="M229.67 140.16H236.39L233.03 146.04Z" stroke="#edb120" stroke-width="1.3" fill="none" stroke-linejoin="miter"/>
<path d="M237.05 138.36H243.77L240.41 144.24Z" stroke="#edb120" stroke-width="1.3" fill="none" stroke-linejoin="miter"/>
<path d="M244.44 136.56H251.16L247.80 142.44Z" stroke="#edb120" stroke-width="1.3" fill="none" stroke-linejoin="miter"/>
<path d="M251.82 134.76H258.54L255.18 140.64Z" stroke="#edb120" stroke-width="1.3" fill="none" stroke-linejoin="miter"/>
<path d="M259.20 132.96H265.92L262.56 138.84Z" stroke="#edb120" stroke-width="1.3" fill="none" stroke-linejoin="miter"/>
<path d="M266.58 131.15H273.30L269.94 137.03Z" stroke="#edb120" stroke-width="1.3" fill="none" stroke-linejoin="miter"/>
<path d="M273.97 129.34H280.69L277.33 135.22Z" stroke="#edb120" stroke-width="1.3" fill="none" stroke-linejoin="miter"/>
<path d="M281.35 127.53H288.07L284.71 133.41Z" stroke="#edb120" stroke-width="1.3" fill="none" stroke-linejoin="miter"/>
<path d="M288.73 125.72H295.45L292.09 131.60Z" stroke="#edb120" stroke-width="1.3" fill="none" stroke-linejoin="miter"/>
<path d="M296.11 123.90H302.83L299.47 129.78Z" stroke="#edb120" stroke-width="1.3" fill="none" stroke-linejoin="miter"/>
<path d="M303.50 122.08H310.22L306.86 127.96Z" stroke="#edb120" stroke-width="1.3" fill="none" stroke-linejoin="miter"/>
<path d="M310.88 120.27H317.60L314.24 126.15Z" stroke="#edb120" stroke-width="1.3" fill="none" stroke-linejoin="miter"/>
<path d="M318.26 118.44H324.98L321.62 124.32Z" stroke="#edb120" stroke-width="1.3" fill="none" stroke-linejoin="miter"/>
<path d="M325.64 116.62H332.36L329.00 122.50Z" stroke="#edb120" stroke-width="1.3" fill="none" stroke-linejoin="miter"/>
<path d="M333.03 114.79H339.75L336.39 120.67Z" stroke="#edb120" stroke-width="1.3" fill="none" stroke-linejoin="miter"/>
<path d="M340.41 112.97H347.13L343.77 118.85Z" stroke="#edb120" stroke-width="1.3" fill="none" stroke-linejoin="miter"/>
<path d="M347.79 111.14H354.51L351.15 117.02Z" stroke="#edb120" stroke-width="1.3" fill="none" stroke-linejoin="miter"/>
<path d="M355.17 109.30H361.89L358.53 115.18Z" stroke="#edb120" stroke-width="1.3" fill="none" stroke-linejoin="miter"/>
<path d="M362.56 107.47H369.28L365.92 113.35Z" stroke="#edb120" stroke-width="1.3" fill="none" stroke-linejoin="miter"/>
<path d="M369.94 105.63H376.66L373.30 111.51Z" stroke="#edb120" stroke-width="1.3" fill="none" stroke-linejoin="miter"/>
<path d="M377.32 103.79H384.04L380.68 109.67Z" stroke="#edb120" stroke-width="1.3" fill="none" stroke-linejoin="miter"/>
<path d="M384.71 101.95H391.43L388.07 107.83Z" stroke="#edb120" stroke-width="1.3" fill="none" stroke-linejoin="miter"/>
<path d="M392.09 100.10H398.81L395.45 105.98Z" stroke="#edb120" stroke-width="1.3" fill="none" stroke-linejoin="miter"/>
<path d="M399.47 98.26H406.19L402.83 104.14Z" stroke="#edb120" stroke-width="1.3" fill="none" stroke-linejoin="miter"/>
<path d="M406.85 96.41H413.57L410.21 102.29Z" stroke="#edb120" stroke-width="1.3" fill="none" stroke-linejoin="miter"/>
<path d="M414.24 94.56H420.96L417.60 100.44Z" stroke="#edb120" stroke-width="1.3" fill="none" stroke-linejoin="miter"/>
<path d="M421.62 92.70H428.34L424.98 98.58Z" stroke="#edb120" stroke-width="1.3" fill="none" stroke-linejoin="miter"/>
<path d="M429.00 90.85H435.72L432.36 96.73Z" stroke="#edb120" stroke-width="1.3" fill="none" stroke-linejoin="miter"/>
<path d="M436.38 88.99H443.10L439.74 94.87Z" stroke="#edb120" stroke-width="1.3" fill="none" stroke-linejoin="miter"/>
<path d="M443.77 87.13H450.49L447.13 93.01Z" stroke="#edb120" stroke-width="1.3" fill="none" stroke-linejoin="miter"/>
<path d="M451.15 85.26H457.87L454.51 91.14Z" stroke="#edb120" stroke-width="1.3" fill="none" stroke-linejoin="miter"/>
<path d="M458.53 83.40H465.25L461.89 89.28Z" stroke="#edb120" stroke-width="1.3" fill="none" stroke-linejoin="miter"/>
<path d="M465.91 81.53H472.63L469.27 87.41Z" stroke="#edb120" stroke-width="1.3" fill="none" stroke-linejoin="miter"/>
<path d="M473.30 79.66H480.02L476.66 85.54Z" stroke="#edb120" stroke-width="1.3" fill="none" stroke-linejoin="miter"/>
<path d="M480.68 77.78H487.40L484.04 83.66Z" stroke="#edb120" stroke-width="1.3" fill="none" stroke-linejoin="miter"/>
<path d="M488.06 75.91H494.78L491.42 81.79Z" stroke="#edb120" stroke-width="1.3" fill="none" stroke-linejoin="miter"/>
<path d="M495.44 74.03H502.16L498.80 79.91Z" stroke="#edb120" stroke-width="1.3" fill="none" stroke-linejoin="miter"/>
<path d="M502.83 72.15H509.55L506.19 78.03Z" stroke="#edb120" stroke-width="1.3" fill="none" stroke-linejoin="miter"/>
<path d="M510.21 70.26H516.93L513.57 76.14Z" stroke="#edb120" stroke-width="1.3" fill="none" stroke-linejoin="miter"/>
<path d="M517.59 68.38H524.31L520.95 74.26Z" stroke="#edb120" stroke-width="1.3" fill="none" stroke-linejoin="miter"/>
<path d="M524.97 66.49H531.69L528.33 72.37Z" stroke="#edb120" stroke-width="1.3" fill="none" stroke-linejoin="miter"/>
<path d="M532.36 64.60H539.08L535.72 70.48Z" stroke="#edb120" stroke-width="1.3" fill="none" stroke-linejoin="miter"/>
<path d="M539.74 62.70H546.46L543.10 68.58Z" stroke="#edb120" stroke-width="1.3" fill="none" stroke-linejoin="miter"/>
<path d="M30.34 167.68H37.06L33.70 173.56Z" stroke="#000000" stroke-width="1.3" fill="none" stroke-linejoin="miter"/>
<path d="M37.72 165.92H44.44L41.08 171.80Z" stroke="#000000" stroke-width="1.3" fill="none" stroke-linejoin="miter"/>
<path d="M45.11 164.16H51.83L48.47 170.04Z" stroke="#000000" stroke-width="1.3" fill="none" stroke-linejoin="miter"/>
<path d="M52.49 162.40H59.21L55.85 168.28Z" stroke="#000000" stroke-width="1.3" fill="none" stroke-linejoin="miter"/>
<path d="M59.87 160.64H66.59L63.23 166.52Z" stroke="#000000" stroke-width="1.3" fill="none" stroke-linejoin="miter"/>
<path d="M67.25 158.88H73.97L70.61 164.76Z" stroke="#000000" stroke-width="1.3" fill="none" stroke-linejoin="miter"/>
<path d="M74.64 157.11H81.36L78.00 162.99Z" stroke="#000000" stroke-width="1.3" fill="none" stroke-linejoin="miter"/>
<path d="M82.02 155.35H88.74L85.38 161.23Z" stroke="#000000" stroke-width="1.3" fill="none" stroke-linejoin="miter"/>
<path d="M89.40 153.58H96.12L92.76 159.46Z" stroke="#000000" stroke-width="1.3" fill="none" stroke-linejoin="miter"/>
<path d="M96.78 151.81H103.50L100.14 157.69Z" stroke="#000000" stroke-width="1.3" fill="none" stroke-linejoin="miter"/>
<path d="M104.17 150.04H110.89L107.53 155.92Z" stroke="#000000" stroke-width="1.3" fill="none" stroke-linejoin="miter"/>
<path d="M111.55 148.26H118.27L114.91 154.14Z" stroke="#000000" stroke-width="1.3" fill="none" stroke-linejoin="miter"/>
<path d="M118.93 146.49H125.65L122.29 152.37Z" stroke="#000000" stroke-width="1.3" fill="none" stroke-linejoin="miter"/>
<path d="M126.31 144.71H133.03L129.67 150.59Z" stroke="#000000" stroke-width="1.3" fill="none" stroke-linejoin="miter"/>
<path d="M133.70 142.93H140.42L137.06 148.81Z" stroke="#000000" stroke-width="1.3" fill="none" stroke-linejoin="miter"/>
<path d="M141.08 141.15H147.80L144.44 147.03Z" stroke="#000000" stroke-width="1.3" fill="none" stroke-linejoin="miter"/>
<path d="M148.46 139.36H155.18L151.82 145.24Z" stroke="#000000" stroke-width="1.3" fill="none" stroke-linejoin="miter"/>
<path d="M155.84 137.58H162.56L159.20 143.46Z" stroke="#000000" stroke-width="1.3" fill="none" stroke-linejoin="miter"/>
<path d="M163.23 135.79H169.95L166.59 141.67Z" stroke="#000000" stroke-width="1.3" fill="none" stroke-linejoin="miter"/>
<path d="M170.61 134.00H177.33L173.97 139.88Z" stroke="#000000" stroke-width="1.3" fill="none" stroke-linejoin="miter"/>
<path d="M177.99 132.21H184.71L181.35 138.09Z" stroke="#000000" stroke-width="1.3" fill="none" stroke-linejoin="miter"/>
<path d="M185.37 130.41H192.09L188.73 136.29Z" stroke="#000000" stroke-width="1.3" fill="none" stroke-linejoin="miter"/>
<path d="M192.76 128.61H199.48L196.12 134.49Z" stroke="#000000" stroke-width="1.3" fill="none" stroke-linejoin="miter"/>
<path d="M200.14 126.82H206.86L203.50 132.70Z" stroke="#000000" stroke-width="1.3" fill="none" stroke-linejoin="miter"/>
<path d="M207.52 125.02H214.24L210.88 130.90Z" stroke="#000000" stroke-width="1.3" fill="none" stroke-linejoin="miter"/>
<path d="M214.91 123.21H221.63L218.27 129.09Z" stroke="#000000" stroke-width="1.3" fill="none" stroke-linejoin="miter"/>
<path d="M222.29 121.41H229.01L225.65 127.29Z" stroke="#000000" stroke-width="1.3" fill="none" stroke-linejoin="miter"/>
<path d="M229.67 119.60H236.39L233.03 125.48Z" stroke="#000000" stroke-width="1.3" fill="none" stroke-linejoin="miter"/>
<path d="M237.05 117.79H243.77L240.41 123.67Z" stroke="#000000" stroke-width="1.3" fill="none" stroke-linejoin="miter"/>
<path d="M244.44 115.98H251.16L247.80 121.86Z" stroke="#000000" stroke-width="1.3" fill="none" stroke-linejoin="miter"/>
<path d="M251.82 114.17H258.54L255.18 120.05Z" stroke="#000000" stroke-width="1.3" fill="none" stroke-linejoin="miter"/>
<path d="M259.20 112.35H265.92L262.56 118.23Z" stroke="#000000" stroke-width="1.3" fill="none" stroke-linejoin="miter"/>
<path d="M266.58 110.53H273.30L269.94 116.41Z" stroke="#000000" stroke-width="1.3" fill="none" stroke-linejoin="miter"/>
<path d="M273.97 108.71H280.69L277.33 114.59Z" stroke="#000000" stroke-width="1.3" fill="none" stroke-linejoin="miter"/>
<path d="M281.35 106.89H288.07L284.71 112.77Z" stroke="#000000" stroke-width="1.3" fill="none" stroke-linejoin="miter"/>
<path d="M288.73 105.06H295.45L292.09 110.94Z" stroke="#000000" stroke-width="1.3" fill="none" stroke-linejoin="miter"/>
<path d="M296.11 103.23H302.83L299.47 109.11Z" stroke="#000000" stroke-width="1.3" fill="none" stroke-linejoin="miter"/>
<path d="M303.50 101.40H310.22L306.86 107.28Z" stroke="#000000" stroke-width="1.3" fill="none" stroke-linejoin="miter"/>
<path d="M310.88 99.57H317.60L314.24 105.45Z" stroke="#000000" stroke-width="1.3" fill="none" stroke-linejoin="miter"/>
<path d="M318.26 97.74H324.98L321.62 103.62Z" stroke="#000000" stroke-width="1.3" fill="none" stroke-linejoin="miter"/>
<path d="M325.64 95.90H332.36L329.00 101.78Z" stroke="#000000" stroke-width="1.3" fill="none" stroke-linejoin="miter"/>
<path d="M333.03 94.06H339.75L336.39 99.94Z" stroke="#000000" stroke-width="1.3" fill="none" stroke-linejoin="miter"/>
<path d="M340.41 92.22H347.13L343.77 98.10Z" stroke="#000000" stroke-width="1.3" fill="none" stroke-linejoin="miter"/>
<path d="M347.79 90.38H354.51L351.15 96.26Z" stroke="#000000" stroke-width="1.3" fill="none" stroke-linejoin="miter"/>
<path d="M355.17 88.53H361.89L358.53 94.41Z" stroke="#000000" stroke-width="1.3" fill="none" stroke-linejoin="miter"/>
<path d="M362.56 86.68H369.28L365.92 92.56Z" stroke="#000000" stroke-width="1.3" fill="none" stroke-linejoin="miter"/>
<path d="M369.94 84.83H376.66L373.30 90.71Z" stroke="#000000" stroke-width="1.3" fill="none" stroke-linejoin="miter"/>
<path d="M377.32 82.97H384.04L380.68 88.85Z" stroke="#000000" stroke-width="1.3" fill="none" stroke-linejoin="miter"/>
<path d="M384.71 81.12H391.43L388.07 87.00Z" stroke="#000000" stroke-width="1.3" fill="none" stroke-linejoin="miter"/>
<path d="M392.09 79.26H398.81L395.45 85.14Z" stroke="#000000" stroke-width="1.3" fill="none" stroke-linejoin="miter"/>
<path d="M399.47 77.40H406.19L402.83 83.28Z" stroke="#000000" stroke-width="1.3" fill="none" stroke-linejoin="miter"/>
<path d="M406.85 75.53H413.57L410.21 81.41Z" stroke="#000000" stroke-width="1.3" fill="none" stroke-linejoin="miter"/>
<path d="M414.24 73.66H420.96L417.60 79.54Z" stroke="#000000" stroke-width="1.3" fill="none" stroke-linejoin="miter"/>
<path d="M421.62 71.79H428.34L424.98 77.67Z" stroke="#000000" stroke-width="1.3" fill="none" stroke-linejoin="miter"/>
<path d="M429.00 69.92H435.72L432.36 75.80Z" stroke="#000000" stroke-width="1.3" fill="none" stroke-linejoin="miter"/>
<path d="M436.38 68.05H443.10L439.74 73.93Z" stroke="#000000" stroke-width="1.3" fill="none" stroke-linejoin="miter"/>
<path d="M443.77 66.17H450.49L447.13 72.05Z" stroke="#000000" stroke-width="1.3" fill="none" stroke-linejoin="miter"/>
<path d="M451.15 64.29H457.87L454.51 70.17Z" stroke="#000000" stroke-width="1.3" fill="none" stroke-linejoin="miter"/>
<path d="M458.53 62.41H465.25L461.89 68.29Z" stroke="#000000" stroke-width="1.3" fill="none" stroke-linejoin="miter"/>
<path d="M465.91 60.52H472.63L469.27 66.40Z" stroke="#000000" stroke-width="1.3" fill="none" stroke-linejoin="miter"/>
<path d="M473.30 58.63H480.02L476.66 64.51Z" stroke="#000000" stroke-width="1.3" fill="none" stroke-linejoin="miter"/>
<path d="M480.68 56.74H487.40L484.04 62.62Z" stroke="#000000" stroke-width="1.3" fill="none" stroke-linejoin="miter"/>
<path d="M488.06 54.85H494.78L491.42 60.73Z" stroke="#000000" stroke-width="1.3" fill="none" stroke-linejoin="miter"/>
<path d="M495.44 52.95H502.16L498.80 58.83Z" stroke="#000000" stroke-width="1.3" fill="none" stroke-linejoin="miter"/>
<path d="M502.83 51.05H509.55L506.19 56.93Z" stroke="#000000" stroke-width="1.3" fill="none" stroke-linejoin="miter"/>
<path d="M510.21 49.15H516.93L513.57 55.03Z" stroke="#000000" stroke-width="1.3" fill="none" stroke-linejoin="miter"/>
<path d="M517.59 47.24H524.31L520.95 53.12Z" stroke="#000000" stroke-width="1.3" fill="none" stroke-linejoin="miter"/>
<path d="M524.97 45.34H531.69L528.33 51.22Z" stroke="#000000" stroke-width="1.3" fill="none" stroke-linejoin="miter"/>
<path d="M532.36 43.43H539.08L535.72 49.31Z" stroke="#000000" stroke-width="1.3" fill="none" stroke-linejoin="miter"/>
<path d="M539.74 41.51H546.46L543.10 47.39Z" stroke="#000000" stroke-width="1.3" fill="none" stroke-linejoin="miter"/>
<rect x="60.5" y="22.8" width="96.8" height="74.3" fill="#fff" stroke="#cfcfcf" stroke-width="1.0"/>
<line x1="60.5" y1="44.7" x2="157.3" y2="44.7" stroke="#cfcfcf" stroke-width="1.0"/>
<rect x="159.6" y="22.8" width="92.9" height="75.5" fill="#fff" stroke="#cfcfcf" stroke-width="1.0"/>
<line x1="159.6" y1="44.7" x2="252.5" y2="44.7" stroke="#cfcfcf" stroke-width="1.0"/>
<path d="M80.00 51.10H86.00M83.00 48.10V54.10" stroke="#000" stroke-width="1.0" fill="none"/>
<text x="90.5" y="53.80" font-family="Liberation Serif" font-size="8.75" fill="#111" stroke="#111" stroke-width="0.12">Eq. 13.</text>
<circle cx="83.00" cy="61.00" r="2.76" stroke="#000" stroke-width="1.06" fill="none"/>
<text x="90.5" y="63.70" font-family="Liberation Serif" font-size="8.75" fill="#111" stroke="#111" stroke-width="0.12">Eq. 14.</text>
<circle cx="83.00" cy="71.20" r="1.1" fill="#000"/>
<text x="90.5" y="73.90" font-family="Liberation Serif" font-size="8.75" fill="#111" stroke="#111" stroke-width="0.12">Eqs. 7 and 16.</text>
<rect x="80.75" y="79.15" width="4.51" height="4.51" stroke="#000" stroke-width="1.2" fill="none"/>
<text x="90.5" y="84.10" font-family="Liberation Serif" font-size="8.75" fill="#111" stroke="#111" stroke-width="0.12">Eq. 21.</text>
<path d="M79.72 89.39H86.28L83.00 95.12Z" stroke="#000" stroke-width="1.2" fill="none" stroke-linejoin="miter"/>
<text x="90.5" y="94.00" font-family="Liberation Serif" font-size="8.75" fill="#111" stroke="#111" stroke-width="0.12">Eq. 22.</text>
<line x1="182" y1="51.0" x2="196" y2="51.0" stroke="#00ff00" stroke-width="1.3"/>
<text x="197.0" y="54.40" font-family="Liberation Serif" font-size="9.6" fill="#c2c2c2" stroke="#c2c2c2" stroke-width="0.12"><tspan font-style="italic">μ</tspan> ≈ 0.56</text>
<line x1="182" y1="61.6" x2="196" y2="61.6" stroke="#ff0000" stroke-width="1.3"/>
<text x="197.0" y="65.00" font-family="Liberation Serif" font-size="9.6" fill="#c2c2c2" stroke="#c2c2c2" stroke-width="0.12"><tspan font-style="italic">μ</tspan> ≈ 0.59</text>
<line x1="182" y1="72.2" x2="196" y2="72.2" stroke="#0000ff" stroke-width="1.3"/>
<text x="197.0" y="75.60" font-family="Liberation Serif" font-size="9.6" fill="#c2c2c2" stroke="#c2c2c2" stroke-width="0.12"><tspan font-style="italic">μ</tspan> ≈ 0.61</text>
<line x1="182" y1="82.7" x2="196" y2="82.7" stroke="#edb120" stroke-width="1.3"/>
<text x="197.0" y="86.10" font-family="Liberation Serif" font-size="9.6" fill="#c2c2c2" stroke="#c2c2c2" stroke-width="0.12"><tspan font-style="italic">μ</tspan> ≈ 0.64</text>
<line x1="182" y1="93.2" x2="196" y2="93.2" stroke="#000000" stroke-width="1.3"/>
<text x="197.0" y="96.60" font-family="Liberation Serif" font-size="9.6" fill="#c2c2c2" stroke="#c2c2c2" stroke-width="0.12"><tspan font-style="italic">μ</tspan> ≈ 0.66</text>
<text x="108.85" y="31.9" text-anchor="middle" font-family="Liberation Serif" font-weight="bold" font-size="8.9" fill="#111" stroke="#111" stroke-width="0.12">Plotted model/curvature</text>
<text x="108.85" y="42" text-anchor="middle" font-family="Liberation Serif" font-weight="bold" font-size="8.9" fill="#111" stroke="#111" stroke-width="0.12">parameter used (<tspan font-style="italic">ρ</tspan>).</text>
<text x="206" y="31.9" text-anchor="middle" font-family="Liberation Serif" font-weight="bold" font-size="9.05" fill="#111" stroke="#111" stroke-width="0.12">Friction coefficient (<tspan font-style="italic">μ</tspan>).</text>
<text x="206" y="42" text-anchor="middle" font-family="Liberation Serif" font-weight="bold" font-size="8.9" fill="#111" stroke="#111" stroke-width="0.12"><tspan font-style="italic">ρ</tspan> = 218 [m].</text>
<text x="33.10" y="302.2" text-anchor="middle" font-family="Liberation Serif" font-size="10.4" fill="#262626" stroke="#262626" stroke-width="0.12">0</text>
<text x="118.00" y="302.2" text-anchor="middle" font-family="Liberation Serif" font-size="10.4" fill="#262626" stroke="#262626" stroke-width="0.12">1</text>
<text x="202.90" y="302.2" text-anchor="middle" font-family="Liberation Serif" font-size="10.4" fill="#262626" stroke="#262626" stroke-width="0.12">2</text>
<text x="287.80" y="302.2" text-anchor="middle" font-family="Liberation Serif" font-size="10.4" fill="#262626" stroke="#262626" stroke-width="0.12">3</text>
<text x="372.70" y="302.2" text-anchor="middle" font-family="Liberation Serif" font-size="10.4" fill="#262626" stroke="#262626" stroke-width="0.12">4</text>
<text x="457.60" y="302.2" text-anchor="middle" font-family="Liberation Serif" font-size="10.4" fill="#262626" stroke="#262626" stroke-width="0.12">5</text>
<text x="542.50" y="302.2" text-anchor="middle" font-family="Liberation Serif" font-size="10.4" fill="#262626" stroke="#262626" stroke-width="0.12">6</text>
<text x="30.7" y="293.40" text-anchor="end" font-family="Liberation Serif" font-size="10.4" fill="#262626" stroke="#262626" stroke-width="0.12">120</text>
<text x="30.7" y="254.10" text-anchor="end" font-family="Liberation Serif" font-size="10.4" fill="#262626" stroke="#262626" stroke-width="0.12">125</text>
<text x="30.7" y="214.80" text-anchor="end" font-family="Liberation Serif" font-size="10.4" fill="#262626" stroke="#262626" stroke-width="0.12">130</text>
<text x="30.7" y="175.50" text-anchor="end" font-family="Liberation Serif" font-size="10.4" fill="#262626" stroke="#262626" stroke-width="0.12">135</text>
<text x="30.7" y="136.20" text-anchor="end" font-family="Liberation Serif" font-size="10.4" fill="#262626" stroke="#262626" stroke-width="0.12">140</text>
<text x="30.7" y="96.90" text-anchor="end" font-family="Liberation Serif" font-size="10.4" fill="#262626" stroke="#262626" stroke-width="0.12">145</text>
<text x="30.7" y="57.60" text-anchor="end" font-family="Liberation Serif" font-size="10.4" fill="#262626" stroke="#262626" stroke-width="0.12">150</text>
<text x="30.7" y="18.30" text-anchor="end" font-family="Liberation Serif" font-size="10.4" fill="#262626" stroke="#262626" stroke-width="0.12">155</text>
<text x="288.3" y="10.9" text-anchor="middle" font-family="Liberation Serif" font-weight="bold" font-size="10.8" fill="#000" stroke="#000" stroke-width="0.12">Maximum velocity vs. super-elevation angle.</text>
<text x="288" y="313.9" text-anchor="middle" font-family="Liberation Serif" font-size="10.35" fill="#262626" stroke="#262626" stroke-width="0.12">Super-elevation angle, <tspan font-style="italic">θ</tspan>°.</text>
<text transform="translate(12,151.6) rotate(-90)" text-anchor="middle" font-family="Liberation Serif" font-size="10.45" fill="#262626" stroke="#262626" stroke-width="0.12">Maximum velocity, [km/h].</text>
</svg>
</body></html>
